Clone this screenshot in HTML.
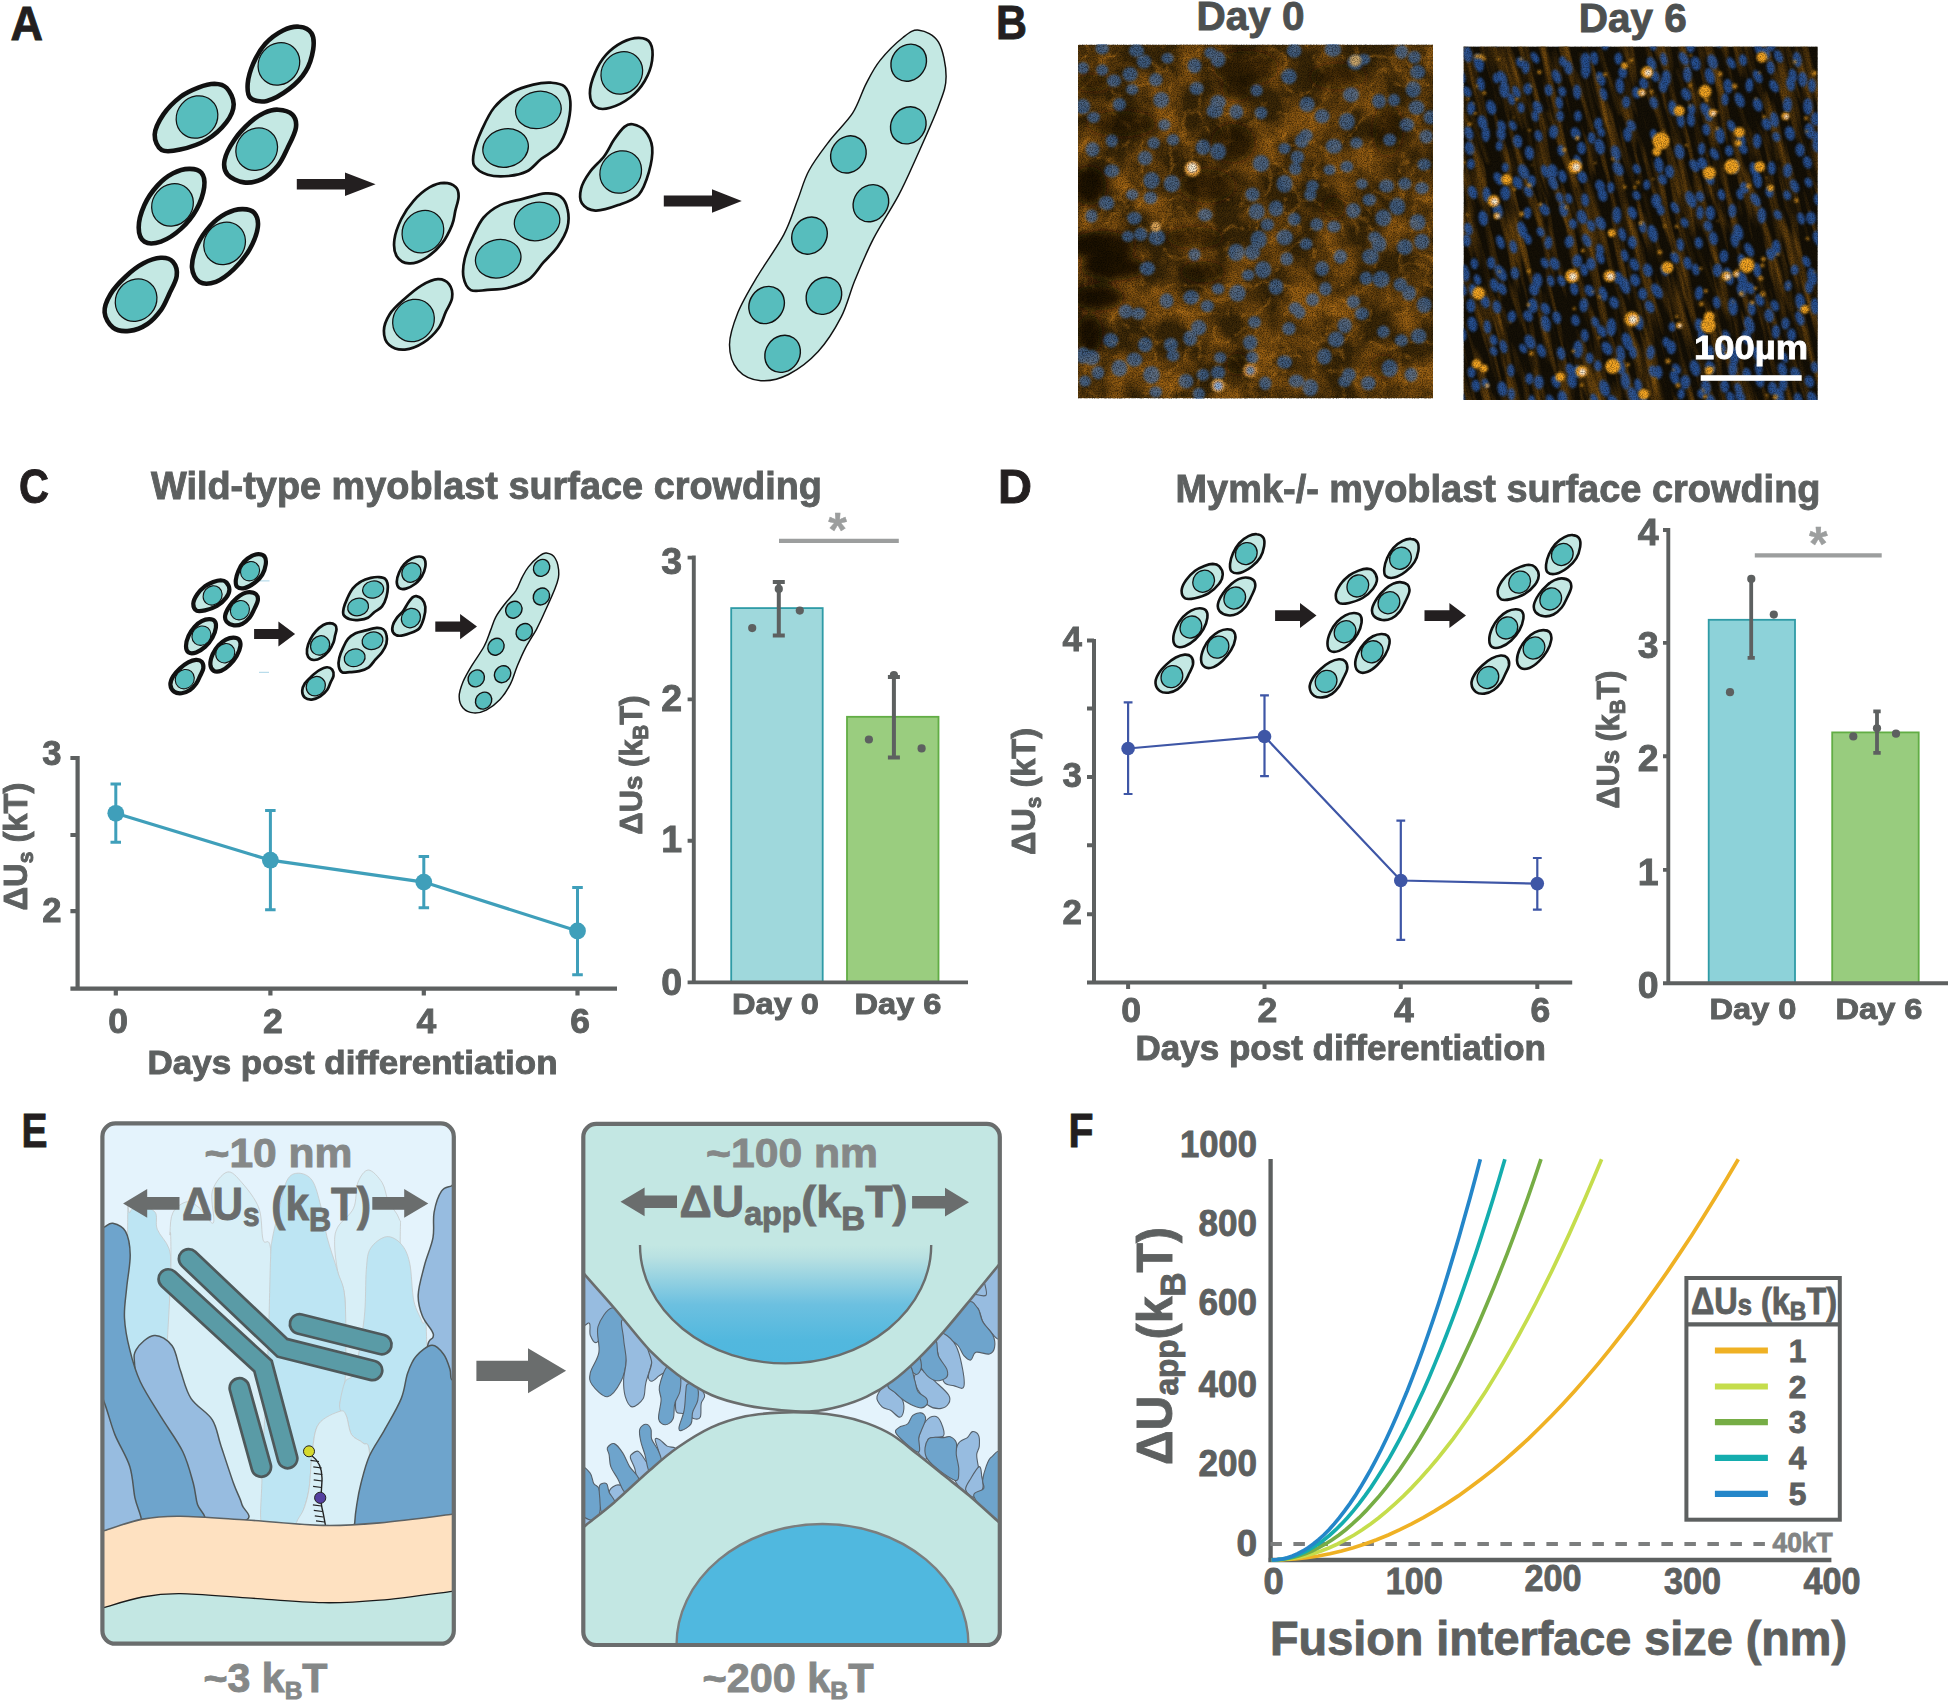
<!DOCTYPE html>
<html lang="en"><head><meta charset="utf-8"><title>Figure</title>
<style>html,body{margin:0;padding:0;background:#fff}body{width:1948px;height:1701px;overflow:hidden}svg{display:block}text{font-family:"Liberation Sans",sans-serif;font-weight:bold}</style></head><body>
<svg width="1948" height="1701" viewBox="0 0 1948 1701">
<defs>
<g id="cl1"><path d="M299.2 26.7C304 27.1 309.1 29.3 311.4 33.1C313.8 36.8 314.1 43 313.2 49.4C312.2 55.8 309.8 64.7 305.7 71.3C301.7 78 295.4 84.3 288.9 89.2C282.5 94.1 273.3 99.4 266.9 100.9C260.5 102.3 253.7 100.9 250.5 98C247.3 95.2 247.3 89.4 247.7 83.6C248.2 77.9 250.4 70.1 253.3 63.4C256.3 56.8 260.4 49.3 265.3 43.8C270.3 38.3 277.4 33.3 283 30.5C288.7 27.6 294.5 26.2 299.2 26.7Z" fill="#c4e8e3" stroke="#111" stroke-width="4.6" stroke-linejoin="round" vector-effect="non-scaling-stroke"/>
<path d="M214.5 83.7C219.2 83.8 223.5 84.6 226.7 88C229.9 91.4 233.8 98.5 233.7 104.2C233.7 110 230.9 116.4 226.3 122.3C221.7 128.3 213.9 135.5 206.2 140.1C198.5 144.6 187.6 147.9 180.2 149.6C172.8 151.2 166 152.4 161.7 150C157.5 147.5 154.5 140.6 154.7 134.6C155 128.7 159.1 120.7 163.4 114.4C167.7 108 174.8 101.2 180.6 96.7C186.5 92.3 192.7 89.8 198.3 87.6C203.9 85.4 209.7 83.7 214.5 83.7Z" fill="#c4e8e3" stroke="#111" stroke-width="4.6" stroke-linejoin="round" vector-effect="non-scaling-stroke"/>
<path d="M278.1 109.7C282.9 109.9 289.4 111.5 292.4 114.6C295.4 117.6 296.7 122.3 295.9 127.8C295.1 133.4 290.7 141.6 287.6 147.9C284.6 154.2 282.1 160.5 277.8 165.7C273.5 170.9 267.7 176.3 262 179.1C256.3 181.8 249.5 183.2 243.8 182.4C238 181.6 230.7 178.1 227.5 174.4C224.3 170.7 223.5 165.8 224.6 160.1C225.7 154.4 230 146.3 234.3 140C238.5 133.7 245.2 126.8 250.2 122.3C255.1 117.8 259.3 115.1 264 113C268.6 110.9 273.4 109.4 278.1 109.7Z" fill="#c4e8e3" stroke="#111" stroke-width="4.6" stroke-linejoin="round" vector-effect="non-scaling-stroke"/>
<path d="M189.2 168.9C193.9 168.8 198.9 169.8 201.4 172.8C203.9 175.8 205 181.1 204.2 187.1C203.4 193.2 200.5 202.2 196.7 209.1C192.8 216.1 186.9 223.5 180.9 228.9C175 234.3 167 239.4 161 241.6C154.9 243.7 148.3 244.2 144.6 241.8C140.9 239.5 138.7 233.6 138.7 227.5C138.6 221.4 141.2 212.2 144.3 205.2C147.4 198.2 152.6 190.9 157.4 185.6C162.2 180.3 167.7 176.1 173.1 173.3C178.4 170.5 184.5 169 189.2 168.9Z" fill="#c4e8e3" stroke="#111" stroke-width="4.6" stroke-linejoin="round" vector-effect="non-scaling-stroke"/>
<path d="M242.1 209.1C246.9 209 251.8 210 254.4 213C257 216.1 258.6 221.3 257.8 227.3C257 233.4 253.6 242.4 249.6 249.3C245.6 256.3 239.5 263.7 233.9 269.1C228.3 274.5 221.6 279.6 215.9 281.8C210.2 283.9 203.6 284.4 199.6 282C195.6 279.7 192.4 273.8 192 267.7C191.6 261.6 194.2 252.4 197.2 245.4C200.3 238.4 205.5 231.1 210.3 225.8C215.1 220.5 220.7 216.3 226 213.5C231.3 210.8 237.4 209.2 242.1 209.1Z" fill="#c4e8e3" stroke="#111" stroke-width="4.6" stroke-linejoin="round" vector-effect="non-scaling-stroke"/>
<path d="M160.6 257.8C165.6 257.5 170.2 258.7 172.9 261.7C175.6 264.8 177.4 270.6 176.7 276C176.1 281.4 171.7 288.5 169.1 294.2C166.5 299.8 164.7 304.9 161.1 309.9C157.5 314.8 152.7 320.5 147.4 324C142.1 327.6 135.1 330.3 129.3 330.9C123.6 331.5 117.1 330.8 113 327.7C108.9 324.6 105 318 104.6 312.4C104.1 306.8 106.9 300.2 110.5 294.2C114 288.2 120.3 281.6 125.8 276.5C131.3 271.3 137.6 266.4 143.5 263.3C149.3 260.2 155.7 258.1 160.6 257.8Z" fill="#c4e8e3" stroke="#111" stroke-width="4.6" stroke-linejoin="round" vector-effect="non-scaling-stroke"/>
<ellipse cx="278.9" cy="63.9" rx="22" ry="20" transform="rotate(-50 278.9 63.9)" fill="#57bdbd" stroke="#111" stroke-width="1.25" vector-effect="non-scaling-stroke"/>
<ellipse cx="197" cy="117" rx="22" ry="20" transform="rotate(-50 197 117)" fill="#57bdbd" stroke="#111" stroke-width="1.25" vector-effect="non-scaling-stroke"/>
<ellipse cx="256.7" cy="149.2" rx="22" ry="20" transform="rotate(-50 256.7 149.2)" fill="#57bdbd" stroke="#111" stroke-width="1.25" vector-effect="non-scaling-stroke"/>
<ellipse cx="172.5" cy="204.9" rx="22" ry="20" transform="rotate(-50 172.5 204.9)" fill="#57bdbd" stroke="#111" stroke-width="1.25" vector-effect="non-scaling-stroke"/>
<ellipse cx="224.6" cy="243.4" rx="22" ry="20" transform="rotate(-50 224.6 243.4)" fill="#57bdbd" stroke="#111" stroke-width="1.25" vector-effect="non-scaling-stroke"/>
<ellipse cx="136.1" cy="300.1" rx="22" ry="20" transform="rotate(-50 136.1 300.1)" fill="#57bdbd" stroke="#111" stroke-width="1.25" vector-effect="non-scaling-stroke"/></g>
<g id="cl1c"><path d="M299.2 26.7C304 27.1 309.1 29.3 311.4 33.1C313.8 36.8 314.1 43 313.2 49.4C312.2 55.8 309.8 64.7 305.7 71.3C301.7 78 295.4 84.3 288.9 89.2C282.5 94.1 273.3 99.4 266.9 100.9C260.5 102.3 253.7 100.9 250.5 98C247.3 95.2 247.3 89.4 247.7 83.6C248.2 77.9 250.4 70.1 253.3 63.4C256.3 56.8 260.4 49.3 265.3 43.8C270.3 38.3 277.4 33.3 283 30.5C288.7 27.6 294.5 26.2 299.2 26.7Z" fill="#c4e8e3" stroke="#111" stroke-width="4.2" stroke-linejoin="round" vector-effect="non-scaling-stroke"/>
<path d="M214.5 83.7C219.2 83.8 223.5 84.6 226.7 88C229.9 91.4 233.8 98.5 233.7 104.2C233.7 110 230.9 116.4 226.3 122.3C221.7 128.3 213.9 135.5 206.2 140.1C198.5 144.6 187.6 147.9 180.2 149.6C172.8 151.2 166 152.4 161.7 150C157.5 147.5 154.5 140.6 154.7 134.6C155 128.7 159.1 120.7 163.4 114.4C167.7 108 174.8 101.2 180.6 96.7C186.5 92.3 192.7 89.8 198.3 87.6C203.9 85.4 209.7 83.7 214.5 83.7Z" fill="#c4e8e3" stroke="#111" stroke-width="4.2" stroke-linejoin="round" vector-effect="non-scaling-stroke"/>
<path d="M278.1 109.7C282.9 109.9 289.4 111.5 292.4 114.6C295.4 117.6 296.7 122.3 295.9 127.8C295.1 133.4 290.7 141.6 287.6 147.9C284.6 154.2 282.1 160.5 277.8 165.7C273.5 170.9 267.7 176.3 262 179.1C256.3 181.8 249.5 183.2 243.8 182.4C238 181.6 230.7 178.1 227.5 174.4C224.3 170.7 223.5 165.8 224.6 160.1C225.7 154.4 230 146.3 234.3 140C238.5 133.7 245.2 126.8 250.2 122.3C255.1 117.8 259.3 115.1 264 113C268.6 110.9 273.4 109.4 278.1 109.7Z" fill="#c4e8e3" stroke="#111" stroke-width="4.2" stroke-linejoin="round" vector-effect="non-scaling-stroke"/>
<path d="M189.2 168.9C193.9 168.8 198.9 169.8 201.4 172.8C203.9 175.8 205 181.1 204.2 187.1C203.4 193.2 200.5 202.2 196.7 209.1C192.8 216.1 186.9 223.5 180.9 228.9C175 234.3 167 239.4 161 241.6C154.9 243.7 148.3 244.2 144.6 241.8C140.9 239.5 138.7 233.6 138.7 227.5C138.6 221.4 141.2 212.2 144.3 205.2C147.4 198.2 152.6 190.9 157.4 185.6C162.2 180.3 167.7 176.1 173.1 173.3C178.4 170.5 184.5 169 189.2 168.9Z" fill="#c4e8e3" stroke="#111" stroke-width="4.2" stroke-linejoin="round" vector-effect="non-scaling-stroke"/>
<path d="M242.1 209.1C246.9 209 251.8 210 254.4 213C257 216.1 258.6 221.3 257.8 227.3C257 233.4 253.6 242.4 249.6 249.3C245.6 256.3 239.5 263.7 233.9 269.1C228.3 274.5 221.6 279.6 215.9 281.8C210.2 283.9 203.6 284.4 199.6 282C195.6 279.7 192.4 273.8 192 267.7C191.6 261.6 194.2 252.4 197.2 245.4C200.3 238.4 205.5 231.1 210.3 225.8C215.1 220.5 220.7 216.3 226 213.5C231.3 210.8 237.4 209.2 242.1 209.1Z" fill="#c4e8e3" stroke="#111" stroke-width="4.2" stroke-linejoin="round" vector-effect="non-scaling-stroke"/>
<path d="M160.6 257.8C165.6 257.5 170.2 258.7 172.9 261.7C175.6 264.8 177.4 270.6 176.7 276C176.1 281.4 171.7 288.5 169.1 294.2C166.5 299.8 164.7 304.9 161.1 309.9C157.5 314.8 152.7 320.5 147.4 324C142.1 327.6 135.1 330.3 129.3 330.9C123.6 331.5 117.1 330.8 113 327.7C108.9 324.6 105 318 104.6 312.4C104.1 306.8 106.9 300.2 110.5 294.2C114 288.2 120.3 281.6 125.8 276.5C131.3 271.3 137.6 266.4 143.5 263.3C149.3 260.2 155.7 258.1 160.6 257.8Z" fill="#c4e8e3" stroke="#111" stroke-width="4.2" stroke-linejoin="round" vector-effect="non-scaling-stroke"/>
<ellipse cx="278.9" cy="63.9" rx="22" ry="20" transform="rotate(-50 278.9 63.9)" fill="#57bdbd" stroke="#111" stroke-width="1.1" vector-effect="non-scaling-stroke"/>
<ellipse cx="197" cy="117" rx="22" ry="20" transform="rotate(-50 197 117)" fill="#57bdbd" stroke="#111" stroke-width="1.1" vector-effect="non-scaling-stroke"/>
<ellipse cx="256.7" cy="149.2" rx="22" ry="20" transform="rotate(-50 256.7 149.2)" fill="#57bdbd" stroke="#111" stroke-width="1.1" vector-effect="non-scaling-stroke"/>
<ellipse cx="172.5" cy="204.9" rx="22" ry="20" transform="rotate(-50 172.5 204.9)" fill="#57bdbd" stroke="#111" stroke-width="1.1" vector-effect="non-scaling-stroke"/>
<ellipse cx="224.6" cy="243.4" rx="22" ry="20" transform="rotate(-50 224.6 243.4)" fill="#57bdbd" stroke="#111" stroke-width="1.1" vector-effect="non-scaling-stroke"/>
<ellipse cx="136.1" cy="300.1" rx="22" ry="20" transform="rotate(-50 136.1 300.1)" fill="#57bdbd" stroke="#111" stroke-width="1.1" vector-effect="non-scaling-stroke"/></g>
<g id="cl1d"><path d="M299.2 26.7C304 27.1 309.1 29.3 311.4 33.1C313.8 36.8 314.1 43 313.2 49.4C312.2 55.8 309.8 64.7 305.7 71.3C301.7 78 295.4 84.3 288.9 89.2C282.5 94.1 273.3 99.4 266.9 100.9C260.5 102.3 253.7 100.9 250.5 98C247.3 95.2 247.3 89.4 247.7 83.6C248.2 77.9 250.4 70.1 253.3 63.4C256.3 56.8 260.4 49.3 265.3 43.8C270.3 38.3 277.4 33.3 283 30.5C288.7 27.6 294.5 26.2 299.2 26.7Z" fill="#c4e8e3" stroke="#111" stroke-width="2.6" stroke-linejoin="round" vector-effect="non-scaling-stroke"/>
<path d="M214.5 83.7C219.2 83.8 223.5 84.6 226.7 88C229.9 91.4 233.8 98.5 233.7 104.2C233.7 110 230.9 116.4 226.3 122.3C221.7 128.3 213.9 135.5 206.2 140.1C198.5 144.6 187.6 147.9 180.2 149.6C172.8 151.2 166 152.4 161.7 150C157.5 147.5 154.5 140.6 154.7 134.6C155 128.7 159.1 120.7 163.4 114.4C167.7 108 174.8 101.2 180.6 96.7C186.5 92.3 192.7 89.8 198.3 87.6C203.9 85.4 209.7 83.7 214.5 83.7Z" fill="#c4e8e3" stroke="#111" stroke-width="2.6" stroke-linejoin="round" vector-effect="non-scaling-stroke"/>
<path d="M278.1 109.7C282.9 109.9 289.4 111.5 292.4 114.6C295.4 117.6 296.7 122.3 295.9 127.8C295.1 133.4 290.7 141.6 287.6 147.9C284.6 154.2 282.1 160.5 277.8 165.7C273.5 170.9 267.7 176.3 262 179.1C256.3 181.8 249.5 183.2 243.8 182.4C238 181.6 230.7 178.1 227.5 174.4C224.3 170.7 223.5 165.8 224.6 160.1C225.7 154.4 230 146.3 234.3 140C238.5 133.7 245.2 126.8 250.2 122.3C255.1 117.8 259.3 115.1 264 113C268.6 110.9 273.4 109.4 278.1 109.7Z" fill="#c4e8e3" stroke="#111" stroke-width="2.6" stroke-linejoin="round" vector-effect="non-scaling-stroke"/>
<path d="M189.2 168.9C193.9 168.8 198.9 169.8 201.4 172.8C203.9 175.8 205 181.1 204.2 187.1C203.4 193.2 200.5 202.2 196.7 209.1C192.8 216.1 186.9 223.5 180.9 228.9C175 234.3 167 239.4 161 241.6C154.9 243.7 148.3 244.2 144.6 241.8C140.9 239.5 138.7 233.6 138.7 227.5C138.6 221.4 141.2 212.2 144.3 205.2C147.4 198.2 152.6 190.9 157.4 185.6C162.2 180.3 167.7 176.1 173.1 173.3C178.4 170.5 184.5 169 189.2 168.9Z" fill="#c4e8e3" stroke="#111" stroke-width="2.6" stroke-linejoin="round" vector-effect="non-scaling-stroke"/>
<path d="M242.1 209.1C246.9 209 251.8 210 254.4 213C257 216.1 258.6 221.3 257.8 227.3C257 233.4 253.6 242.4 249.6 249.3C245.6 256.3 239.5 263.7 233.9 269.1C228.3 274.5 221.6 279.6 215.9 281.8C210.2 283.9 203.6 284.4 199.6 282C195.6 279.7 192.4 273.8 192 267.7C191.6 261.6 194.2 252.4 197.2 245.4C200.3 238.4 205.5 231.1 210.3 225.8C215.1 220.5 220.7 216.3 226 213.5C231.3 210.8 237.4 209.2 242.1 209.1Z" fill="#c4e8e3" stroke="#111" stroke-width="2.6" stroke-linejoin="round" vector-effect="non-scaling-stroke"/>
<path d="M160.6 257.8C165.6 257.5 170.2 258.7 172.9 261.7C175.6 264.8 177.4 270.6 176.7 276C176.1 281.4 171.7 288.5 169.1 294.2C166.5 299.8 164.7 304.9 161.1 309.9C157.5 314.8 152.7 320.5 147.4 324C142.1 327.6 135.1 330.3 129.3 330.9C123.6 331.5 117.1 330.8 113 327.7C108.9 324.6 105 318 104.6 312.4C104.1 306.8 106.9 300.2 110.5 294.2C114 288.2 120.3 281.6 125.8 276.5C131.3 271.3 137.6 266.4 143.5 263.3C149.3 260.2 155.7 258.1 160.6 257.8Z" fill="#c4e8e3" stroke="#111" stroke-width="2.6" stroke-linejoin="round" vector-effect="non-scaling-stroke"/>
<ellipse cx="278.9" cy="63.9" rx="22" ry="20" transform="rotate(-50 278.9 63.9)" fill="#57bdbd" stroke="#111" stroke-width="1.3" vector-effect="non-scaling-stroke"/>
<ellipse cx="197" cy="117" rx="22" ry="20" transform="rotate(-50 197 117)" fill="#57bdbd" stroke="#111" stroke-width="1.3" vector-effect="non-scaling-stroke"/>
<ellipse cx="256.7" cy="149.2" rx="22" ry="20" transform="rotate(-50 256.7 149.2)" fill="#57bdbd" stroke="#111" stroke-width="1.3" vector-effect="non-scaling-stroke"/>
<ellipse cx="172.5" cy="204.9" rx="22" ry="20" transform="rotate(-50 172.5 204.9)" fill="#57bdbd" stroke="#111" stroke-width="1.3" vector-effect="non-scaling-stroke"/>
<ellipse cx="224.6" cy="243.4" rx="22" ry="20" transform="rotate(-50 224.6 243.4)" fill="#57bdbd" stroke="#111" stroke-width="1.3" vector-effect="non-scaling-stroke"/>
<ellipse cx="136.1" cy="300.1" rx="22" ry="20" transform="rotate(-50 136.1 300.1)" fill="#57bdbd" stroke="#111" stroke-width="1.3" vector-effect="non-scaling-stroke"/></g>
<g id="cl2"><path d="M638.9 37.9C643.5 38 648 39.2 650.2 43C652.4 46.8 653 54.3 652.1 60.6C651.2 66.9 648.3 74.9 644.7 81C641.1 87.1 636.3 92.8 630.5 97.3C624.8 101.7 615.9 106.2 610.1 107.8C604.2 109.5 598.9 109.3 595.6 107C592.2 104.6 590 99.1 589.9 93.5C589.8 87.8 592.2 79.4 595 72.9C597.7 66.4 601.6 59.8 606.2 54.7C610.8 49.6 617 45.1 622.4 42.3C627.8 39.5 634.2 37.8 638.9 37.9Z" fill="#c4e8e3" stroke="#111" stroke-width="2.7" stroke-linejoin="round" vector-effect="non-scaling-stroke"/>
<path d="M551 82.7C556.2 83.1 561.3 83.4 564.5 86.4C567.8 89.5 569.8 94.4 570.3 101C570.8 107.6 569.4 118.3 567.4 125.9C565.3 133.5 562.3 141 557.9 146.5C553.6 152 546.6 154.6 541.4 158.8C536.3 162.9 532.6 168.4 527.1 171.3C521.6 174.2 515.1 175.4 508.5 176C501.9 176.6 493.4 176.5 487.7 174.7C481.9 172.9 476.4 169.4 474.1 165.4C471.9 161.4 473 156.7 474.2 150.8C475.5 144.9 478.4 137.3 481.7 130.1C485.1 122.8 489 113.8 494.2 107.5C499.4 101.1 506.2 95.8 512.7 92C519.2 88.1 526.9 86.1 533.3 84.6C539.7 83 545.8 82.4 551 82.7Z" fill="#c4e8e3" stroke="#111" stroke-width="2.7" stroke-linejoin="round" vector-effect="non-scaling-stroke"/>
<path d="M632.6 124.3C636.1 125 641.8 127.1 645 130.9C648.3 134.8 651.5 140.6 652.2 147.5C652.8 154.4 651.1 164.3 648.9 172.2C646.6 180.1 643.8 189.3 638.7 194.8C633.6 200.3 625.4 202.5 618.2 205.1C611 207.8 601.5 210.9 595.4 210.6C589.4 210.3 584.3 207 581.9 203.3C579.5 199.7 579.8 193.9 581.1 188.7C582.3 183.6 585.8 177.6 589.7 172.2C593.5 166.7 600.2 161.6 604.2 156.2C608.3 150.7 610.7 144.5 614.1 139.6C617.5 134.7 621.3 129.5 624.4 126.9C627.5 124.4 629.2 123.6 632.6 124.3Z" fill="#c4e8e3" stroke="#111" stroke-width="2.7" stroke-linejoin="round" vector-effect="non-scaling-stroke"/>
<path d="M444.2 182.9C448.5 182.9 453.2 184.8 455.6 187C458 189.2 458.7 192.4 458.6 196.4C458.6 200.3 456.4 206.1 455.3 210.9C454.2 215.7 454.3 219.7 452 225.1C449.8 230.5 446.4 237.9 442 243.4C437.6 248.9 431.2 254.7 425.7 258.1C420.2 261.4 414 263.8 409.1 263.4C404.3 263.1 399.2 260.2 396.7 256.2C394.3 252.2 393.6 245.8 394.4 239.6C395.2 233.4 398.1 225.5 401.3 219C404.5 212.5 408.8 206.1 413.6 200.8C418.3 195.5 424.7 190.2 429.8 187.2C434.9 184.3 439.9 183 444.2 182.9Z" fill="#c4e8e3" stroke="#111" stroke-width="2.7" stroke-linejoin="round" vector-effect="non-scaling-stroke"/>
<path d="M545.7 193.4C551.9 193 556.6 193.9 560.3 196.4C563.9 199 566.4 203.7 567.5 209C568.7 214.2 569 221.5 567.4 227.7C565.8 233.9 561.9 240.5 557.8 246.4C553.8 252.2 548.1 257.2 543.2 262.7C538.4 268.2 534.8 275.1 528.9 279.3C523.1 283.4 515.2 285.9 508.3 287.7C501.4 289.5 493.8 289.5 487.5 289.9C481.3 290.3 474.8 292.2 470.8 290.1C466.8 288 464.6 282.8 463.6 277.6C462.5 272.4 463.1 265.7 464.7 258.8C466.4 251.9 470.1 242.9 473.3 236C476.4 229.1 479.1 222.7 483.6 217.5C488.1 212.4 493.6 208.3 500.1 205.1C506.6 202 515.2 200.8 522.8 198.9C530.4 196.9 539.4 193.8 545.7 193.4Z" fill="#c4e8e3" stroke="#111" stroke-width="2.7" stroke-linejoin="round" vector-effect="non-scaling-stroke"/>
<path d="M437.8 279.2C442.4 279 446.8 281.2 449.2 284.3C451.6 287.4 452.7 293.1 452.1 297.7C451.6 302.4 448 307.1 445.7 312.1C443.4 317.2 442.2 323.2 438.5 328.3C434.8 333.4 429 339.2 423.4 342.7C417.8 346.3 410.5 349.2 404.9 349.6C399.2 350 392.8 348.3 389.3 345.1C385.8 342 383.8 335.8 383.9 330.7C383.9 325.5 386.5 319.3 389.7 314.2C392.9 309.1 397.9 304.8 403.2 300.1C408.4 295.3 415.5 289.1 421.3 285.6C427.1 282.2 433.2 279.4 437.8 279.2Z" fill="#c4e8e3" stroke="#111" stroke-width="2.7" stroke-linejoin="round" vector-effect="non-scaling-stroke"/>
<ellipse cx="621.8" cy="72.9" rx="22" ry="20" transform="rotate(-50 621.8 72.9)" fill="#57bdbd" stroke="#111" stroke-width="1.25" vector-effect="non-scaling-stroke"/>
<ellipse cx="538.4" cy="109.9" rx="23" ry="18.5" transform="rotate(-12 538.4 109.9)" fill="#57bdbd" stroke="#111" stroke-width="1.25" vector-effect="non-scaling-stroke"/>
<ellipse cx="505.6" cy="148" rx="23" ry="19" transform="rotate(-15 505.6 148)" fill="#57bdbd" stroke="#111" stroke-width="1.25" vector-effect="non-scaling-stroke"/>
<ellipse cx="620.7" cy="172" rx="22" ry="20" transform="rotate(-50 620.7 172)" fill="#57bdbd" stroke="#111" stroke-width="1.25" vector-effect="non-scaling-stroke"/>
<ellipse cx="422.9" cy="231.6" rx="22" ry="20" transform="rotate(-50 422.9 231.6)" fill="#57bdbd" stroke="#111" stroke-width="1.25" vector-effect="non-scaling-stroke"/>
<ellipse cx="537.1" cy="221.5" rx="23" ry="19" transform="rotate(-15 537.1 221.5)" fill="#57bdbd" stroke="#111" stroke-width="1.25" vector-effect="non-scaling-stroke"/>
<ellipse cx="498.2" cy="258.7" rx="23" ry="19" transform="rotate(-15 498.2 258.7)" fill="#57bdbd" stroke="#111" stroke-width="1.25" vector-effect="non-scaling-stroke"/>
<ellipse cx="413.5" cy="320.5" rx="22" ry="20" transform="rotate(-50 413.5 320.5)" fill="#57bdbd" stroke="#111" stroke-width="1.25" vector-effect="non-scaling-stroke"/></g>
<g id="tube"><path d="M919 30.2C924.9 30.9 934 34.4 938.5 42.1C943 49.8 946.1 65.8 946.1 76.5C946.1 87.2 943.4 92.9 938.5 106.3C933.6 119.6 923.4 141.8 916.7 156.7C910 171.6 905.7 181.9 898.4 195.7C891.1 209.4 880.4 225.1 873.2 239.2C865.9 253.4 860.2 267.5 854.8 280.5C849.5 293.5 847.2 305.3 841.1 317.2C835 329 827 342 818.2 351.5C809.4 361.1 797.9 369.6 788.4 374.5C778.8 379.3 769.3 381.4 760.9 380.7C752.5 379.9 743.2 375.9 737.9 369.9C732.7 363.9 729.5 354.2 729.5 344.7C729.5 335.1 733.5 323.7 737.9 312.6C742.4 301.5 748.6 291.2 756.3 278.2C763.9 265.2 776.9 247.6 783.8 234.6C790.7 221.7 793.3 211 797.5 200.3C801.7 189.6 803.6 180.4 809 170.5C814.3 160.5 822.4 150.2 829.6 140.7C836.9 131.1 846.4 122.7 852.6 113.2C858.7 103.6 861.7 92.1 866.3 83.4C870.9 74.6 873.9 68.1 880.1 60.4C886.2 52.8 896.5 42.6 903 37.5C909.5 32.5 913.1 29.4 919 30.2Z" fill="#c4e8e3" stroke="#111" stroke-width="1.45" vector-effect="non-scaling-stroke"/>
<ellipse cx="908.7" cy="62.7" rx="19.3" ry="17" transform="rotate(-55 908.7 62.7)" fill="#57bdbd" stroke="#111" stroke-width="1.4" vector-effect="non-scaling-stroke"/>
<ellipse cx="908.3" cy="125.3" rx="19.3" ry="17" transform="rotate(-55 908.3 125.3)" fill="#57bdbd" stroke="#111" stroke-width="1.4" vector-effect="non-scaling-stroke"/>
<ellipse cx="848.4" cy="154.4" rx="19.3" ry="17" transform="rotate(-55 848.4 154.4)" fill="#57bdbd" stroke="#111" stroke-width="1.4" vector-effect="non-scaling-stroke"/>
<ellipse cx="870.9" cy="203.2" rx="19.3" ry="17" transform="rotate(-55 870.9 203.2)" fill="#57bdbd" stroke="#111" stroke-width="1.4" vector-effect="non-scaling-stroke"/>
<ellipse cx="809.5" cy="235.6" rx="19.3" ry="17" transform="rotate(-55 809.5 235.6)" fill="#57bdbd" stroke="#111" stroke-width="1.4" vector-effect="non-scaling-stroke"/>
<ellipse cx="823.9" cy="295.8" rx="19.3" ry="17" transform="rotate(-55 823.9 295.8)" fill="#57bdbd" stroke="#111" stroke-width="1.4" vector-effect="non-scaling-stroke"/>
<ellipse cx="766.6" cy="305" rx="19.3" ry="17" transform="rotate(-55 766.6 305)" fill="#57bdbd" stroke="#111" stroke-width="1.4" vector-effect="non-scaling-stroke"/>
<ellipse cx="782.6" cy="353.8" rx="19.3" ry="17" transform="rotate(-55 782.6 353.8)" fill="#57bdbd" stroke="#111" stroke-width="1.4" vector-effect="non-scaling-stroke"/></g>

<clipPath id="clipB1"><rect x="1078" y="44.8" width="355" height="353.4"/></clipPath>
<clipPath id="clipB2"><rect x="1463.5" y="46.4" width="354.3" height="353.6"/></clipPath>
<filter id="blur1" x="-5%" y="-5%" width="110%" height="110%"><feGaussianBlur stdDeviation="1"/></filter>
<filter id="blur2" x="-5%" y="-5%" width="110%" height="110%"><feGaussianBlur stdDeviation="1.6"/></filter>
<filter id="blur4" x="-10%" y="-10%" width="120%" height="120%"><feGaussianBlur stdDeviation="4.5"/></filter>
<filter id="cloud1" x="0" y="0" width="100%" height="100%" color-interpolation-filters="sRGB"><feTurbulence type="fractalNoise" baseFrequency="0.028" numOctaves="4" seed="3"/>
<feColorMatrix type="matrix" values="0 0 0 0 0.60  0 0 0 0 0.375  0 0 0 0 0.075  2.4 0 0 0 -0.85"/></filter>
<filter id="web1" x="0" y="0" width="100%" height="100%" color-interpolation-filters="sRGB"><feTurbulence type="turbulence" baseFrequency="0.035" numOctaves="3" seed="5"/>
<feColorMatrix type="matrix" values="0 0 0 0 0.85  0 0 0 0 0.55  0 0 0 0 0.14  -5 0 0 0 1.0"/><feGaussianBlur stdDeviation="0.7"/></filter>
<filter id="cloud2" x="0" y="0" width="100%" height="100%" color-interpolation-filters="sRGB"><feTurbulence type="fractalNoise" baseFrequency="0.11 0.012" numOctaves="3" seed="8"/>
<feColorMatrix type="matrix" values="0 0 0 0 0.50  0 0 0 0 0.32  0 0 0 0 0.06  2.3 0 0 0 -1.02"/></filter>
<filter id="grain" x="0" y="0" width="100%" height="100%" color-interpolation-filters="sRGB"><feTurbulence type="fractalNoise" baseFrequency="0.8" numOctaves="2" seed="2"/>
<feColorMatrix type="matrix" values="0 0 0 0 0  0 0 0 0 0  0 0 0 0 0  2.4 0 0 0 -0.9"/></filter>

<clipPath id="clipE1"><rect x="102.4" y="1123.4" width="351.4" height="520.3" rx="13"/></clipPath>
<clipPath id="clipE2"><rect x="583.3" y="1123.9" width="416.5" height="521.1" rx="13"/></clipPath>
<clipPath id="clipGap"><path d="M575 1263C576.8 1265.1 579.1 1268.1 585.6 1275.6C592.1 1283.1 603.5 1295.5 614.2 1308C624.9 1320.5 639.5 1339.5 650 1350.6C660.5 1361.7 667.1 1367.1 677.3 1374.5C687.5 1381.9 700 1389.9 711.4 1395C722.8 1400.1 734.1 1402.7 745.5 1405.2C756.9 1407.7 768.5 1409 779.6 1410C790.7 1411 801.7 1412.1 812 1411.4C822.3 1410.7 832.1 1408.5 841.2 1406C850.3 1403.5 858.2 1400.8 866.7 1396.7C875.2 1392.6 883.8 1387.6 892.3 1381.3C900.8 1375 909.4 1367.3 917.9 1359.1C926.4 1350.9 935 1341.6 943.5 1331.9C952 1322.2 960.1 1312.2 969.1 1301.2C978.1 1290.2 991.2 1274.2 997.7 1266.2C1004.2 1258.2 1006.3 1255.6 1008 1253.5L1008 1530.5C1006.3 1528.9 1004.2 1526.9 997.7 1521.1C991.2 1515.3 978.1 1503.3 969.1 1495.6C960.1 1487.9 952 1481.9 943.5 1475.1C935 1468.3 926.4 1461.3 917.9 1454.6C909.4 1447.9 900.8 1440.2 892.3 1435C883.8 1429.8 875.2 1426.2 866.7 1423.1C858.2 1420 850.3 1418 841.2 1416.3C832.1 1414.6 822.3 1413.4 812 1412.8C801.7 1412.2 790.7 1412 779.6 1412.6C768.5 1413.2 756.9 1413.8 745.5 1416.3C734.1 1418.8 722.8 1422.2 711.4 1427.4C700 1432.7 687.5 1440.7 677.3 1447.8C667.1 1454.9 660.5 1460.9 650 1470C639.5 1479.1 624.9 1493.2 614.2 1502.4C603.5 1511.6 592.1 1520.1 585.6 1525.4C579.1 1530.7 576.8 1532.6 575 1534Z"/></clipPath>
<linearGradient id="gradN" x1="0" y1="1245" x2="0" y2="1364" gradientUnits="userSpaceOnUse"><stop offset="0" stop-color="#c3e7e3"/><stop offset="0.1" stop-color="#b9e1e2"/><stop offset="0.5" stop-color="#6cc0e0"/><stop offset="0.8" stop-color="#52b8de"/><stop offset="1" stop-color="#4fb7de"/></linearGradient>

</defs>
<rect width="1948" height="1701" fill="#fff"/>
<!-- Panel A -->
<text x="10.5" y="39.9" font-size="47.8" fill="#231f20" stroke="#231f20" stroke-width="0.9" textLength="32.5" lengthAdjust="spacingAndGlyphs">A</text>
<use href="#cl1"/>
<use href="#cl2"/>
<use href="#tube"/>
<path d="M296.8 179H345V172.6L375.6 184.3L345 196V189.6H296.8Z" fill="#231f20"/>
<path d="M663.8 195.6H712V189.2L741.8 201L712 212.8V206.4H663.8Z" fill="#231f20"/>
<!-- Panel B -->
<text x="996" y="39.3" font-size="47.8" fill="#231f20" stroke="#231f20" stroke-width="0.9" textLength="31" lengthAdjust="spacingAndGlyphs">B</text>
<text x="1196.5" y="29.9" font-size="40.8" fill="#4d5050" stroke="#4d5050" stroke-width="0.9" textLength="108" lengthAdjust="spacingAndGlyphs">Day 0</text>
<text x="1578.7" y="31.6" font-size="40.8" fill="#4d5050" stroke="#4d5050" stroke-width="0.9" textLength="108" lengthAdjust="spacingAndGlyphs">Day 6</text>
<g clip-path="url(#clipB1)">
<rect x="1078" y="44.8" width="355" height="353.4" fill="#3d2908"/>
<rect x="1078" y="44.8" width="355" height="353.4" filter="url(#cloud1)"/>
<rect x="1078" y="44.8" width="355" height="353.4" filter="url(#web1)" opacity="0.45"/>
<g filter="url(#blur4)" fill="#1a1103">
<ellipse cx="1246" cy="67.9" rx="32.2" ry="17.2" opacity="0.6"/>
<ellipse cx="1093.6" cy="82.9" rx="17.2" ry="8.6" opacity="0.6"/>
<ellipse cx="1338.2" cy="76.5" rx="27.9" ry="12.9" opacity="0.6"/>
<ellipse cx="1237.4" cy="89.4" rx="15" ry="10.7" opacity="0.6"/>
<ellipse cx="1121.5" cy="123.7" rx="34.3" ry="12.9" opacity="0.6"/>
<ellipse cx="1233.1" cy="143" rx="21.5" ry="19.3" opacity="0.6"/>
<ellipse cx="1207.3" cy="185.9" rx="27.9" ry="17.2" opacity="0.6"/>
<ellipse cx="1089.3" cy="185.9" rx="17.2" ry="19.3" opacity="0.9"/>
<ellipse cx="1102.2" cy="246" rx="32.2" ry="15" opacity="0.9"/>
<ellipse cx="1112.9" cy="267.5" rx="32.2" ry="12.9" opacity="0.9"/>
<ellipse cx="1194.5" cy="237.4" rx="27.9" ry="10.7" opacity="0.6"/>
<ellipse cx="1203" cy="271.8" rx="21.5" ry="10.7" opacity="0.6"/>
<ellipse cx="1097.9" cy="297.5" rx="25.8" ry="12.9" opacity="0.9"/>
<ellipse cx="1089.3" cy="334" rx="12.9" ry="19.3" opacity="0.9"/>
<ellipse cx="1387.6" cy="130.1" rx="15" ry="25.8" opacity="0.6"/>
<ellipse cx="1333.9" cy="207.4" rx="10.7" ry="10.7" opacity="0.6"/>
<ellipse cx="1383.3" cy="366.2" rx="12.9" ry="10.7" opacity="0.6"/>
<ellipse cx="1237.4" cy="364" rx="10.7" ry="10.7" opacity="0.6"/>
</g>
<g filter="url(#blur1)" fill="#4277bd" opacity="0.66">
<ellipse cx="1102.2" cy="48.6" rx="6.8" ry="6"/>
<ellipse cx="1136.5" cy="50.7" rx="7.6" ry="6.6"/>
<ellipse cx="1144" cy="61.5" rx="7.3" ry="6.9"/>
<ellipse cx="1082.9" cy="67.9" rx="6.1" ry="6"/>
<ellipse cx="1102.2" cy="70" rx="6.1" ry="5.8"/>
<ellipse cx="1167.6" cy="58.2" rx="6.2" ry="5.4"/>
<ellipse cx="1194.5" cy="65.8" rx="7" ry="7.4"/>
<ellipse cx="1210.6" cy="52.9" rx="6.3" ry="5.7"/>
<ellipse cx="1218.1" cy="59.3" rx="7.5" ry="8.2"/>
<ellipse cx="1294.2" cy="50.7" rx="7.4" ry="7"/>
<ellipse cx="1332.9" cy="49.7" rx="8.3" ry="7.2"/>
<ellipse cx="1355.4" cy="62.5" rx="8.1" ry="7.4"/>
<ellipse cx="1364" cy="59.3" rx="6.3" ry="5.6"/>
<ellipse cx="1401.5" cy="51.8" rx="6.7" ry="7.1"/>
<ellipse cx="1414.4" cy="57.2" rx="6.4" ry="6.4"/>
<ellipse cx="1417.6" cy="72.2" rx="7.5" ry="7.1"/>
<ellipse cx="1114" cy="80.8" rx="7.3" ry="6.3"/>
<ellipse cx="1132.2" cy="89.4" rx="6.1" ry="5.5"/>
<ellipse cx="1130.1" cy="74.3" rx="7.6" ry="7.3"/>
<ellipse cx="1155.8" cy="79.7" rx="6.8" ry="6.7"/>
<ellipse cx="1196.6" cy="88.3" rx="7.1" ry="6.6"/>
<ellipse cx="1161.2" cy="100.1" rx="7.9" ry="8.1"/>
<ellipse cx="1119.4" cy="104.4" rx="6.6" ry="6.5"/>
<ellipse cx="1082.9" cy="106.5" rx="7.3" ry="7.8"/>
<ellipse cx="1218.1" cy="102.2" rx="7.8" ry="7.1"/>
<ellipse cx="1214.8" cy="110.8" rx="8.4" ry="7.3"/>
<ellipse cx="1236.3" cy="111.9" rx="7" ry="7.3"/>
<ellipse cx="1261" cy="113" rx="6.4" ry="6.2"/>
<ellipse cx="1256.7" cy="90.4" rx="6.1" ry="6.2"/>
<ellipse cx="1288.9" cy="76.5" rx="7.8" ry="7.8"/>
<ellipse cx="1351.1" cy="94.7" rx="8.1" ry="7.5"/>
<ellipse cx="1307.1" cy="104.4" rx="7.7" ry="7.7"/>
<ellipse cx="1322.1" cy="116.2" rx="7.4" ry="7.1"/>
<ellipse cx="1346.8" cy="121.5" rx="8" ry="8.7"/>
<ellipse cx="1379" cy="101.2" rx="7.1" ry="7.3"/>
<ellipse cx="1394" cy="100.1" rx="6.1" ry="6.3"/>
<ellipse cx="1413.3" cy="89.4" rx="7.6" ry="8.3"/>
<ellipse cx="1416.6" cy="107.6" rx="8" ry="7.3"/>
<ellipse cx="1430.5" cy="117.3" rx="6.9" ry="7"/>
<ellipse cx="1164.4" cy="124.8" rx="6.1" ry="5.8"/>
<ellipse cx="1093.6" cy="117.3" rx="6.4" ry="5.6"/>
<ellipse cx="1111.8" cy="140.9" rx="6.1" ry="6.4"/>
<ellipse cx="1173" cy="139.8" rx="6.3" ry="5.8"/>
<ellipse cx="1092.5" cy="149.4" rx="6.9" ry="7.4"/>
<ellipse cx="1153.7" cy="143" rx="6.2" ry="6"/>
<ellipse cx="1203" cy="147.3" rx="7.3" ry="7.8"/>
<ellipse cx="1218.1" cy="151.6" rx="8" ry="8.5"/>
<ellipse cx="1306.1" cy="135.5" rx="6.7" ry="6.4"/>
<ellipse cx="1301.8" cy="140.9" rx="6.9" ry="7.3"/>
<ellipse cx="1333.9" cy="146.2" rx="8.3" ry="7.4"/>
<ellipse cx="1356.5" cy="143" rx="6.4" ry="5.8"/>
<ellipse cx="1389.7" cy="139.8" rx="6.6" ry="6.4"/>
<ellipse cx="1406.9" cy="124.8" rx="7.4" ry="6.8"/>
<ellipse cx="1284.6" cy="148.4" rx="6" ry="5.7"/>
<ellipse cx="1426.2" cy="136.6" rx="6.9" ry="6.8"/>
<ellipse cx="1261" cy="163.4" rx="8.3" ry="8.5"/>
<ellipse cx="1145.1" cy="158" rx="7.2" ry="7.3"/>
<ellipse cx="1111.8" cy="170.9" rx="7.6" ry="6.6"/>
<ellipse cx="1171.9" cy="183.8" rx="8.2" ry="8.5"/>
<ellipse cx="1151.5" cy="180.6" rx="8.1" ry="8.5"/>
<ellipse cx="1297.5" cy="157" rx="6.9" ry="6.6"/>
<ellipse cx="1295.3" cy="168.8" rx="6.2" ry="6.3"/>
<ellipse cx="1329.7" cy="169.8" rx="6.1" ry="5.3"/>
<ellipse cx="1346.8" cy="166.6" rx="6.5" ry="5.8"/>
<ellipse cx="1424.1" cy="164.5" rx="6.8" ry="5.9"/>
<ellipse cx="1361.8" cy="183.8" rx="6" ry="5.3"/>
<ellipse cx="1312.5" cy="185.9" rx="6.2" ry="5.9"/>
<ellipse cx="1310.3" cy="194.5" rx="6.1" ry="6.5"/>
<ellipse cx="1386.5" cy="185.9" rx="7.5" ry="6.6"/>
<ellipse cx="1404.8" cy="183.8" rx="6.6" ry="6.2"/>
<ellipse cx="1421.9" cy="188.1" rx="6.9" ry="6.1"/>
<ellipse cx="1284.6" cy="183.8" rx="8" ry="8.8"/>
<ellipse cx="1252.4" cy="194.5" rx="7.1" ry="6.9"/>
<ellipse cx="1132.2" cy="194.5" rx="6.2" ry="5.4"/>
<ellipse cx="1150.5" cy="197.7" rx="6.8" ry="6.3"/>
<ellipse cx="1106.5" cy="203.1" rx="8" ry="7.1"/>
<ellipse cx="1091.5" cy="216" rx="6.1" ry="6.6"/>
<ellipse cx="1134.4" cy="218.1" rx="7.3" ry="6.4"/>
<ellipse cx="1205.2" cy="214.9" rx="7.3" ry="6.3"/>
<ellipse cx="1276" cy="208.5" rx="7.3" ry="8"/>
<ellipse cx="1256.7" cy="211.7" rx="8.1" ry="8.3"/>
<ellipse cx="1267.4" cy="224.5" rx="6.6" ry="6.2"/>
<ellipse cx="1294.2" cy="219.2" rx="6.4" ry="6.7"/>
<ellipse cx="1353.3" cy="210.6" rx="7.3" ry="7.6"/>
<ellipse cx="1369.4" cy="199.9" rx="6.8" ry="6.2"/>
<ellipse cx="1397.3" cy="206.3" rx="7.9" ry="8.7"/>
<ellipse cx="1383.3" cy="218.1" rx="8" ry="8.5"/>
<ellipse cx="1417.6" cy="222.4" rx="8" ry="8.2"/>
<ellipse cx="1316.8" cy="224.5" rx="6.5" ry="6.4"/>
<ellipse cx="1333.9" cy="226.7" rx="6.9" ry="5.9"/>
<ellipse cx="1127.9" cy="236.4" rx="6.1" ry="5.6"/>
<ellipse cx="1140.8" cy="234.2" rx="6.6" ry="6.8"/>
<ellipse cx="1156.9" cy="237.4" rx="8.3" ry="8"/>
<ellipse cx="1258.8" cy="239.6" rx="8.2" ry="9"/>
<ellipse cx="1284.6" cy="237.4" rx="8.3" ry="7.8"/>
<ellipse cx="1306.1" cy="243.9" rx="6.5" ry="5.9"/>
<ellipse cx="1374.7" cy="237.4" rx="6.5" ry="5.8"/>
<ellipse cx="1379" cy="243.9" rx="7.5" ry="8.1"/>
<ellipse cx="1404.8" cy="247.1" rx="8" ry="7.8"/>
<ellipse cx="1421.9" cy="241.7" rx="7.6" ry="7.9"/>
<ellipse cx="1194.5" cy="254.6" rx="6.2" ry="6.3"/>
<ellipse cx="1236.3" cy="252.4" rx="8.2" ry="8.6"/>
<ellipse cx="1252.4" cy="252.4" rx="7.8" ry="7.6"/>
<ellipse cx="1286.7" cy="258.9" rx="6.4" ry="6.7"/>
<ellipse cx="1340.4" cy="256.7" rx="6.8" ry="7.1"/>
<ellipse cx="1370.4" cy="256.7" rx="8.3" ry="7.9"/>
<ellipse cx="1322.1" cy="268.5" rx="7" ry="7.6"/>
<ellipse cx="1147.3" cy="268.5" rx="7.7" ry="6.9"/>
<ellipse cx="1248.1" cy="275" rx="6.3" ry="5.6"/>
<ellipse cx="1263.1" cy="269.6" rx="8.2" ry="8.6"/>
<ellipse cx="1366.1" cy="278.2" rx="6.4" ry="6.7"/>
<ellipse cx="1381.2" cy="279.3" rx="8.4" ry="8.5"/>
<ellipse cx="1400.5" cy="284.6" rx="6.8" ry="6.8"/>
<ellipse cx="1218.1" cy="288.9" rx="6.3" ry="5.4"/>
<ellipse cx="1237.4" cy="293.2" rx="8.3" ry="8.4"/>
<ellipse cx="1276" cy="286.8" rx="7.3" ry="7.9"/>
<ellipse cx="1166.6" cy="300.7" rx="7" ry="7.5"/>
<ellipse cx="1191.2" cy="297.5" rx="8" ry="7.2"/>
<ellipse cx="1207.3" cy="306.1" rx="6.6" ry="6.1"/>
<ellipse cx="1312.5" cy="299.7" rx="6.6" ry="6.6"/>
<ellipse cx="1295.3" cy="308.2" rx="6.6" ry="6.3"/>
<ellipse cx="1325.4" cy="288.9" rx="6.3" ry="6.8"/>
<ellipse cx="1353.3" cy="301.8" rx="6.8" ry="6.6"/>
<ellipse cx="1424.1" cy="305" rx="7.4" ry="8"/>
<ellipse cx="1409.1" cy="293.2" rx="7" ry="7.6"/>
<ellipse cx="1125.8" cy="311.5" rx="7.2" ry="7.1"/>
<ellipse cx="1138.7" cy="313.6" rx="7.3" ry="6.2"/>
<ellipse cx="1361.8" cy="313.6" rx="7.1" ry="6.3"/>
<ellipse cx="1299.6" cy="312.5" rx="6" ry="6.3"/>
<ellipse cx="1254.5" cy="322.2" rx="6.4" ry="6.2"/>
<ellipse cx="1198.8" cy="327.6" rx="7.7" ry="7.7"/>
<ellipse cx="1288.9" cy="328.6" rx="6.8" ry="6.6"/>
<ellipse cx="1344.7" cy="325.4" rx="7.3" ry="7.7"/>
<ellipse cx="1383.3" cy="331.8" rx="6.3" ry="6.2"/>
<ellipse cx="1401.5" cy="340.4" rx="6.6" ry="6.1"/>
<ellipse cx="1418.7" cy="336.1" rx="7.9" ry="7.7"/>
<ellipse cx="1250.3" cy="342.6" rx="7.3" ry="7.6"/>
<ellipse cx="1336.1" cy="339.4" rx="8.2" ry="7.9"/>
<ellipse cx="1110.8" cy="340.4" rx="7.5" ry="7.3"/>
<ellipse cx="1145.1" cy="344.7" rx="7.2" ry="7.4"/>
<ellipse cx="1170.9" cy="344.7" rx="7.1" ry="7"/>
<ellipse cx="1190.2" cy="338.3" rx="7.1" ry="7.8"/>
<ellipse cx="1082.9" cy="355.5" rx="7.7" ry="8.2"/>
<ellipse cx="1091.5" cy="357.6" rx="8.3" ry="7.6"/>
<ellipse cx="1324.3" cy="356.5" rx="7.3" ry="8"/>
<ellipse cx="1134.4" cy="359.7" rx="8" ry="7.1"/>
<ellipse cx="1173" cy="355.5" rx="6.3" ry="6"/>
<ellipse cx="1220.2" cy="357.6" rx="6.2" ry="5.6"/>
<ellipse cx="1252.4" cy="357.6" rx="6.2" ry="6.3"/>
<ellipse cx="1119.4" cy="368.3" rx="7.9" ry="8.5"/>
<ellipse cx="1097.9" cy="372.6" rx="6.4" ry="6.6"/>
<ellipse cx="1284.6" cy="361.9" rx="7.6" ry="6.7"/>
<ellipse cx="1389.7" cy="368.3" rx="8.1" ry="8.9"/>
<ellipse cx="1411.2" cy="374.8" rx="6.5" ry="7.1"/>
<ellipse cx="1349" cy="374.8" rx="7" ry="6.8"/>
<ellipse cx="1151.5" cy="374.8" rx="8.4" ry="8.9"/>
<ellipse cx="1203" cy="374.8" rx="6.4" ry="6.1"/>
<ellipse cx="1218.1" cy="372.6" rx="7.2" ry="6.8"/>
<ellipse cx="1344.7" cy="381.2" rx="6.5" ry="6"/>
<ellipse cx="1296.4" cy="381.2" rx="7.7" ry="6.6"/>
<ellipse cx="1368.3" cy="383.3" rx="7.3" ry="7"/>
<ellipse cx="1085" cy="381.2" rx="6" ry="5.6"/>
<ellipse cx="1185.9" cy="381.2" rx="7.5" ry="7.3"/>
<ellipse cx="1265.3" cy="383.3" rx="6.2" ry="6.7"/>
<ellipse cx="1310.3" cy="387.6" rx="7.9" ry="8.6"/>
<ellipse cx="1155.8" cy="391.9" rx="6.3" ry="5.7"/>
<ellipse cx="1198.8" cy="394.1" rx="6.1" ry="6.4"/>
</g>
<g filter="url(#blur1)">
<circle cx="1192.3" cy="168.8" r="8" fill="#e9a13a"/>
<circle cx="1192.3" cy="167.7" r="4.5" fill="#fff3d6"/>
<circle cx="1250.3" cy="370.5" r="7.5" fill="#c98a35"/>
<circle cx="1250.3" cy="370.5" r="4" fill="#7d93a8"/>
<circle cx="1218.1" cy="385.5" r="7" fill="#d9a04a"/>
<circle cx="1218.1" cy="385.9" r="4" fill="#8fb0d8"/>
<circle cx="1155.8" cy="226.7" r="5" fill="#e0a85a"/>
<circle cx="1355.4" cy="60.4" r="6" fill="#c9a56a"/>
</g>
<rect x="1078" y="44.8" width="355" height="353.4" filter="url(#grain)" opacity="0.5"/>
</g>
<g clip-path="url(#clipB2)">
<rect x="1463.5" y="46.4" width="354.3" height="353.6" fill="#151006"/>
<g transform="rotate(-14 1640 223)"><rect x="1400" y="-20" width="480" height="490" filter="url(#cloud2)"/></g>
<g filter="url(#blur2)" stroke="#8a5c12" stroke-linecap="round" opacity="0.35">
<line x1="1601.9" y1="235.5" x2="1642.1" y2="372.1" stroke-width="2.6"/>
<line x1="1655.1" y1="95.4" x2="1680.3" y2="193.4" stroke-width="3.4"/>
<line x1="1460.6" y1="139.8" x2="1473.2" y2="197.5" stroke-width="3.1"/>
<line x1="1440" y1="393.3" x2="1475.8" y2="535.4" stroke-width="2.9"/>
<line x1="1485.6" y1="32" x2="1522.9" y2="127.8" stroke-width="1.7"/>
<line x1="1518.9" y1="37.6" x2="1546.6" y2="130" stroke-width="3.6"/>
<line x1="1628.2" y1="265.6" x2="1652.5" y2="362.6" stroke-width="2.5"/>
<line x1="1533.2" y1="399.1" x2="1564.1" y2="545.5" stroke-width="3.2"/>
<line x1="1547.8" y1="112.2" x2="1576.3" y2="185.8" stroke-width="3.3"/>
<line x1="1581.4" y1="342.7" x2="1597.5" y2="429.8" stroke-width="3.6"/>
<line x1="1423.7" y1="104.8" x2="1463.4" y2="240.1" stroke-width="3.9"/>
<line x1="1580.2" y1="53.7" x2="1605" y2="163.9" stroke-width="2"/>
<line x1="1457.9" y1="150.7" x2="1490.6" y2="293.4" stroke-width="1.5"/>
<line x1="1520.7" y1="64.2" x2="1532.7" y2="118.8" stroke-width="1.7"/>
<line x1="1644" y1="193.6" x2="1659.8" y2="260.8" stroke-width="1.6"/>
<line x1="1677.3" y1="69.9" x2="1708" y2="156.8" stroke-width="2"/>
<line x1="1806.3" y1="326.6" x2="1822.2" y2="405.4" stroke-width="1.8"/>
<line x1="1579" y1="345.6" x2="1619.5" y2="452.3" stroke-width="4"/>
<line x1="1507.6" y1="122.9" x2="1547" y2="243.9" stroke-width="2"/>
<line x1="1452.4" y1="60.1" x2="1487.8" y2="162.4" stroke-width="2.9"/>
<line x1="1570.1" y1="195.7" x2="1610.8" y2="335.8" stroke-width="2.8"/>
<line x1="1765.2" y1="94.7" x2="1777.8" y2="158.9" stroke-width="3.5"/>
<line x1="1521.9" y1="97.3" x2="1544.9" y2="219.1" stroke-width="1.8"/>
<line x1="1798.1" y1="356" x2="1830.3" y2="461.5" stroke-width="1.5"/>
<line x1="1438.8" y1="386.1" x2="1456.1" y2="457.8" stroke-width="1.9"/>
<line x1="1748.3" y1="249.2" x2="1775.3" y2="323.8" stroke-width="3.2"/>
<line x1="1450.6" y1="111.7" x2="1472.2" y2="215.4" stroke-width="2.9"/>
<line x1="1534" y1="369.1" x2="1560.1" y2="434.5" stroke-width="2"/>
<line x1="1599.2" y1="49" x2="1619.7" y2="113.5" stroke-width="2.8"/>
<line x1="1475.4" y1="161.7" x2="1500.1" y2="298.6" stroke-width="3"/>
<line x1="1696" y1="244.7" x2="1719.6" y2="304.3" stroke-width="1.3"/>
<line x1="1782.4" y1="288.3" x2="1836.6" y2="424.2" stroke-width="3"/>
<line x1="1613.6" y1="299.3" x2="1627.9" y2="380" stroke-width="1.4"/>
<line x1="1638.8" y1="301.7" x2="1670.7" y2="438.1" stroke-width="3.2"/>
<line x1="1736.3" y1="368.2" x2="1756.6" y2="451" stroke-width="3.7"/>
<line x1="1767" y1="182.2" x2="1793" y2="308.6" stroke-width="2.8"/>
<line x1="1669.9" y1="169.2" x2="1697.4" y2="274" stroke-width="1.4"/>
<line x1="1675.6" y1="397.5" x2="1707.3" y2="531.8" stroke-width="2.3"/>
<line x1="1713.3" y1="243.4" x2="1732.8" y2="335.5" stroke-width="1.4"/>
<line x1="1719.3" y1="37.5" x2="1750.1" y2="143.3" stroke-width="1.8"/>
</g>
<g filter="url(#blur1)" fill="#2b5bab" opacity="0.85">
<ellipse cx="1457.5" cy="43.8" rx="4.9" ry="7.1" transform="rotate(-31.6 1457.5 43.8)"/>
<ellipse cx="1476.1" cy="38.8" rx="3.8" ry="6.9" transform="rotate(-7.6 1476.1 38.8)"/>
<ellipse cx="1495.2" cy="40.3" rx="4.5" ry="6.4" transform="rotate(-16.1 1495.2 40.3)"/>
<ellipse cx="1557.5" cy="40.2" rx="3.7" ry="5.9" transform="rotate(-1 1557.5 40.2)"/>
<ellipse cx="1594.9" cy="39.7" rx="3.8" ry="5.9" transform="rotate(-21.8 1594.9 39.7)"/>
<ellipse cx="1605" cy="43.9" rx="4.2" ry="6.3" transform="rotate(-1 1605 43.9)"/>
<ellipse cx="1633.9" cy="36.8" rx="4.8" ry="6.4" transform="rotate(-5.8 1633.9 36.8)"/>
<ellipse cx="1653.2" cy="45.9" rx="3.5" ry="4.9" transform="rotate(-15.2 1653.2 45.9)"/>
<ellipse cx="1676" cy="39.2" rx="3.7" ry="4.9" transform="rotate(-8.7 1676 39.2)"/>
<ellipse cx="1690.1" cy="44.3" rx="4.7" ry="8.8" transform="rotate(-6.7 1690.1 44.3)"/>
<ellipse cx="1704.7" cy="38.5" rx="3.5" ry="5.6" transform="rotate(-5.6 1704.7 38.5)"/>
<ellipse cx="1718.8" cy="40.5" rx="4.5" ry="7.3" transform="rotate(-9.3 1718.8 40.5)"/>
<ellipse cx="1758" cy="47.3" rx="3.6" ry="6.8" transform="rotate(-5.3 1758 47.3)"/>
<ellipse cx="1770.4" cy="43.9" rx="4.9" ry="7.4" transform="rotate(-11 1770.4 43.9)"/>
<ellipse cx="1467.6" cy="54.4" rx="4.6" ry="8.2" transform="rotate(-8.3 1467.6 54.4)"/>
<ellipse cx="1478.8" cy="62.7" rx="5" ry="9.4" transform="rotate(-12.1 1478.8 62.7)"/>
<ellipse cx="1520.2" cy="62.2" rx="4" ry="5.4" transform="rotate(-15.7 1520.2 62.2)"/>
<ellipse cx="1535" cy="57.7" rx="3.5" ry="6.3" transform="rotate(-29.6 1535 57.7)"/>
<ellipse cx="1562.8" cy="61.4" rx="3.7" ry="5.2" transform="rotate(-12.9 1562.8 61.4)"/>
<ellipse cx="1585.3" cy="60.2" rx="4.9" ry="7.8" transform="rotate(3.1 1585.3 60.2)"/>
<ellipse cx="1594.4" cy="58.2" rx="3.9" ry="6.8" transform="rotate(-8.4 1594.4 58.2)"/>
<ellipse cx="1618.4" cy="58.6" rx="4" ry="6.1" transform="rotate(-0.7 1618.4 58.6)"/>
<ellipse cx="1651.5" cy="63.5" rx="4.3" ry="7" transform="rotate(-24.6 1651.5 63.5)"/>
<ellipse cx="1663.8" cy="59.2" rx="3.5" ry="6.7" transform="rotate(-12.9 1663.8 59.2)"/>
<ellipse cx="1683.9" cy="58.7" rx="4.2" ry="7.3" transform="rotate(-29.6 1683.9 58.7)"/>
<ellipse cx="1695.7" cy="63.4" rx="4.9" ry="7.1" transform="rotate(-14.5 1695.7 63.4)"/>
<ellipse cx="1712.5" cy="61.7" rx="4.9" ry="7.7" transform="rotate(-20.3 1712.5 61.7)"/>
<ellipse cx="1731.2" cy="63" rx="3.7" ry="6.5" transform="rotate(-31.2 1731.2 63)"/>
<ellipse cx="1743" cy="60.1" rx="4" ry="6" transform="rotate(-9.1 1743 60.1)"/>
<ellipse cx="1765.5" cy="53.4" rx="4.3" ry="6.2" transform="rotate(-24.7 1765.5 53.4)"/>
<ellipse cx="1778.5" cy="56.4" rx="4.1" ry="6.7" transform="rotate(-26.1 1778.5 56.4)"/>
<ellipse cx="1797.3" cy="59.6" rx="4.3" ry="7.8" transform="rotate(-9.4 1797.3 59.6)"/>
<ellipse cx="1460.4" cy="77.1" rx="4.9" ry="7.2" transform="rotate(-20.3 1460.4 77.1)"/>
<ellipse cx="1496.5" cy="78.1" rx="3.7" ry="5.3" transform="rotate(-5.1 1496.5 78.1)"/>
<ellipse cx="1502.2" cy="77.4" rx="4.1" ry="7.3" transform="rotate(-27.3 1502.2 77.4)"/>
<ellipse cx="1525.7" cy="67.6" rx="3.8" ry="6.5" transform="rotate(1.7 1525.7 67.6)"/>
<ellipse cx="1556.6" cy="76.5" rx="4.3" ry="7.3" transform="rotate(-25 1556.6 76.5)"/>
<ellipse cx="1568.3" cy="67.8" rx="4.3" ry="7" transform="rotate(-11 1568.3 67.8)"/>
<ellipse cx="1585.7" cy="69.8" rx="4.8" ry="9" transform="rotate(2.3 1585.7 69.8)"/>
<ellipse cx="1600.7" cy="78.8" rx="4.2" ry="7.4" transform="rotate(-19.9 1600.7 78.8)"/>
<ellipse cx="1622.7" cy="72.6" rx="4.4" ry="5.8" transform="rotate(-6.1 1622.7 72.6)"/>
<ellipse cx="1654.9" cy="76.3" rx="4.1" ry="5.8" transform="rotate(-25.9 1654.9 76.3)"/>
<ellipse cx="1666.2" cy="78.1" rx="4.7" ry="8.1" transform="rotate(-0.2 1666.2 78.1)"/>
<ellipse cx="1687.4" cy="74.6" rx="4.3" ry="8" transform="rotate(-2.2 1687.4 74.6)"/>
<ellipse cx="1709.9" cy="76.3" rx="4.7" ry="8.3" transform="rotate(-17 1709.9 76.3)"/>
<ellipse cx="1757.7" cy="76.6" rx="4.1" ry="7.1" transform="rotate(-29.4 1757.7 76.6)"/>
<ellipse cx="1770.6" cy="67.5" rx="4" ry="6.8" transform="rotate(-8.9 1770.6 67.5)"/>
<ellipse cx="1792.8" cy="75.4" rx="4" ry="6.8" transform="rotate(-10.9 1792.8 75.4)"/>
<ellipse cx="1802.7" cy="79.4" rx="4.5" ry="7.7" transform="rotate(-3.8 1802.7 79.4)"/>
<ellipse cx="1467.1" cy="91.8" rx="3.9" ry="6" transform="rotate(-30.1 1467.1 91.8)"/>
<ellipse cx="1480.8" cy="84.1" rx="3.9" ry="7.1" transform="rotate(-11.6 1480.8 84.1)"/>
<ellipse cx="1504.4" cy="89.7" rx="5" ry="8.4" transform="rotate(-2 1504.4 89.7)"/>
<ellipse cx="1516.4" cy="92" rx="3.6" ry="6.6" transform="rotate(-26.1 1516.4 92)"/>
<ellipse cx="1527.8" cy="88.8" rx="4.4" ry="5.9" transform="rotate(3 1527.8 88.8)"/>
<ellipse cx="1548.6" cy="90.1" rx="4" ry="6" transform="rotate(-7.8 1548.6 90.1)"/>
<ellipse cx="1562.2" cy="91.5" rx="3.9" ry="5.2" transform="rotate(-22.9 1562.2 91.5)"/>
<ellipse cx="1577.1" cy="92" rx="4.1" ry="7.5" transform="rotate(-4.3 1577.1 92)"/>
<ellipse cx="1603.6" cy="94.2" rx="3.6" ry="6.7" transform="rotate(-16.1 1603.6 94.2)"/>
<ellipse cx="1619.9" cy="85.8" rx="4.3" ry="8" transform="rotate(-5.3 1619.9 85.8)"/>
<ellipse cx="1636.5" cy="92.7" rx="4.4" ry="6" transform="rotate(-8.9 1636.5 92.7)"/>
<ellipse cx="1643.7" cy="83.5" rx="4.3" ry="5.9" transform="rotate(-15.6 1643.7 83.5)"/>
<ellipse cx="1663.2" cy="86" rx="4.4" ry="6.8" transform="rotate(-3.2 1663.2 86)"/>
<ellipse cx="1686.2" cy="94.3" rx="4.6" ry="6.6" transform="rotate(-27.8 1686.2 94.3)"/>
<ellipse cx="1728.1" cy="86.2" rx="4.5" ry="7.4" transform="rotate(-10.1 1728.1 86.2)"/>
<ellipse cx="1749.3" cy="85.2" rx="3.9" ry="7.3" transform="rotate(1.9 1749.3 85.2)"/>
<ellipse cx="1774" cy="86.2" rx="4.1" ry="6.9" transform="rotate(-28.2 1774 86.2)"/>
<ellipse cx="1790.6" cy="83.9" rx="4.5" ry="7.4" transform="rotate(-8.6 1790.6 83.9)"/>
<ellipse cx="1812" cy="85.4" rx="4" ry="7" transform="rotate(-1 1812 85.4)"/>
<ellipse cx="1452.9" cy="108.1" rx="4.4" ry="7.8" transform="rotate(-24.1 1452.9 108.1)"/>
<ellipse cx="1471.1" cy="108.1" rx="4.1" ry="6.9" transform="rotate(4.6 1471.1 108.1)"/>
<ellipse cx="1491.1" cy="107.4" rx="4.9" ry="7.6" transform="rotate(-18.3 1491.1 107.4)"/>
<ellipse cx="1511.5" cy="99.3" rx="3.6" ry="5.9" transform="rotate(-14.1 1511.5 99.3)"/>
<ellipse cx="1521.1" cy="107.7" rx="3.6" ry="5.2" transform="rotate(-7.5 1521.1 107.7)"/>
<ellipse cx="1537.6" cy="107.1" rx="4.5" ry="6.7" transform="rotate(-26.7 1537.6 107.1)"/>
<ellipse cx="1559.2" cy="102.8" rx="3.7" ry="6.3" transform="rotate(-10.9 1559.2 102.8)"/>
<ellipse cx="1626.1" cy="102.1" rx="4" ry="6.1" transform="rotate(2.6 1626.1 102.1)"/>
<ellipse cx="1653.8" cy="102.8" rx="4" ry="6.2" transform="rotate(-17.7 1653.8 102.8)"/>
<ellipse cx="1672.8" cy="108" rx="4.3" ry="7.8" transform="rotate(-11.2 1672.8 108)"/>
<ellipse cx="1691.6" cy="109" rx="3.9" ry="5.2" transform="rotate(-12.9 1691.6 109)"/>
<ellipse cx="1705.8" cy="110" rx="4.5" ry="8" transform="rotate(-29.6 1705.8 110)"/>
<ellipse cx="1725" cy="99.4" rx="3.6" ry="6.3" transform="rotate(1.3 1725 99.4)"/>
<ellipse cx="1739.6" cy="100.1" rx="4.6" ry="7.8" transform="rotate(-22.9 1739.6 100.1)"/>
<ellipse cx="1757.7" cy="104.7" rx="4.6" ry="7.1" transform="rotate(-19.5 1757.7 104.7)"/>
<ellipse cx="1787.4" cy="104.8" rx="4.6" ry="7.9" transform="rotate(1.9 1787.4 104.8)"/>
<ellipse cx="1807.9" cy="106.4" rx="4.8" ry="8.5" transform="rotate(-1.1 1807.9 106.4)"/>
<ellipse cx="1482.5" cy="122.4" rx="4.7" ry="7.3" transform="rotate(-16.4 1482.5 122.4)"/>
<ellipse cx="1501.6" cy="125.8" rx="4.1" ry="5.7" transform="rotate(-24.4 1501.6 125.8)"/>
<ellipse cx="1512.8" cy="125.5" rx="3.6" ry="5.3" transform="rotate(-27.8 1512.8 125.5)"/>
<ellipse cx="1535.1" cy="116.1" rx="3.6" ry="5.7" transform="rotate(-10.4 1535.1 116.1)"/>
<ellipse cx="1560.1" cy="116.1" rx="3.8" ry="5.5" transform="rotate(-5.5 1560.1 116.1)"/>
<ellipse cx="1577.9" cy="116.1" rx="3.9" ry="5.5" transform="rotate(-4 1577.9 116.1)"/>
<ellipse cx="1598.3" cy="123.7" rx="4.2" ry="6.1" transform="rotate(0.8 1598.3 123.7)"/>
<ellipse cx="1631.3" cy="125.4" rx="4.2" ry="6.1" transform="rotate(-30.2 1631.3 125.4)"/>
<ellipse cx="1680.6" cy="120.1" rx="3.9" ry="7.4" transform="rotate(-7.7 1680.6 120.1)"/>
<ellipse cx="1690.9" cy="119.6" rx="4.1" ry="7.2" transform="rotate(-5.6 1690.9 119.6)"/>
<ellipse cx="1709.1" cy="115.8" rx="4" ry="5.8" transform="rotate(0.2 1709.1 115.8)"/>
<ellipse cx="1731.4" cy="125.8" rx="3.9" ry="6.3" transform="rotate(-26.4 1731.4 125.8)"/>
<ellipse cx="1766.6" cy="124.1" rx="4.7" ry="6.4" transform="rotate(-22 1766.6 124.1)"/>
<ellipse cx="1774.4" cy="119.7" rx="4.2" ry="7.9" transform="rotate(-10.3 1774.4 119.7)"/>
<ellipse cx="1815.7" cy="118.9" rx="4.9" ry="6.6" transform="rotate(-1.4 1815.7 118.9)"/>
<ellipse cx="1458" cy="135.7" rx="3.7" ry="6.7" transform="rotate(-20.5 1458 135.7)"/>
<ellipse cx="1468.9" cy="133.1" rx="4.2" ry="7.3" transform="rotate(-18.7 1468.9 133.1)"/>
<ellipse cx="1485.8" cy="134.1" rx="4.2" ry="7.9" transform="rotate(-1.3 1485.8 134.1)"/>
<ellipse cx="1501.1" cy="133.9" rx="4.6" ry="6.6" transform="rotate(-11.1 1501.1 133.9)"/>
<ellipse cx="1517.6" cy="141.3" rx="4.7" ry="6.7" transform="rotate(-9.2 1517.6 141.3)"/>
<ellipse cx="1538.5" cy="135.9" rx="3.9" ry="5.9" transform="rotate(-17.5 1538.5 135.9)"/>
<ellipse cx="1553.6" cy="131.8" rx="4.6" ry="6.9" transform="rotate(3 1553.6 131.8)"/>
<ellipse cx="1575.7" cy="133.4" rx="4.7" ry="6.4" transform="rotate(-26.8 1575.7 133.4)"/>
<ellipse cx="1591.6" cy="137.9" rx="3.8" ry="5.8" transform="rotate(-1 1591.6 137.9)"/>
<ellipse cx="1601.1" cy="132.1" rx="3.7" ry="5.1" transform="rotate(-16.9 1601.1 132.1)"/>
<ellipse cx="1627.5" cy="134.5" rx="4.3" ry="7.2" transform="rotate(-3.6 1627.5 134.5)"/>
<ellipse cx="1653.5" cy="134.3" rx="3.5" ry="5.4" transform="rotate(-6.1 1653.5 134.3)"/>
<ellipse cx="1706.3" cy="129.6" rx="4" ry="6" transform="rotate(-7.9 1706.3 129.6)"/>
<ellipse cx="1720" cy="135.5" rx="4.7" ry="8.4" transform="rotate(-9.4 1720 135.5)"/>
<ellipse cx="1741.2" cy="140.2" rx="4.3" ry="6.5" transform="rotate(-13.5 1741.2 140.2)"/>
<ellipse cx="1757.1" cy="141.2" rx="4.3" ry="7.4" transform="rotate(-1.1 1757.1 141.2)"/>
<ellipse cx="1776.3" cy="136.9" rx="3.8" ry="5.1" transform="rotate(-22.9 1776.3 136.9)"/>
<ellipse cx="1789.9" cy="133.4" rx="4.9" ry="7.4" transform="rotate(-14.9 1789.9 133.4)"/>
<ellipse cx="1809.7" cy="131" rx="4.9" ry="7.9" transform="rotate(-11.3 1809.7 131)"/>
<ellipse cx="1817.7" cy="140.3" rx="5" ry="8.9" transform="rotate(-9.7 1817.7 140.3)"/>
<ellipse cx="1469.6" cy="148.4" rx="4.8" ry="7" transform="rotate(-10.8 1469.6 148.4)"/>
<ellipse cx="1499.3" cy="145.8" rx="3.5" ry="5" transform="rotate(4.5 1499.3 145.8)"/>
<ellipse cx="1529.4" cy="153" rx="4.6" ry="7" transform="rotate(-10.1 1529.4 153)"/>
<ellipse cx="1561.1" cy="150.5" rx="3.7" ry="5.7" transform="rotate(-10.9 1561.1 150.5)"/>
<ellipse cx="1581.5" cy="148.1" rx="4.4" ry="6.5" transform="rotate(-8.3 1581.5 148.1)"/>
<ellipse cx="1599.8" cy="146.6" rx="4.9" ry="8.2" transform="rotate(-14.6 1599.8 146.6)"/>
<ellipse cx="1615.7" cy="153.2" rx="4.6" ry="8.1" transform="rotate(-14 1615.7 153.2)"/>
<ellipse cx="1679.5" cy="151.7" rx="4.9" ry="7.8" transform="rotate(-12.6 1679.5 151.7)"/>
<ellipse cx="1701.6" cy="148.7" rx="3.6" ry="6.2" transform="rotate(1.3 1701.6 148.7)"/>
<ellipse cx="1714.4" cy="153.9" rx="4" ry="6.6" transform="rotate(-29.4 1714.4 153.9)"/>
<ellipse cx="1729.1" cy="150.9" rx="4.1" ry="5.5" transform="rotate(-6.3 1729.1 150.9)"/>
<ellipse cx="1743.1" cy="148.6" rx="4.1" ry="5.9" transform="rotate(-29.5 1743.1 148.6)"/>
<ellipse cx="1800.1" cy="150" rx="4.7" ry="6.7" transform="rotate(-4.4 1800.1 150)"/>
<ellipse cx="1817.1" cy="146.1" rx="4.7" ry="6.4" transform="rotate(-12.1 1817.1 146.1)"/>
<ellipse cx="1470.9" cy="164" rx="4" ry="5.3" transform="rotate(1.1 1470.9 164)"/>
<ellipse cx="1505.3" cy="167.4" rx="3.6" ry="4.7" transform="rotate(1.2 1505.3 167.4)"/>
<ellipse cx="1523.5" cy="171.6" rx="5" ry="7.9" transform="rotate(-24.4 1523.5 171.6)"/>
<ellipse cx="1545.1" cy="171.2" rx="3.8" ry="6.8" transform="rotate(-18.9 1545.1 171.2)"/>
<ellipse cx="1552.6" cy="171" rx="5" ry="7.1" transform="rotate(-8.6 1552.6 171)"/>
<ellipse cx="1577.6" cy="161" rx="3.7" ry="6.4" transform="rotate(-20.4 1577.6 161)"/>
<ellipse cx="1618.1" cy="168.8" rx="4.9" ry="7.7" transform="rotate(-29.1 1618.1 168.8)"/>
<ellipse cx="1636.7" cy="168.9" rx="3.8" ry="5.3" transform="rotate(-23.3 1636.7 168.9)"/>
<ellipse cx="1659" cy="164.9" rx="4.5" ry="8.2" transform="rotate(-10.2 1659 164.9)"/>
<ellipse cx="1669.6" cy="171.5" rx="4.5" ry="6.6" transform="rotate(-8.3 1669.6 171.5)"/>
<ellipse cx="1694.3" cy="165.7" rx="4.3" ry="6.9" transform="rotate(-30.3 1694.3 165.7)"/>
<ellipse cx="1702.4" cy="163.4" rx="4.7" ry="6.4" transform="rotate(-21.4 1702.4 163.4)"/>
<ellipse cx="1735.3" cy="167" rx="3.8" ry="6.9" transform="rotate(4.5 1735.3 167)"/>
<ellipse cx="1754" cy="169.4" rx="4.1" ry="7.6" transform="rotate(-13.5 1754 169.4)"/>
<ellipse cx="1771.7" cy="168.1" rx="4" ry="6.8" transform="rotate(-3 1771.7 168.1)"/>
<ellipse cx="1787.6" cy="170.5" rx="4.5" ry="7.3" transform="rotate(3.2 1787.6 170.5)"/>
<ellipse cx="1807.4" cy="162.4" rx="4.4" ry="6.4" transform="rotate(-15.7 1807.4 162.4)"/>
<ellipse cx="1498.6" cy="178.6" rx="4.4" ry="7" transform="rotate(-30.7 1498.6 178.6)"/>
<ellipse cx="1517.8" cy="182.8" rx="4.8" ry="6.8" transform="rotate(-26.4 1517.8 182.8)"/>
<ellipse cx="1531.7" cy="181.1" rx="4.2" ry="6.1" transform="rotate(-2.5 1531.7 181.1)"/>
<ellipse cx="1553.1" cy="182.7" rx="4.3" ry="7.7" transform="rotate(-23.2 1553.1 182.7)"/>
<ellipse cx="1562.5" cy="176.4" rx="4" ry="6.6" transform="rotate(-12.6 1562.5 176.4)"/>
<ellipse cx="1582.3" cy="177" rx="4.7" ry="6.6" transform="rotate(-22.6 1582.3 177)"/>
<ellipse cx="1600" cy="185.9" rx="4.7" ry="6.3" transform="rotate(-16.8 1600 185.9)"/>
<ellipse cx="1610.8" cy="187.5" rx="3.6" ry="5.7" transform="rotate(-3.8 1610.8 187.5)"/>
<ellipse cx="1646.7" cy="184.8" rx="3.6" ry="5.1" transform="rotate(0.9 1646.7 184.8)"/>
<ellipse cx="1662.5" cy="179.5" rx="4.1" ry="5.6" transform="rotate(-30.7 1662.5 179.5)"/>
<ellipse cx="1710" cy="178.9" rx="4.3" ry="6.3" transform="rotate(-14.9 1710 178.9)"/>
<ellipse cx="1744.3" cy="187.7" rx="4.4" ry="5.8" transform="rotate(-17.1 1744.3 187.7)"/>
<ellipse cx="1757.5" cy="180" rx="4.5" ry="8.3" transform="rotate(-10.1 1757.5 180)"/>
<ellipse cx="1794.5" cy="186" rx="4.1" ry="7.2" transform="rotate(-24 1794.5 186)"/>
<ellipse cx="1808.5" cy="182.5" rx="3.7" ry="5.3" transform="rotate(-24.1 1808.5 182.5)"/>
<ellipse cx="1455.2" cy="196.8" rx="5" ry="8.5" transform="rotate(-0.1 1455.2 196.8)"/>
<ellipse cx="1472.6" cy="192.3" rx="4.5" ry="6.9" transform="rotate(-21.8 1472.6 192.3)"/>
<ellipse cx="1486.7" cy="194.5" rx="4.1" ry="7.6" transform="rotate(-5.5 1486.7 194.5)"/>
<ellipse cx="1505.3" cy="193.2" rx="4.9" ry="7.4" transform="rotate(-3.7 1505.3 193.2)"/>
<ellipse cx="1528.4" cy="191.6" rx="4" ry="6.1" transform="rotate(-28.9 1528.4 191.6)"/>
<ellipse cx="1559.7" cy="197.6" rx="3.6" ry="5.5" transform="rotate(-23.2 1559.7 197.6)"/>
<ellipse cx="1568.8" cy="198.5" rx="3.5" ry="5.3" transform="rotate(-16.3 1568.8 198.5)"/>
<ellipse cx="1585.1" cy="199.9" rx="3.9" ry="6.8" transform="rotate(-7.4 1585.1 199.9)"/>
<ellipse cx="1602.5" cy="194.8" rx="4.6" ry="7.1" transform="rotate(-17.7 1602.5 194.8)"/>
<ellipse cx="1636.5" cy="195.5" rx="3.8" ry="5.1" transform="rotate(-31.1 1636.5 195.5)"/>
<ellipse cx="1656.3" cy="201.1" rx="5" ry="7.3" transform="rotate(-7.2 1656.3 201.1)"/>
<ellipse cx="1690.8" cy="199.4" rx="4.9" ry="9" transform="rotate(-23.3 1690.8 199.4)"/>
<ellipse cx="1700.1" cy="196.5" rx="4.1" ry="5.5" transform="rotate(-17.8 1700.1 196.5)"/>
<ellipse cx="1721.5" cy="194.8" rx="3.7" ry="5.8" transform="rotate(-14.4 1721.5 194.8)"/>
<ellipse cx="1740" cy="194.3" rx="3.6" ry="5.5" transform="rotate(-16.4 1740 194.3)"/>
<ellipse cx="1755.5" cy="199.8" rx="4.3" ry="7.4" transform="rotate(-31.1 1755.5 199.8)"/>
<ellipse cx="1769.4" cy="192.2" rx="4.1" ry="5.5" transform="rotate(-13.7 1769.4 192.2)"/>
<ellipse cx="1787.1" cy="195.3" rx="3.9" ry="5.1" transform="rotate(-19.2 1787.1 195.3)"/>
<ellipse cx="1817.6" cy="199.4" rx="3.8" ry="6" transform="rotate(-9.2 1817.6 199.4)"/>
<ellipse cx="1483.2" cy="218.2" rx="4.7" ry="7.8" transform="rotate(-9 1483.2 218.2)"/>
<ellipse cx="1497.7" cy="210.2" rx="4.7" ry="8.7" transform="rotate(-17.9 1497.7 210.2)"/>
<ellipse cx="1527.4" cy="213" rx="4" ry="6" transform="rotate(4.1 1527.4 213)"/>
<ellipse cx="1544.6" cy="209.6" rx="4.5" ry="6.5" transform="rotate(-32 1544.6 209.6)"/>
<ellipse cx="1563.5" cy="209.8" rx="4.2" ry="7.2" transform="rotate(-11.7 1563.5 209.8)"/>
<ellipse cx="1582" cy="216.9" rx="5" ry="7.4" transform="rotate(-19.2 1582 216.9)"/>
<ellipse cx="1616.8" cy="215.2" rx="4.5" ry="8.5" transform="rotate(-1.5 1616.8 215.2)"/>
<ellipse cx="1632.2" cy="212.8" rx="4.3" ry="6.6" transform="rotate(-21.4 1632.2 212.8)"/>
<ellipse cx="1660.6" cy="209.9" rx="4" ry="5.6" transform="rotate(-13 1660.6 209.9)"/>
<ellipse cx="1675" cy="207.7" rx="3.7" ry="6.3" transform="rotate(-27.8 1675 207.7)"/>
<ellipse cx="1700" cy="212.7" rx="3.7" ry="6.8" transform="rotate(0.2 1700 212.7)"/>
<ellipse cx="1710.3" cy="213" rx="4.7" ry="7.2" transform="rotate(-5.5 1710.3 213)"/>
<ellipse cx="1732.3" cy="210.8" rx="4" ry="7" transform="rotate(-0.8 1732.3 210.8)"/>
<ellipse cx="1761.8" cy="215.4" rx="4.4" ry="8" transform="rotate(-2.4 1761.8 215.4)"/>
<ellipse cx="1777.8" cy="214.9" rx="3.8" ry="5.4" transform="rotate(-31.5 1777.8 214.9)"/>
<ellipse cx="1801" cy="218.5" rx="3.7" ry="6.3" transform="rotate(-16.5 1801 218.5)"/>
<ellipse cx="1811" cy="218.1" rx="5" ry="6.6" transform="rotate(-5.6 1811 218.1)"/>
<ellipse cx="1452" cy="225.8" rx="4.6" ry="8.7" transform="rotate(-27.6 1452 225.8)"/>
<ellipse cx="1468.3" cy="228.9" rx="4.2" ry="6.4" transform="rotate(-20.6 1468.3 228.9)"/>
<ellipse cx="1522.2" cy="229.8" rx="4.6" ry="8.8" transform="rotate(-17.6 1522.2 229.8)"/>
<ellipse cx="1540.6" cy="232" rx="3.7" ry="5.2" transform="rotate(-28 1540.6 232)"/>
<ellipse cx="1572.9" cy="223.8" rx="4" ry="5.2" transform="rotate(-11.1 1572.9 223.8)"/>
<ellipse cx="1591" cy="225.7" rx="3.8" ry="6.1" transform="rotate(-18.5 1591 225.7)"/>
<ellipse cx="1600.6" cy="223.2" rx="4.8" ry="7.2" transform="rotate(-29.1 1600.6 223.2)"/>
<ellipse cx="1622.3" cy="234.4" rx="3.8" ry="6.9" transform="rotate(-14.1 1622.3 234.4)"/>
<ellipse cx="1642.7" cy="227.2" rx="3.6" ry="5.8" transform="rotate(-7.7 1642.7 227.2)"/>
<ellipse cx="1652.8" cy="233.7" rx="4.8" ry="9.1" transform="rotate(-15.6 1652.8 233.7)"/>
<ellipse cx="1684.6" cy="222.7" rx="3.8" ry="5.1" transform="rotate(-29.2 1684.6 222.7)"/>
<ellipse cx="1708" cy="226.1" rx="4.3" ry="5.6" transform="rotate(-24.2 1708 226.1)"/>
<ellipse cx="1738.3" cy="232.1" rx="4.7" ry="8.2" transform="rotate(-17.2 1738.3 232.1)"/>
<ellipse cx="1825.9" cy="227.2" rx="4.6" ry="6.6" transform="rotate(1.7 1825.9 227.2)"/>
<ellipse cx="1466.7" cy="240.6" rx="4.1" ry="6.2" transform="rotate(-7.7 1466.7 240.6)"/>
<ellipse cx="1500.4" cy="242.1" rx="3.9" ry="7.2" transform="rotate(-20.1 1500.4 242.1)"/>
<ellipse cx="1513.3" cy="246.8" rx="3.8" ry="6.7" transform="rotate(-11.8 1513.3 246.8)"/>
<ellipse cx="1527.9" cy="239.2" rx="3.7" ry="5.6" transform="rotate(-16.1 1527.9 239.2)"/>
<ellipse cx="1548.3" cy="242.7" rx="4" ry="6.5" transform="rotate(3.2 1548.3 242.7)"/>
<ellipse cx="1569.3" cy="241.8" rx="4.6" ry="6.3" transform="rotate(4.5 1569.3 241.8)"/>
<ellipse cx="1586.8" cy="240.5" rx="4.1" ry="7.1" transform="rotate(-25.4 1586.8 240.5)"/>
<ellipse cx="1599.9" cy="249.3" rx="4" ry="5.6" transform="rotate(-18.8 1599.9 249.3)"/>
<ellipse cx="1632.4" cy="242.4" rx="4.5" ry="6.4" transform="rotate(-9.2 1632.4 242.4)"/>
<ellipse cx="1680.3" cy="244.7" rx="3.7" ry="6.6" transform="rotate(-6.5 1680.3 244.7)"/>
<ellipse cx="1698.7" cy="242.9" rx="4.1" ry="5.9" transform="rotate(-9.8 1698.7 242.9)"/>
<ellipse cx="1713.4" cy="238.3" rx="4.4" ry="7" transform="rotate(-10 1713.4 238.3)"/>
<ellipse cx="1734.9" cy="239.7" rx="4.2" ry="8" transform="rotate(-4.7 1734.9 239.7)"/>
<ellipse cx="1749.1" cy="249.8" rx="4.1" ry="7.5" transform="rotate(-27.3 1749.1 249.8)"/>
<ellipse cx="1776.1" cy="248" rx="4.5" ry="8.3" transform="rotate(-1.3 1776.1 248)"/>
<ellipse cx="1818.2" cy="238.7" rx="4.8" ry="8.3" transform="rotate(-22.7 1818.2 238.7)"/>
<ellipse cx="1474.4" cy="263.8" rx="3.8" ry="5.6" transform="rotate(-8.2 1474.4 263.8)"/>
<ellipse cx="1491.2" cy="262.8" rx="4.2" ry="6.1" transform="rotate(-2.4 1491.2 262.8)"/>
<ellipse cx="1544.9" cy="263" rx="3.7" ry="5.7" transform="rotate(-28.3 1544.9 263)"/>
<ellipse cx="1554.6" cy="263.8" rx="4.8" ry="6.5" transform="rotate(-25.3 1554.6 263.8)"/>
<ellipse cx="1577.2" cy="260.8" rx="4.9" ry="6.5" transform="rotate(4.6 1577.2 260.8)"/>
<ellipse cx="1591.1" cy="263.9" rx="4.6" ry="6.5" transform="rotate(-7.3 1591.1 263.9)"/>
<ellipse cx="1600.2" cy="257.5" rx="4" ry="6.7" transform="rotate(-21.7 1600.2 257.5)"/>
<ellipse cx="1624.8" cy="255.6" rx="3.7" ry="6.3" transform="rotate(-14.7 1624.8 255.6)"/>
<ellipse cx="1634.4" cy="264.7" rx="4.4" ry="6.7" transform="rotate(-24.7 1634.4 264.7)"/>
<ellipse cx="1674.8" cy="257.7" rx="4" ry="6.1" transform="rotate(-26.6 1674.8 257.7)"/>
<ellipse cx="1687.6" cy="263.2" rx="4.1" ry="6.5" transform="rotate(-13.3 1687.6 263.2)"/>
<ellipse cx="1723.9" cy="256.2" rx="4.4" ry="6.4" transform="rotate(0.3 1723.9 256.2)"/>
<ellipse cx="1742.3" cy="261.5" rx="4.2" ry="7.8" transform="rotate(-17.7 1742.3 261.5)"/>
<ellipse cx="1770.4" cy="254.2" rx="4.1" ry="6.1" transform="rotate(-15.7 1770.4 254.2)"/>
<ellipse cx="1806.3" cy="261.5" rx="3.9" ry="6" transform="rotate(-27.1 1806.3 261.5)"/>
<ellipse cx="1464.8" cy="273" rx="4.7" ry="8.6" transform="rotate(-10.1 1464.8 273)"/>
<ellipse cx="1477.4" cy="279.7" rx="3.6" ry="5.5" transform="rotate(-18.1 1477.4 279.7)"/>
<ellipse cx="1500.8" cy="273" rx="4.8" ry="9.1" transform="rotate(-31.1 1500.8 273)"/>
<ellipse cx="1514.9" cy="273.2" rx="4.2" ry="6.3" transform="rotate(-7.2 1514.9 273.2)"/>
<ellipse cx="1537.4" cy="280.6" rx="5" ry="7.7" transform="rotate(-1.3 1537.4 280.6)"/>
<ellipse cx="1550.7" cy="280.9" rx="3.6" ry="5.7" transform="rotate(-17.2 1550.7 280.9)"/>
<ellipse cx="1561.4" cy="280.8" rx="3.8" ry="5.8" transform="rotate(-26.7 1561.4 280.8)"/>
<ellipse cx="1584.2" cy="269.9" rx="3.8" ry="6.3" transform="rotate(-8.9 1584.2 269.9)"/>
<ellipse cx="1618" cy="277.7" rx="4.7" ry="6.4" transform="rotate(-14.7 1618 277.7)"/>
<ellipse cx="1635.1" cy="280.2" rx="4.8" ry="6.4" transform="rotate(-19 1635.1 280.2)"/>
<ellipse cx="1647.7" cy="270.2" rx="4.7" ry="6.9" transform="rotate(-13.2 1647.7 270.2)"/>
<ellipse cx="1664.6" cy="270.5" rx="3.6" ry="5.8" transform="rotate(-21.1 1664.6 270.5)"/>
<ellipse cx="1695.7" cy="269.6" rx="3.8" ry="6" transform="rotate(-11.3 1695.7 269.6)"/>
<ellipse cx="1717.5" cy="270.2" rx="4.8" ry="6.7" transform="rotate(3.9 1717.5 270.2)"/>
<ellipse cx="1728.6" cy="276.2" rx="4.8" ry="9" transform="rotate(-16.7 1728.6 276.2)"/>
<ellipse cx="1742.1" cy="278.7" rx="4.6" ry="7.9" transform="rotate(-26.2 1742.1 278.7)"/>
<ellipse cx="1757.1" cy="270.2" rx="4" ry="7.4" transform="rotate(-8.2 1757.1 270.2)"/>
<ellipse cx="1794.7" cy="269.8" rx="3.9" ry="5.3" transform="rotate(2 1794.7 269.8)"/>
<ellipse cx="1812.1" cy="276.7" rx="4.8" ry="9" transform="rotate(-11 1812.1 276.7)"/>
<ellipse cx="1462.3" cy="289.1" rx="3.9" ry="6.9" transform="rotate(-22.4 1462.3 289.1)"/>
<ellipse cx="1473.2" cy="290.1" rx="4" ry="6.3" transform="rotate(-15.3 1473.2 290.1)"/>
<ellipse cx="1494.5" cy="285.1" rx="4.3" ry="7" transform="rotate(-17.2 1494.5 285.1)"/>
<ellipse cx="1502.2" cy="288.9" rx="4" ry="6.3" transform="rotate(-23.5 1502.2 288.9)"/>
<ellipse cx="1534.1" cy="289.3" rx="4.9" ry="6.5" transform="rotate(-10 1534.1 289.3)"/>
<ellipse cx="1574.2" cy="288.8" rx="4" ry="6.6" transform="rotate(-10.2 1574.2 288.8)"/>
<ellipse cx="1589.5" cy="290.6" rx="4.6" ry="6.2" transform="rotate(-28.6 1589.5 290.6)"/>
<ellipse cx="1603.2" cy="293.9" rx="4.1" ry="7.5" transform="rotate(-17.1 1603.2 293.9)"/>
<ellipse cx="1624.7" cy="285.4" rx="5" ry="9" transform="rotate(-19.9 1624.7 285.4)"/>
<ellipse cx="1642.8" cy="293.9" rx="4.5" ry="6" transform="rotate(-3.7 1642.8 293.9)"/>
<ellipse cx="1657" cy="291" rx="4.9" ry="8.2" transform="rotate(-31.2 1657 291)"/>
<ellipse cx="1699.1" cy="293.2" rx="4.1" ry="7" transform="rotate(4.4 1699.1 293.2)"/>
<ellipse cx="1741.4" cy="289.7" rx="4.6" ry="7.1" transform="rotate(-15.4 1741.4 289.7)"/>
<ellipse cx="1749.9" cy="288.2" rx="4.6" ry="6.2" transform="rotate(-27.7 1749.9 288.2)"/>
<ellipse cx="1788.1" cy="285.8" rx="3.7" ry="5.5" transform="rotate(3.3 1788.1 285.8)"/>
<ellipse cx="1809.1" cy="286.9" rx="4.1" ry="6.7" transform="rotate(-0.9 1809.1 286.9)"/>
<ellipse cx="1825" cy="290.1" rx="3.5" ry="5.5" transform="rotate(-18 1825 290.1)"/>
<ellipse cx="1470.9" cy="305.8" rx="4.5" ry="7" transform="rotate(-3.2 1470.9 305.8)"/>
<ellipse cx="1485.2" cy="301.9" rx="4.4" ry="6.2" transform="rotate(-19.2 1485.2 301.9)"/>
<ellipse cx="1496.9" cy="307" rx="4.3" ry="6.6" transform="rotate(-10.8 1496.9 307)"/>
<ellipse cx="1532.8" cy="305.7" rx="5" ry="7.4" transform="rotate(-6.2 1532.8 305.7)"/>
<ellipse cx="1545.4" cy="308.7" rx="4.4" ry="6.3" transform="rotate(-29.6 1545.4 308.7)"/>
<ellipse cx="1583.8" cy="305.1" rx="4.4" ry="7.2" transform="rotate(4.1 1583.8 305.1)"/>
<ellipse cx="1614.1" cy="302.7" rx="4.6" ry="6.3" transform="rotate(-20.7 1614.1 302.7)"/>
<ellipse cx="1649.6" cy="306.7" rx="4.3" ry="6.5" transform="rotate(-26.4 1649.6 306.7)"/>
<ellipse cx="1716.7" cy="302.5" rx="3.8" ry="6.2" transform="rotate(-9.4 1716.7 302.5)"/>
<ellipse cx="1732.9" cy="306.9" rx="4.8" ry="9" transform="rotate(-6.5 1732.9 306.9)"/>
<ellipse cx="1751.7" cy="308.5" rx="3.9" ry="7.1" transform="rotate(-5.1 1751.7 308.5)"/>
<ellipse cx="1759.7" cy="300.1" rx="4.3" ry="6.3" transform="rotate(-21.2 1759.7 300.1)"/>
<ellipse cx="1774.8" cy="305.7" rx="3.9" ry="5.8" transform="rotate(-21.7 1774.8 305.7)"/>
<ellipse cx="1800.2" cy="301.8" rx="4.8" ry="8.7" transform="rotate(-9.5 1800.2 301.8)"/>
<ellipse cx="1815.1" cy="306.3" rx="4.5" ry="8.3" transform="rotate(-3.3 1815.1 306.3)"/>
<ellipse cx="1452.2" cy="326.6" rx="4" ry="7.2" transform="rotate(-23.4 1452.2 326.6)"/>
<ellipse cx="1472.4" cy="324.2" rx="4.9" ry="7.9" transform="rotate(-11.1 1472.4 324.2)"/>
<ellipse cx="1487.3" cy="326.8" rx="3.7" ry="6.8" transform="rotate(-7.7 1487.3 326.8)"/>
<ellipse cx="1511.8" cy="316.6" rx="4.3" ry="6" transform="rotate(4.6 1511.8 316.6)"/>
<ellipse cx="1528" cy="316.1" rx="4.5" ry="6" transform="rotate(-30.9 1528 316.1)"/>
<ellipse cx="1545.8" cy="323.6" rx="4.8" ry="8.5" transform="rotate(-12.7 1545.8 323.6)"/>
<ellipse cx="1556.8" cy="317.6" rx="4.3" ry="6.5" transform="rotate(-13.5 1556.8 317.6)"/>
<ellipse cx="1575.5" cy="320.4" rx="4.2" ry="5.7" transform="rotate(-14 1575.5 320.4)"/>
<ellipse cx="1595.2" cy="322.1" rx="3.7" ry="5.5" transform="rotate(-19.6 1595.2 322.1)"/>
<ellipse cx="1611.3" cy="327.1" rx="4.9" ry="9.1" transform="rotate(-0.2 1611.3 327.1)"/>
<ellipse cx="1638.9" cy="322.5" rx="4.5" ry="7.6" transform="rotate(-9.3 1638.9 322.5)"/>
<ellipse cx="1672.2" cy="326.9" rx="3.5" ry="4.8" transform="rotate(0.2 1672.2 326.9)"/>
<ellipse cx="1699.4" cy="325.4" rx="4.5" ry="7.3" transform="rotate(-10.5 1699.4 325.4)"/>
<ellipse cx="1749.3" cy="324.9" rx="5" ry="8.9" transform="rotate(-16.9 1749.3 324.9)"/>
<ellipse cx="1769.2" cy="315.6" rx="4.7" ry="6.8" transform="rotate(-10.3 1769.2 315.6)"/>
<ellipse cx="1785.5" cy="323.5" rx="4.2" ry="6" transform="rotate(0.6 1785.5 323.5)"/>
<ellipse cx="1799.8" cy="318.4" rx="4.2" ry="7.5" transform="rotate(-19.7 1799.8 318.4)"/>
<ellipse cx="1822.4" cy="318.5" rx="4.3" ry="6.2" transform="rotate(0.4 1822.4 318.5)"/>
<ellipse cx="1462.5" cy="334.5" rx="4" ry="6.9" transform="rotate(-7.1 1462.5 334.5)"/>
<ellipse cx="1493.7" cy="340.1" rx="3.9" ry="5.5" transform="rotate(-16.7 1493.7 340.1)"/>
<ellipse cx="1530" cy="341.8" rx="5" ry="7.6" transform="rotate(-27 1530 341.8)"/>
<ellipse cx="1584.7" cy="335.5" rx="3.9" ry="6.5" transform="rotate(-4.6 1584.7 335.5)"/>
<ellipse cx="1601.6" cy="331.1" rx="4.2" ry="6.5" transform="rotate(-29.6 1601.6 331.1)"/>
<ellipse cx="1627.2" cy="341.4" rx="4.9" ry="9.2" transform="rotate(-19.3 1627.2 341.4)"/>
<ellipse cx="1666.3" cy="342.2" rx="3.8" ry="5.2" transform="rotate(-6.9 1666.3 342.2)"/>
<ellipse cx="1702.1" cy="336.3" rx="4.1" ry="5.6" transform="rotate(-21.9 1702.1 336.3)"/>
<ellipse cx="1726" cy="335.1" rx="3.6" ry="5.3" transform="rotate(-25.2 1726 335.1)"/>
<ellipse cx="1746.6" cy="337.4" rx="4.4" ry="7.6" transform="rotate(-12.5 1746.6 337.4)"/>
<ellipse cx="1775.9" cy="331.8" rx="4" ry="7" transform="rotate(2.2 1775.9 331.8)"/>
<ellipse cx="1791.7" cy="334.9" rx="4.4" ry="6.4" transform="rotate(-2.7 1791.7 334.9)"/>
<ellipse cx="1458.7" cy="356.6" rx="4.2" ry="5.9" transform="rotate(2.9 1458.7 356.6)"/>
<ellipse cx="1493.7" cy="351.2" rx="3.6" ry="5" transform="rotate(-25.6 1493.7 351.2)"/>
<ellipse cx="1503.5" cy="346.6" rx="3.8" ry="6.8" transform="rotate(-13.5 1503.5 346.6)"/>
<ellipse cx="1523.1" cy="348.6" rx="3.5" ry="5.2" transform="rotate(-30.5 1523.1 348.6)"/>
<ellipse cx="1541.4" cy="350.8" rx="4.2" ry="7" transform="rotate(-20.3 1541.4 350.8)"/>
<ellipse cx="1561.1" cy="353.4" rx="4.1" ry="6.7" transform="rotate(-15 1561.1 353.4)"/>
<ellipse cx="1578" cy="349.2" rx="4.9" ry="8.9" transform="rotate(0.6 1578 349.2)"/>
<ellipse cx="1589.6" cy="358.2" rx="3.9" ry="5.5" transform="rotate(-5.2 1589.6 358.2)"/>
<ellipse cx="1607" cy="348.3" rx="4.9" ry="7.2" transform="rotate(-28.4 1607 348.3)"/>
<ellipse cx="1620.7" cy="353.1" rx="4.2" ry="7.9" transform="rotate(-13 1620.7 353.1)"/>
<ellipse cx="1633" cy="352.4" rx="3.9" ry="6.4" transform="rotate(-8.6 1633 352.4)"/>
<ellipse cx="1650.6" cy="352.4" rx="4.2" ry="7.1" transform="rotate(3.9 1650.6 352.4)"/>
<ellipse cx="1671.3" cy="347.4" rx="4.7" ry="6.8" transform="rotate(-1.3 1671.3 347.4)"/>
<ellipse cx="1709.8" cy="352.4" rx="4.1" ry="6.8" transform="rotate(3 1709.8 352.4)"/>
<ellipse cx="1721.3" cy="349.9" rx="4.8" ry="7.6" transform="rotate(-19.3 1721.3 349.9)"/>
<ellipse cx="1734.6" cy="356.4" rx="4.7" ry="8.9" transform="rotate(1.9 1734.6 356.4)"/>
<ellipse cx="1758.1" cy="354.9" rx="4.7" ry="8.4" transform="rotate(-25.5 1758.1 354.9)"/>
<ellipse cx="1784.4" cy="357.4" rx="3.5" ry="5.7" transform="rotate(-19.3 1784.4 357.4)"/>
<ellipse cx="1825.4" cy="357.6" rx="4.5" ry="6" transform="rotate(-7.3 1825.4 357.6)"/>
<ellipse cx="1471.5" cy="372.4" rx="4" ry="5.6" transform="rotate(-6.3 1471.5 372.4)"/>
<ellipse cx="1510.8" cy="370.6" rx="3.6" ry="6.5" transform="rotate(-3.6 1510.8 370.6)"/>
<ellipse cx="1570.1" cy="369.6" rx="4.2" ry="6.5" transform="rotate(-18.9 1570.1 369.6)"/>
<ellipse cx="1577.2" cy="371.4" rx="3.8" ry="6.5" transform="rotate(-3.3 1577.2 371.4)"/>
<ellipse cx="1597.9" cy="365.7" rx="3.9" ry="5.5" transform="rotate(-8 1597.9 365.7)"/>
<ellipse cx="1619.6" cy="365.9" rx="4.9" ry="9" transform="rotate(-21.3 1619.6 365.9)"/>
<ellipse cx="1652.8" cy="371.2" rx="4" ry="5.9" transform="rotate(-12.7 1652.8 371.2)"/>
<ellipse cx="1658.2" cy="372.3" rx="4.3" ry="6.8" transform="rotate(-4.5 1658.2 372.3)"/>
<ellipse cx="1676.6" cy="368.9" rx="3.9" ry="5.8" transform="rotate(-29.4 1676.6 368.9)"/>
<ellipse cx="1695" cy="368.2" rx="4.9" ry="8.3" transform="rotate(-16.7 1695 368.2)"/>
<ellipse cx="1710.1" cy="367.6" rx="4.9" ry="6.8" transform="rotate(-16 1710.1 367.6)"/>
<ellipse cx="1732.9" cy="368.6" rx="4.5" ry="8.3" transform="rotate(1.4 1732.9 368.6)"/>
<ellipse cx="1746.7" cy="373.9" rx="4.3" ry="6.1" transform="rotate(-3.7 1746.7 373.9)"/>
<ellipse cx="1758.6" cy="368.5" rx="3.9" ry="6.8" transform="rotate(-5.1 1758.6 368.5)"/>
<ellipse cx="1782.5" cy="369.7" rx="4.6" ry="7.2" transform="rotate(-16 1782.5 369.7)"/>
<ellipse cx="1795.4" cy="373.4" rx="4.8" ry="6.4" transform="rotate(-29.4 1795.4 373.4)"/>
<ellipse cx="1814.6" cy="367.2" rx="3.7" ry="5.7" transform="rotate(-10.8 1814.6 367.2)"/>
<ellipse cx="1475.8" cy="385.6" rx="4.4" ry="5.9" transform="rotate(-5.7 1475.8 385.6)"/>
<ellipse cx="1485.2" cy="383.1" rx="3.5" ry="4.7" transform="rotate(-17.5 1485.2 383.1)"/>
<ellipse cx="1502.3" cy="388.8" rx="4.8" ry="7.6" transform="rotate(-10.3 1502.3 388.8)"/>
<ellipse cx="1529.3" cy="378.8" rx="4" ry="5.7" transform="rotate(0 1529.3 378.8)"/>
<ellipse cx="1538.9" cy="382.2" rx="4.8" ry="7" transform="rotate(-2.7 1538.9 382.2)"/>
<ellipse cx="1555.9" cy="381.8" rx="4.2" ry="6.5" transform="rotate(-20.3 1555.9 381.8)"/>
<ellipse cx="1571.9" cy="381" rx="4.7" ry="7.3" transform="rotate(-14.5 1571.9 381)"/>
<ellipse cx="1604.5" cy="388.2" rx="5" ry="8.8" transform="rotate(-17.1 1604.5 388.2)"/>
<ellipse cx="1625.4" cy="381" rx="4.6" ry="8.6" transform="rotate(-7.7 1625.4 381)"/>
<ellipse cx="1638.2" cy="385.2" rx="3.8" ry="6.8" transform="rotate(-12.1 1638.2 385.2)"/>
<ellipse cx="1674.5" cy="377.6" rx="4.1" ry="7.3" transform="rotate(-22.4 1674.5 377.6)"/>
<ellipse cx="1685.2" cy="382.2" rx="5" ry="7.1" transform="rotate(1.8 1685.2 382.2)"/>
<ellipse cx="1706" cy="387.3" rx="4.8" ry="7.3" transform="rotate(-10.2 1706 387.3)"/>
<ellipse cx="1724.6" cy="386.4" rx="4.4" ry="6.3" transform="rotate(-5.9 1724.6 386.4)"/>
<ellipse cx="1738.5" cy="389.2" rx="3.7" ry="6.6" transform="rotate(-20 1738.5 389.2)"/>
<ellipse cx="1759.9" cy="380.7" rx="4.4" ry="7" transform="rotate(-13.7 1759.9 380.7)"/>
<ellipse cx="1772.5" cy="388.1" rx="4.5" ry="6.6" transform="rotate(-2.2 1772.5 388.1)"/>
<ellipse cx="1783.2" cy="384.7" rx="4.2" ry="6.8" transform="rotate(4.7 1783.2 384.7)"/>
<ellipse cx="1809.4" cy="381.6" rx="4.6" ry="6.2" transform="rotate(-20.9 1809.4 381.6)"/>
<ellipse cx="1822.8" cy="387.3" rx="4.1" ry="6" transform="rotate(-18.7 1822.8 387.3)"/>
<ellipse cx="1460" cy="397.4" rx="4.5" ry="6.2" transform="rotate(-20.5 1460 397.4)"/>
<ellipse cx="1511.4" cy="394.3" rx="3.6" ry="6.4" transform="rotate(-4.7 1511.4 394.3)"/>
<ellipse cx="1531.6" cy="401.2" rx="3.5" ry="6.3" transform="rotate(-0.2 1531.6 401.2)"/>
<ellipse cx="1550.7" cy="401.3" rx="4" ry="7.3" transform="rotate(-23.9 1550.7 401.3)"/>
<ellipse cx="1562.5" cy="398.2" rx="4.7" ry="7.7" transform="rotate(-9.5 1562.5 398.2)"/>
<ellipse cx="1594.4" cy="400.3" rx="3.7" ry="7" transform="rotate(-19.4 1594.4 400.3)"/>
<ellipse cx="1613.4" cy="402.8" rx="4.9" ry="8.3" transform="rotate(-25.7 1613.4 402.8)"/>
<ellipse cx="1633.2" cy="395.5" rx="4.8" ry="8.8" transform="rotate(-23.6 1633.2 395.5)"/>
<ellipse cx="1644" cy="401.5" rx="3.6" ry="6.1" transform="rotate(-29.7 1644 401.5)"/>
<ellipse cx="1681.2" cy="394" rx="3.6" ry="5.4" transform="rotate(4.4 1681.2 394)"/>
<ellipse cx="1701.1" cy="393.7" rx="3.7" ry="4.8" transform="rotate(-6.2 1701.1 393.7)"/>
<ellipse cx="1710.5" cy="400.9" rx="4.5" ry="6.8" transform="rotate(-14.7 1710.5 400.9)"/>
<ellipse cx="1730.5" cy="397.2" rx="4" ry="5.9" transform="rotate(-21.2 1730.5 397.2)"/>
<ellipse cx="1740.4" cy="396.6" rx="4.4" ry="6.4" transform="rotate(-27.8 1740.4 396.6)"/>
<ellipse cx="1779.4" cy="396.6" rx="4.8" ry="8.5" transform="rotate(-9 1779.4 396.6)"/>
<ellipse cx="1798.1" cy="398.9" rx="4.1" ry="6.3" transform="rotate(-13.3 1798.1 398.9)"/>
<ellipse cx="1812.6" cy="399.3" rx="4.7" ry="8.6" transform="rotate(-23.7 1812.6 399.3)"/>
</g>
<g filter="url(#blur1)">
<circle cx="1647.1" cy="72.2" r="6" fill="#f5a623"/>
<circle cx="1648.1" cy="72.7" r="2.7" fill="#fff6dc"/>
<circle cx="1624.5" cy="65.8" r="3.2" fill="#f5a623"/>
<circle cx="1761.9" cy="57.2" r="5.4" fill="#f5a623"/>
<circle cx="1705" cy="91.5" r="6.4" fill="#f5a623"/>
<circle cx="1641.7" cy="92.6" r="3.9" fill="#f5a623"/>
<circle cx="1642.7" cy="93.1" r="1.7" fill="#fff6dc"/>
<circle cx="1679.2" cy="110.8" r="5.4" fill="#f5a623"/>
<circle cx="1712.5" cy="113" r="3.9" fill="#f5a623"/>
<circle cx="1713.5" cy="113.5" r="1.7" fill="#fff6dc"/>
<circle cx="1785.5" cy="116.2" r="3.9" fill="#f5a623"/>
<circle cx="1786.5" cy="116.7" r="1.7" fill="#fff6dc"/>
<circle cx="1739.3" cy="132.3" r="5.4" fill="#f5a623"/>
<circle cx="1661" cy="140.9" r="8.6" fill="#f5a623"/>
<circle cx="1575.2" cy="166.6" r="6.9" fill="#f5a623"/>
<circle cx="1576.2" cy="167.1" r="3.1" fill="#fff6dc"/>
<circle cx="1731.8" cy="166.6" r="7.5" fill="#f5a623"/>
<circle cx="1759.7" cy="166.6" r="5.4" fill="#f5a623"/>
<circle cx="1709.3" cy="173" r="6.4" fill="#f5a623"/>
<circle cx="1770.5" cy="188.1" r="3.2" fill="#f5a623"/>
<circle cx="1493.6" cy="200.9" r="6" fill="#f5a623"/>
<circle cx="1494.6" cy="201.4" r="2.7" fill="#fff6dc"/>
<circle cx="1496.8" cy="216" r="3.2" fill="#f5a623"/>
<circle cx="1497.8" cy="216.5" r="1.4" fill="#fff6dc"/>
<circle cx="1572" cy="276.1" r="6.9" fill="#f5a623"/>
<circle cx="1573" cy="276.6" r="3.1" fill="#fff6dc"/>
<circle cx="1609.5" cy="276.1" r="6" fill="#f5a623"/>
<circle cx="1610.5" cy="276.6" r="2.7" fill="#fff6dc"/>
<circle cx="1667.4" cy="267.5" r="6" fill="#f5a623"/>
<circle cx="1726.5" cy="276.1" r="4.7" fill="#f5a623"/>
<circle cx="1727.5" cy="276.6" r="2.1" fill="#fff6dc"/>
<circle cx="1736.1" cy="273.9" r="3.2" fill="#f5a623"/>
<circle cx="1737.1" cy="274.4" r="1.4" fill="#fff6dc"/>
<circle cx="1746.8" cy="265.3" r="7.5" fill="#f5a623"/>
<circle cx="1478.6" cy="293.2" r="6.4" fill="#f5a623"/>
<circle cx="1632" cy="319" r="7.5" fill="#f5a623"/>
<circle cx="1633" cy="319.5" r="3.4" fill="#fff6dc"/>
<circle cx="1708.2" cy="325.4" r="7.5" fill="#f5a623"/>
<circle cx="1709.3" cy="316.8" r="5.4" fill="#f5a623"/>
<circle cx="1679.2" cy="325.4" r="3.2" fill="#f5a623"/>
<circle cx="1680.2" cy="325.9" r="1.4" fill="#fff6dc"/>
<circle cx="1804.8" cy="309.3" r="4.3" fill="#f5a623"/>
<circle cx="1476.5" cy="364" r="4.7" fill="#f5a623"/>
<circle cx="1484" cy="368.3" r="3.9" fill="#f5a623"/>
<circle cx="1560.2" cy="376.9" r="4.7" fill="#f5a623"/>
<circle cx="1581.6" cy="371.5" r="6" fill="#f5a623"/>
<circle cx="1582.6" cy="372" r="2.7" fill="#fff6dc"/>
<circle cx="1612.7" cy="366.2" r="7.5" fill="#f5a623"/>
<circle cx="1487.2" cy="385.5" r="2.1" fill="#f5a623"/>
<circle cx="1488.2" cy="386" r="1" fill="#fff6dc"/>
<circle cx="1643.8" cy="394.1" r="5.4" fill="#f5a623"/>
<circle cx="1709.3" cy="370.5" r="4.3" fill="#f5a623"/>
<circle cx="1656.7" cy="151.6" r="4.3" fill="#f5a623"/>
<circle cx="1738.3" cy="143" r="3.2" fill="#f5a623"/>
<circle cx="1506.5" cy="179.5" r="5.4" fill="#f5a623"/>
<circle cx="1611.7" cy="233.1" r="3.9" fill="#f5a623"/>
<circle cx="1471.4" cy="152.8" r="0.9" fill="#e79a1f" opacity="0.8"/>
<circle cx="1745.7" cy="265.8" r="1.3" fill="#e79a1f" opacity="0.8"/>
<circle cx="1531.3" cy="353.5" r="2.3" fill="#e79a1f" opacity="0.8"/>
<circle cx="1705.7" cy="291" r="2.1" fill="#e79a1f" opacity="0.8"/>
<circle cx="1624.6" cy="186.9" r="1.8" fill="#e79a1f" opacity="0.8"/>
<circle cx="1775.4" cy="396.9" r="2.5" fill="#e79a1f" opacity="0.8"/>
<circle cx="1759.5" cy="72.7" r="1.2" fill="#e79a1f" opacity="0.8"/>
<circle cx="1807.5" cy="238.6" r="1.7" fill="#e79a1f" opacity="0.8"/>
<circle cx="1573.3" cy="351.2" r="1.7" fill="#e79a1f" opacity="0.8"/>
<circle cx="1814.4" cy="73.1" r="2.6" fill="#e79a1f" opacity="0.8"/>
<circle cx="1468.2" cy="98.8" r="1.5" fill="#e79a1f" opacity="0.8"/>
<circle cx="1690.1" cy="85.5" r="1.8" fill="#e79a1f" opacity="0.8"/>
<circle cx="1796.3" cy="200.4" r="2.2" fill="#e79a1f" opacity="0.8"/>
<circle cx="1673.2" cy="252.3" r="1.1" fill="#e79a1f" opacity="0.8"/>
<circle cx="1627.9" cy="364.8" r="2" fill="#e79a1f" opacity="0.8"/>
<circle cx="1540.3" cy="204.4" r="1.8" fill="#e79a1f" opacity="0.8"/>
<circle cx="1582.8" cy="250.7" r="1.9" fill="#e79a1f" opacity="0.8"/>
<circle cx="1469.8" cy="124.2" r="2" fill="#e79a1f" opacity="0.8"/>
<circle cx="1539.4" cy="72.1" r="2.2" fill="#e79a1f" opacity="0.8"/>
<circle cx="1581.8" cy="385.1" r="1.8" fill="#e79a1f" opacity="0.8"/>
<circle cx="1499.4" cy="271.6" r="1.3" fill="#e79a1f" opacity="0.8"/>
<circle cx="1752.1" cy="302.5" r="2.2" fill="#e79a1f" opacity="0.8"/>
<circle cx="1483.8" cy="58.5" r="2.2" fill="#e79a1f" opacity="0.8"/>
<circle cx="1513.3" cy="117.7" r="0.9" fill="#e79a1f" opacity="0.8"/>
<circle cx="1521.4" cy="213.9" r="2.5" fill="#e79a1f" opacity="0.8"/>
<circle cx="1577.3" cy="138.1" r="2.3" fill="#e79a1f" opacity="0.8"/>
<circle cx="1528.8" cy="271" r="1.9" fill="#e79a1f" opacity="0.8"/>
<circle cx="1794.9" cy="61.9" r="1.8" fill="#e79a1f" opacity="0.8"/>
<circle cx="1599.1" cy="337.6" r="1.3" fill="#e79a1f" opacity="0.8"/>
<circle cx="1716.8" cy="111.9" r="1.7" fill="#e79a1f" opacity="0.8"/>
<circle cx="1806.6" cy="131.2" r="1.3" fill="#e79a1f" opacity="0.8"/>
<circle cx="1788.6" cy="284.9" r="0.9" fill="#e79a1f" opacity="0.8"/>
<circle cx="1529.6" cy="130.3" r="1.3" fill="#e79a1f" opacity="0.8"/>
<circle cx="1762.7" cy="294.1" r="2.6" fill="#e79a1f" opacity="0.8"/>
<circle cx="1700.8" cy="268.4" r="1.5" fill="#e79a1f" opacity="0.8"/>
<circle cx="1717.7" cy="220.9" r="0.9" fill="#e79a1f" opacity="0.8"/>
<circle cx="1637.8" cy="182.2" r="1.8" fill="#e79a1f" opacity="0.8"/>
<circle cx="1480.8" cy="56.3" r="2.6" fill="#e79a1f" opacity="0.8"/>
<circle cx="1595" cy="163.1" r="1.1" fill="#e79a1f" opacity="0.8"/>
<circle cx="1673.4" cy="369.8" r="1.1" fill="#e79a1f" opacity="0.8"/>
<circle cx="1640.7" cy="223.1" r="2.2" fill="#e79a1f" opacity="0.8"/>
<circle cx="1663.7" cy="130.9" r="1.1" fill="#e79a1f" opacity="0.8"/>
<circle cx="1720.2" cy="74" r="2.4" fill="#e79a1f" opacity="0.8"/>
<circle cx="1475.4" cy="113.4" r="1.6" fill="#e79a1f" opacity="0.8"/>
<circle cx="1762.5" cy="265.5" r="2.1" fill="#e79a1f" opacity="0.8"/>
<circle cx="1733.1" cy="301.8" r="0.9" fill="#e79a1f" opacity="0.8"/>
<circle cx="1755.9" cy="98.6" r="1.1" fill="#e79a1f" opacity="0.8"/>
<circle cx="1476.8" cy="56.4" r="2.4" fill="#e79a1f" opacity="0.8"/>
<circle cx="1598.5" cy="77" r="0.9" fill="#e79a1f" opacity="0.8"/>
<circle cx="1763.4" cy="259.1" r="2.4" fill="#e79a1f" opacity="0.8"/>
<circle cx="1476.7" cy="86.2" r="1.3" fill="#e79a1f" opacity="0.8"/>
<circle cx="1531.2" cy="86.1" r="1.2" fill="#e79a1f" opacity="0.8"/>
<circle cx="1690.4" cy="105.8" r="1.1" fill="#e79a1f" opacity="0.8"/>
<circle cx="1653.2" cy="179.2" r="1.1" fill="#e79a1f" opacity="0.8"/>
<circle cx="1664.8" cy="226" r="1.5" fill="#e79a1f" opacity="0.8"/>
<circle cx="1631.5" cy="60.5" r="1.9" fill="#e79a1f" opacity="0.8"/>
<circle cx="1532" cy="165.1" r="0.8" fill="#e79a1f" opacity="0.8"/>
<circle cx="1778" cy="254.2" r="1.5" fill="#e79a1f" opacity="0.8"/>
<circle cx="1655.5" cy="378.7" r="1" fill="#e79a1f" opacity="0.8"/>
<circle cx="1599.3" cy="296.8" r="1.5" fill="#e79a1f" opacity="0.8"/>
<circle cx="1713.9" cy="367.5" r="0.9" fill="#e79a1f" opacity="0.8"/>
<circle cx="1564.3" cy="149.9" r="2.2" fill="#e79a1f" opacity="0.8"/>
<circle cx="1741.4" cy="293.7" r="2.5" fill="#e79a1f" opacity="0.8"/>
<circle cx="1529.3" cy="185.5" r="2.3" fill="#e79a1f" opacity="0.8"/>
<circle cx="1734.7" cy="86.2" r="2.6" fill="#e79a1f" opacity="0.8"/>
<circle cx="1725.9" cy="352.6" r="1.5" fill="#e79a1f" opacity="0.8"/>
<circle cx="1678" cy="385.4" r="2.4" fill="#e79a1f" opacity="0.8"/>
<circle cx="1668" cy="361.1" r="2.6" fill="#e79a1f" opacity="0.8"/>
<circle cx="1760.8" cy="278.3" r="2.5" fill="#e79a1f" opacity="0.8"/>
<circle cx="1514.4" cy="189.1" r="1.8" fill="#e79a1f" opacity="0.8"/>
<circle cx="1510.1" cy="322.5" r="0.9" fill="#e79a1f" opacity="0.8"/>
<circle cx="1686.3" cy="145.3" r="1.4" fill="#e79a1f" opacity="0.8"/>
<circle cx="1678.5" cy="114.1" r="1.6" fill="#e79a1f" opacity="0.8"/>
<circle cx="1767.2" cy="395.4" r="1.3" fill="#e79a1f" opacity="0.8"/>
<circle cx="1593" cy="291.7" r="1.1" fill="#e79a1f" opacity="0.8"/>
<circle cx="1764.3" cy="116.7" r="1.8" fill="#e79a1f" opacity="0.8"/>
<circle cx="1583.8" cy="46.8" r="0.8" fill="#e79a1f" opacity="0.8"/>
<circle cx="1464.2" cy="162.5" r="1.3" fill="#e79a1f" opacity="0.8"/>
<circle cx="1814.7" cy="271.9" r="0.9" fill="#e79a1f" opacity="0.8"/>
<circle cx="1717.2" cy="128.6" r="1.7" fill="#e79a1f" opacity="0.8"/>
<circle cx="1719.5" cy="349.3" r="2.5" fill="#e79a1f" opacity="0.8"/>
<circle cx="1612.6" cy="158.7" r="1.5" fill="#e79a1f" opacity="0.8"/>
<circle cx="1574.3" cy="308.6" r="1.6" fill="#e79a1f" opacity="0.8"/>
<circle cx="1706.4" cy="100.1" r="2.2" fill="#e79a1f" opacity="0.8"/>
<circle cx="1806" cy="118.2" r="1.9" fill="#e79a1f" opacity="0.8"/>
<circle cx="1520.9" cy="58.9" r="1.5" fill="#e79a1f" opacity="0.8"/>
<circle cx="1528.4" cy="304.8" r="1.8" fill="#e79a1f" opacity="0.8"/>
<circle cx="1702.5" cy="388.7" r="0.9" fill="#e79a1f" opacity="0.8"/>
<circle cx="1498.3" cy="59" r="1.6" fill="#e79a1f" opacity="0.8"/>
<circle cx="1755.6" cy="288.2" r="1.8" fill="#e79a1f" opacity="0.8"/>
<circle cx="1766.8" cy="178" r="1" fill="#e79a1f" opacity="0.8"/>
<circle cx="1690.8" cy="55.5" r="1.2" fill="#e79a1f" opacity="0.8"/>
<circle cx="1474.1" cy="103.5" r="0.9" fill="#e79a1f" opacity="0.8"/>
<circle cx="1651.8" cy="91.7" r="1.9" fill="#e79a1f" opacity="0.8"/>
<circle cx="1755.5" cy="168.2" r="1" fill="#e79a1f" opacity="0.8"/>
<circle cx="1701.3" cy="304" r="2.4" fill="#e79a1f" opacity="0.8"/>
<circle cx="1659.8" cy="252.2" r="2.4" fill="#e79a1f" opacity="0.8"/>
<circle cx="1703.4" cy="391.1" r="1.3" fill="#e79a1f" opacity="0.8"/>
<circle cx="1737.9" cy="270.2" r="1.6" fill="#e79a1f" opacity="0.8"/>
<circle cx="1467.3" cy="214.9" r="1.3" fill="#e79a1f" opacity="0.8"/>
<circle cx="1676.6" cy="226.5" r="1.7" fill="#e79a1f" opacity="0.8"/>
<circle cx="1484.3" cy="92.9" r="1.9" fill="#e79a1f" opacity="0.8"/>
<circle cx="1705.1" cy="396.7" r="2.2" fill="#e79a1f" opacity="0.8"/>
<circle cx="1566.3" cy="207.5" r="1.7" fill="#e79a1f" opacity="0.8"/>
<circle cx="1748.4" cy="185.9" r="2.5" fill="#e79a1f" opacity="0.8"/>
<circle cx="1635" cy="187.1" r="1.7" fill="#e79a1f" opacity="0.8"/>
<circle cx="1590.1" cy="399.9" r="0.9" fill="#e79a1f" opacity="0.8"/>
<circle cx="1605.1" cy="74.5" r="2" fill="#e79a1f" opacity="0.8"/>
<circle cx="1516.9" cy="99.1" r="1.6" fill="#e79a1f" opacity="0.8"/>
<circle cx="1676.8" cy="316.4" r="1.6" fill="#e79a1f" opacity="0.8"/>
</g>
<rect x="1463.5" y="46.4" width="354.3" height="353.6" filter="url(#grain)" opacity="0.4"/>
</g>
<rect x="1700.7" y="375.2" width="101" height="5.6" fill="#fff"/>
<text x="1694" y="358.7" font-size="33" fill="#fff" stroke="#fff" stroke-width="0.8" textLength="114" lengthAdjust="spacingAndGlyphs">100µm</text>
<!-- Panel C -->
<text x="19" y="502.8" font-size="47.8" fill="#231f20" stroke="#231f20" stroke-width="0.9" textLength="30" lengthAdjust="spacingAndGlyphs">C</text>
<text x="151" y="498.7" font-size="38.5" fill="#5d6060" stroke="#5d6060" stroke-width="0.9" textLength="671" lengthAdjust="spacingAndGlyphs">Wild-type myoblast surface crowding</text>
<path d="M77.6 756V988.7M70.4 988.7H617M70.4 758H77.6M70.4 911.2H77.6M70.4 835H77.6M115.8 988.7V995.5M270.4 988.7V995.5M423.8 988.7V995.5M577.5 988.7V995.5" stroke="#5d6060" stroke-width="4.2" fill="none"/>
<text x="61.5" y="765.4" font-size="34.6" fill="#5d6060" stroke="#5d6060" stroke-width="0.9" text-anchor="end">3</text>
<text x="61.5" y="921.8" font-size="34.6" fill="#5d6060" stroke="#5d6060" stroke-width="0.9" text-anchor="end">2</text>
<text x="118.2" y="1032.8" font-size="35.5" fill="#5d6060" stroke="#5d6060" stroke-width="0.9" text-anchor="middle">0</text>
<text x="272.9" y="1032.8" font-size="35.5" fill="#5d6060" stroke="#5d6060" stroke-width="0.9" text-anchor="middle">2</text>
<text x="426.3" y="1032.8" font-size="35.5" fill="#5d6060" stroke="#5d6060" stroke-width="0.9" text-anchor="middle">4</text>
<text x="580" y="1032.8" font-size="35.5" fill="#5d6060" stroke="#5d6060" stroke-width="0.9" text-anchor="middle">6</text>
<text x="147.5" y="1074.2" font-size="33.2" fill="#5d6060" stroke="#5d6060" stroke-width="0.9" textLength="410" lengthAdjust="spacingAndGlyphs">Days post differentiation</text>
<text x="27" y="910.5" font-size="33.7" fill="#5d6060" stroke="#5d6060" stroke-width="0.9" textLength="128" lengthAdjust="spacingAndGlyphs" transform="rotate(-90 27 910.5)">ΔU<tspan dy="5.5" font-size="21.4">s</tspan><tspan dy="-5.5"> (kT)</tspan></text>
<polyline points="115.8,813.3 270.4,860.2 423.8,882.1 577.5,931" fill="none" stroke="#3f9fba" stroke-width="3.2"/>
<path d="M115.8 784V842.2M110.5 784H121M110.5 842.2H121" stroke="#3f9fba" stroke-width="3" fill="none"/>
<circle cx="115.8" cy="813.3" r="8.4" fill="#3f9fba"/>
<path d="M270.4 810.5V909.8M265.1 810.5H275.6M265.1 909.8H275.6" stroke="#3f9fba" stroke-width="3" fill="none"/>
<circle cx="270.4" cy="860.2" r="8.4" fill="#3f9fba"/>
<path d="M423.8 856.4V907.7M418.6 856.4H429.1M418.6 907.7H429.1" stroke="#3f9fba" stroke-width="3" fill="none"/>
<circle cx="423.8" cy="882.1" r="8.4" fill="#3f9fba"/>
<path d="M577.5 887.5V974.8M572.2 887.5H582.8M572.2 974.8H582.8" stroke="#3f9fba" stroke-width="3" fill="none"/>
<circle cx="577.5" cy="931" r="8.4" fill="#3f9fba"/>
<path d="M259.5 580.9H269.5M259 672.3H269" stroke="#a8d4e6" stroke-width="1"/>
<rect x="731.2" y="608.1" width="91.5" height="374.3" fill="#9fd8dc" stroke="#2f9ba6" stroke-width="1.8"/>
<rect x="847" y="716.8" width="91.5" height="265.6" fill="#9acd7f" stroke="#62ad45" stroke-width="1.8"/>
<path d="M693.8 555.6V982.4M687.6 982.4H968M687.6 557.6H693.8M687.6 699.4H693.8M687.6 840.8H693.8" stroke="#5d6060" stroke-width="3.9" fill="none"/>
<text x="682" y="574" font-size="37.5" fill="#5d6060" stroke="#5d6060" stroke-width="0.9" text-anchor="end">3</text>
<text x="682" y="711.1" font-size="37.5" fill="#5d6060" stroke="#5d6060" stroke-width="0.9" text-anchor="end">2</text>
<text x="682" y="851.5" font-size="37.5" fill="#5d6060" stroke="#5d6060" stroke-width="0.9" text-anchor="end">1</text>
<text x="682" y="994.8" font-size="37.5" fill="#5d6060" stroke="#5d6060" stroke-width="0.9" text-anchor="end">0</text>
<path d="M778.8 581.9V635.5M772.8 581.9H784.8M772.8 635.5H784.8" stroke="#5d6060" stroke-width="4" fill="none"/>
<path d="M893.9 677V757.4M887.9 677H899.9M887.9 757.4H899.9" stroke="#5d6060" stroke-width="4" fill="none"/>
<circle cx="752.2" cy="628.1" r="4.1" fill="#5d6060"/>
<circle cx="778.8" cy="588.9" r="4.1" fill="#5d6060"/>
<circle cx="799.8" cy="610.6" r="4.1" fill="#5d6060"/>
<circle cx="868.9" cy="739.5" r="4.1" fill="#5d6060"/>
<circle cx="893.9" cy="675.1" r="4.1" fill="#5d6060"/>
<circle cx="921.6" cy="748.4" r="4.1" fill="#5d6060"/>
<path d="M779 540.8H898.8" stroke="#9c9e9e" stroke-width="4.2"/>
<text x="837.5" y="546.2" font-size="47.9" fill="#9c9e9e" stroke="#9c9e9e" stroke-width="0.4" text-anchor="middle">*</text>
<text x="732" y="1014.2" font-size="30" fill="#5d6060" stroke="#5d6060" stroke-width="0.9" textLength="87" lengthAdjust="spacingAndGlyphs">Day 0</text>
<text x="854.5" y="1014.2" font-size="30" fill="#5d6060" stroke="#5d6060" stroke-width="0.9" textLength="87" lengthAdjust="spacingAndGlyphs">Day 6</text>
<text x="641.6" y="834.5" font-size="31.7" fill="#5d6060" stroke="#5d6060" stroke-width="0.9" textLength="139" lengthAdjust="spacingAndGlyphs" transform="rotate(-90 641.6 834.5)">ΔU<tspan dy="0" font-size="26.5">s</tspan><tspan dy="0"> (k</tspan><tspan dy="6" font-size="21.4">B</tspan><tspan dy="-6">T)</tspan></text>
<use href="#cl1c" transform="translate(122.6 542) scale(0.457 0.457)"/>
<use href="#cl2" transform="translate(126 539.1) scale(0.459 0.459)"/>
<use href="#tube" transform="translate(123.6 539.3) scale(0.46 0.456)"/>
<path d="M254.1 628.9H278.4V621.4L295.1 633.9L278.4 646.4V638.9H254.1Z" fill="#231f20"/>
<path d="M435.3 621.4H460.1V614L477 626.6L460.1 639.2V631.8H435.3Z" fill="#231f20"/>
<!-- Panel D -->
<text x="998" y="502.5" font-size="47.8" fill="#231f20" stroke="#231f20" stroke-width="0.9" textLength="34" lengthAdjust="spacingAndGlyphs">D</text>
<text x="1175.5" y="501.6" font-size="38.5" fill="#5d6060" stroke="#5d6060" stroke-width="0.9" textLength="645" lengthAdjust="spacingAndGlyphs">Mymk-/- myoblast surface crowding</text>
<path d="M1094 639V982.4M1087 982.4H1572.2M1087 640.6H1094M1087 776.9H1094M1087 914.2H1094M1087 708.6H1094M1087 845.2H1094M1128.1 982.4V989M1264.5 982.4V989M1400.8 982.4V989M1537.3 982.4V989" stroke="#5d6060" stroke-width="4" fill="none"/>
<text x="1082" y="650.6" font-size="34.9" fill="#5d6060" stroke="#5d6060" stroke-width="0.9" text-anchor="end">4</text>
<text x="1082" y="786.9" font-size="34.9" fill="#5d6060" stroke="#5d6060" stroke-width="0.9" text-anchor="end">3</text>
<text x="1082" y="924.2" font-size="34.9" fill="#5d6060" stroke="#5d6060" stroke-width="0.9" text-anchor="end">2</text>
<text x="1131.1" y="1021.6" font-size="35.6" fill="#5d6060" stroke="#5d6060" stroke-width="0.9" text-anchor="middle">0</text>
<text x="1267.5" y="1021.6" font-size="35.6" fill="#5d6060" stroke="#5d6060" stroke-width="0.9" text-anchor="middle">2</text>
<text x="1403.8" y="1021.6" font-size="35.6" fill="#5d6060" stroke="#5d6060" stroke-width="0.9" text-anchor="middle">4</text>
<text x="1540.3" y="1021.6" font-size="35.6" fill="#5d6060" stroke="#5d6060" stroke-width="0.9" text-anchor="middle">6</text>
<text x="1135.5" y="1060.1" font-size="34.2" fill="#5d6060" stroke="#5d6060" stroke-width="0.9" textLength="410.5" lengthAdjust="spacingAndGlyphs">Days post differentiation</text>
<text x="1035" y="855" font-size="33.7" fill="#5d6060" stroke="#5d6060" stroke-width="0.9" textLength="127" lengthAdjust="spacingAndGlyphs" transform="rotate(-90 1035 855)">ΔU<tspan dy="5.5" font-size="21.4">s</tspan><tspan dy="-5.5"> (kT)</tspan></text>
<polyline points="1128.1,748.5 1264.5,736.5 1400.8,880.5 1537.3,883.6" fill="none" stroke="#3e56a6" stroke-width="2.2"/>
<path d="M1128.1 702.4V794M1123.7 702.4H1132.5M1123.7 794H1132.5" stroke="#3e56a6" stroke-width="2.2" fill="none"/>
<circle cx="1128.1" cy="748.5" r="6.8" fill="#3e56a6"/>
<path d="M1264.5 695.4V776.1M1260.1 695.4H1268.9M1260.1 776.1H1268.9" stroke="#3e56a6" stroke-width="2.2" fill="none"/>
<circle cx="1264.5" cy="736.5" r="6.8" fill="#3e56a6"/>
<path d="M1400.8 820.7V939.9M1396.4 820.7H1405.2M1396.4 939.9H1405.2" stroke="#3e56a6" stroke-width="2.2" fill="none"/>
<circle cx="1400.8" cy="880.5" r="6.8" fill="#3e56a6"/>
<path d="M1537.3 858V909.6M1532.9 858H1541.7M1532.9 909.6H1541.7" stroke="#3e56a6" stroke-width="2.2" fill="none"/>
<circle cx="1537.3" cy="883.6" r="6.8" fill="#3e56a6"/>
<rect x="1708.7" y="619.8" width="86.3" height="363.4" fill="#8dd2d9" stroke="#2f9ba6" stroke-width="1.8"/>
<rect x="1832.2" y="732.4" width="86.5" height="250.8" fill="#98cc7e" stroke="#62ad45" stroke-width="1.8"/>
<path d="M1668.3 528V983.2M1663 983.2H1948M1663 530H1668.3M1663 642.9H1668.3M1663 756.2H1668.3M1663 869.9H1668.3" stroke="#5d6060" stroke-width="3.9" fill="none"/>
<text x="1658.5" y="545" font-size="37.5" fill="#5d6060" stroke="#5d6060" stroke-width="0.9" text-anchor="end">4</text>
<text x="1658.5" y="657.9" font-size="37.5" fill="#5d6060" stroke="#5d6060" stroke-width="0.9" text-anchor="end">3</text>
<text x="1658.5" y="771.2" font-size="37.5" fill="#5d6060" stroke="#5d6060" stroke-width="0.9" text-anchor="end">2</text>
<text x="1658.5" y="884.9" font-size="37.5" fill="#5d6060" stroke="#5d6060" stroke-width="0.9" text-anchor="end">1</text>
<text x="1658.5" y="998.2" font-size="37.5" fill="#5d6060" stroke="#5d6060" stroke-width="0.9" text-anchor="end">0</text>
<path d="M1751.2 578.9V657.8M1747.6 657.8H1754.8M1877 711.4V752.8M1873.3 711.4H1880.7M1873.3 752.8H1880.7" stroke="#5d6060" stroke-width="3.8" fill="none"/>
<circle cx="1751.3" cy="578.9" r="4.1" fill="#5d6060"/>
<circle cx="1773.8" cy="614.6" r="4.1" fill="#5d6060"/>
<circle cx="1730" cy="692.2" r="4.1" fill="#5d6060"/>
<circle cx="1853.3" cy="736.4" r="4.1" fill="#5d6060"/>
<circle cx="1877" cy="728.3" r="4.1" fill="#5d6060"/>
<circle cx="1896" cy="733.7" r="4.1" fill="#5d6060"/>
<path d="M1754.8 555.4H1881.7" stroke="#9c9e9e" stroke-width="4.2"/>
<text x="1818.2" y="560.4" font-size="47.9" fill="#9c9e9e" stroke="#9c9e9e" stroke-width="0.4" text-anchor="middle">*</text>
<text x="1709.5" y="1018.9" font-size="30.3" fill="#5d6060" stroke="#5d6060" stroke-width="0.9" textLength="87" lengthAdjust="spacingAndGlyphs">Day 0</text>
<text x="1835.5" y="1018.9" font-size="30.3" fill="#5d6060" stroke="#5d6060" stroke-width="0.9" textLength="87" lengthAdjust="spacingAndGlyphs">Day 6</text>
<text x="1619.4" y="808.5" font-size="31.7" fill="#5d6060" stroke="#5d6060" stroke-width="0.9" textLength="138" lengthAdjust="spacingAndGlyphs" transform="rotate(-90 1619.4 808.5)">ΔU<tspan dy="0" font-size="26.5">s</tspan><tspan dy="0"> (k</tspan><tspan dy="6" font-size="21.4">B</tspan><tspan dy="-6">T)</tspan></text>
<use href="#cl1d" transform="translate(1101 520.3) scale(0.521)"/>
<use href="#cl1d" transform="translate(1255.2 525) scale(0.521)"/>
<use href="#cl1d" transform="translate(1417 521.2) scale(0.521)"/>
<path d="M1275.1 610.2H1300V603.1L1316.5 615.6L1300 628.1V621H1275.1Z" fill="#231f20"/>
<path d="M1424.5 610.2H1449.4V603.1L1466 615.6L1449.4 628.1V621H1424.5Z" fill="#231f20"/>
<!-- Panel E -->
<g clip-path="url(#clipE1)">
<rect x="100" y="1120" width="357" height="528" fill="#e4f3fc"/>
<path d="M127.6 1519.3C111.4 1471.7 127.3 1284.7 127.6 1233.5C128 1182.3 127.6 1216.9 129.8 1212.3C131.9 1207.8 136.1 1206 140.3 1206C144.6 1206 152.3 1208.5 155.2 1212.3C158 1216.2 155 1223.3 157.3 1229.3C159.6 1235.3 166.6 1241.3 168.9 1248.3C171.2 1255.4 170.9 1261.7 171 1271.6C171.2 1281.5 168.7 1295.6 170 1307.6C171.2 1319.6 174.6 1333 178.4 1343.6C182.3 1354.2 189.4 1363 193.3 1371.1C197.1 1379.2 200.1 1383.4 201.7 1392.3C203.3 1401.1 198.9 1402.9 202.8 1424C206.7 1445.2 237.5 1503.4 225 1519.3C212.5 1535.2 143.9 1566.9 127.6 1519.3Z" fill="#bde5f3" stroke="#c6c9c9" stroke-width="0.8"/>
<path d="M213.4 1222.9C215.5 1220.1 210 1199.6 212.3 1191.2C214.6 1182.7 222.2 1173.5 227.1 1172.1C232.1 1170.7 236.7 1176.7 241.9 1182.7C247.2 1188.7 255.4 1198.6 258.9 1208.1C262.4 1217.6 261.2 1233.2 263.1 1239.9C265.1 1246.6 268.8 1235.3 270.5 1248.3C272.3 1261.4 273.7 1273 273.7 1318.2C273.7 1363.3 287.6 1485.8 270.5 1519.3C253.4 1552.8 187.6 1562.3 171 1519.3C154.4 1476.2 171.2 1308.7 171 1261C170.9 1213.4 169.6 1241.6 170 1233.5C170.3 1225.4 170.3 1217.6 173.1 1212.3C176 1207 182.5 1202.5 186.9 1201.8C191.3 1201 195.2 1204.6 199.6 1208.1C204 1211.6 211.3 1225.7 213.4 1222.9Z" fill="#d8eff7" stroke="#c6c9c9" stroke-width="0.8"/>
<path d="M368.4 1170C364.4 1170 360.3 1176.4 357.8 1182.7C355.4 1189.1 357 1200.7 353.6 1208.1C350.3 1215.5 340.9 1221.2 337.7 1227.2C334.6 1233.2 334.6 1236.7 334.6 1244.1C334.6 1251.5 336 1262.1 337.7 1271.6C339.5 1281.1 343.9 1282.9 345.1 1301.2C346.4 1319.6 336.5 1368.3 345.1 1381.7C353.8 1395.1 387.8 1405.3 397 1381.7C406.2 1358 399.8 1267 400.2 1239.9C400.5 1212.7 401.1 1225 399.1 1218.7C397.2 1212.3 391.4 1207.8 388.5 1201.8C385.7 1195.8 385.5 1188 382.2 1182.7C378.8 1177.4 372.5 1170 368.4 1170Z" fill="#d8eff7" stroke="#c6c9c9" stroke-width="0.8"/>
<path d="M298.6 1173.2C294.4 1173.2 290.2 1174.1 286.9 1180.6C283.5 1187.1 281 1202.4 278.5 1212.3C276 1222.2 273.4 1232 272.1 1239.9C270.8 1247.9 271.2 1241.7 270.5 1260C269.8 1278.3 269.4 1313.7 268 1350C266.6 1386.3 262.7 1448 262 1478C261.3 1508 258.2 1521.3 264 1530C269.8 1538.7 289.9 1533.5 296.5 1530C303.1 1526.5 301.8 1515.8 303.9 1508.7C306 1501.6 307.8 1497 309.2 1487.5C310.6 1478 310.7 1462.1 312.3 1451.5C313.9 1440.9 314.1 1430.7 318.7 1424C323.3 1417.3 336.4 1414.8 339.9 1411.3C343.4 1407.8 339 1407.8 339.9 1402.9C340.8 1398 344.2 1398.7 345.1 1381.7C346 1364.8 346.3 1319.6 345.1 1301.2C343.9 1282.8 340.7 1282.2 337.7 1271.6C334.7 1261 330 1248.6 327.2 1237.7C324.4 1226.8 323.3 1215.5 320.8 1206C318.3 1196.5 316 1186.1 312.3 1180.6C308.6 1175.1 302.8 1173.2 298.6 1173.2Z" fill="#bde5f3" stroke="#c6c9c9" stroke-width="0.8"/>
<path d="M386.4 1236.7C381.3 1237.4 373.9 1242.9 370.6 1248.3C367.2 1253.8 367.4 1257.8 366.3 1269.5C365.3 1281.1 366.1 1301.2 364.2 1318.2C362.3 1335.1 357.8 1360.5 354.7 1371.1C351.5 1381.7 347.6 1376.4 345.1 1381.7C342.7 1387 340.6 1397.9 339.9 1402.9C339.2 1407.8 339.9 1409.2 340.9 1411.3C342 1413.4 344.4 1411.7 346.2 1415.6C348 1419.4 348.7 1430 351.5 1434.6C354.3 1439.2 360.1 1439.9 363.1 1443.1C366.1 1446.2 368.4 1439.2 369.5 1453.7C370.6 1468.1 360 1517.2 369.5 1529.9C379 1542.6 417.1 1561.6 426.6 1529.9C436.2 1498.1 427.4 1373.9 426.6 1339.3C425.9 1304.8 424.5 1328.8 422.4 1322.4C420.3 1316.1 416.1 1311.1 413.9 1301.2C411.8 1291.4 411.8 1272.7 409.7 1263.1C407.6 1253.6 405.1 1248.5 401.2 1244.1C397.4 1239.7 391.5 1236 386.4 1236.7Z" fill="#bde5f3" stroke="#c6c9c9" stroke-width="0.8"/>
<path d="M339.9 1411.3C335.3 1412.7 323.3 1417.3 318.7 1424C314.1 1430.7 313.9 1441 312.3 1451.5C310.7 1462.1 310.6 1478 309.2 1487.5C307.8 1497.1 306 1502.9 303.9 1508.7C301.8 1514.5 297.7 1518.2 296.5 1522.5C295.2 1526.7 283.9 1532.2 296.5 1534.1C309 1536 359.4 1547.5 371.6 1534.1C383.8 1520.7 370.9 1468.8 369.5 1453.7C368.1 1438.5 366.1 1446.2 363.1 1443.1C360.1 1439.9 354.3 1439.2 351.5 1434.6C348.7 1430 348.1 1419.4 346.2 1415.6C344.3 1411.7 344.4 1409.9 339.9 1411.3Z" fill="#d8eff7" stroke="#c6c9c9" stroke-width="0.8"/>
<path d="M135 1371.1C134.3 1355.2 132.9 1355.9 136.1 1349.9C139.3 1344 148.1 1336.2 154.1 1335.5C160.1 1334.8 167.7 1339.8 172.1 1345.7C176.5 1351.6 177.4 1362.3 180.6 1371.1C183.7 1379.9 185.8 1390.5 191.1 1398.6C196.4 1406.7 207.4 1412 212.3 1419.8C217.2 1427.6 217.2 1434.6 220.8 1445.2C224.3 1455.8 230 1473.4 233.5 1483.3C237 1493.2 240.4 1498.1 241.9 1504.5C243.5 1510.8 256.4 1517.2 243 1521.4C229.6 1525.6 178.6 1542.6 161.5 1529.9C144.4 1517.2 144.7 1471.7 140.3 1445.2C135.9 1418.7 135.8 1387 135 1371.1Z" fill="#97bce0" stroke="#4f5759" stroke-width="1.5"/>
<path d="M460.5 1182.7C459 1150.1 454.8 1184.5 451.6 1185.9C448.5 1187.3 444.4 1186.8 441.5 1191.2C438.5 1195.6 435.5 1204.6 434.1 1212.3C432.6 1220.1 434.6 1228.9 433 1237.7C431.4 1246.6 427 1255.7 424.5 1265.3C422.1 1274.8 418.5 1286.4 418.2 1294.9C417.8 1303.4 420.1 1310.1 422.4 1316.1C424.7 1322.1 430.2 1327.4 431.9 1330.9C433.7 1334.4 433.7 1334.8 433 1337.2C432.3 1339.7 428.6 1338.3 427.7 1345.7C426.8 1353.1 422.2 1375.7 427.7 1381.7C433.2 1387.7 455 1414.8 460.5 1381.7C466 1348.5 462 1215.3 460.5 1182.7Z" fill="#97bce0" stroke="#4f5759" stroke-width="1.5"/>
<path d="M93.8 1233.5C95.5 1182.3 101.2 1228.8 104.4 1227.2C107.5 1225.5 109.3 1222.6 112.8 1223.3C116.3 1224.1 122.6 1226.2 125.5 1231.4C128.4 1236.6 130 1245.1 130.2 1254.7C130.4 1264.2 127.5 1278 126.6 1288.5C125.6 1299.1 123.9 1307.9 124.5 1318.2C125 1328.4 127.1 1339.3 129.8 1349.9C132.4 1360.5 135 1370.4 140.3 1381.7C145.6 1393 154.4 1406 161.5 1417.7C168.6 1429.3 177.4 1440.6 182.7 1451.5C188 1462.5 190.8 1474.5 193.3 1483.3C195.7 1492.1 195.6 1498.8 197.5 1504.5C199.4 1510.1 203.7 1512.2 204.9 1517.2C206.1 1522.1 223.4 1531.3 204.9 1534.1C186.4 1536.9 112.3 1584.2 93.8 1534.1C75.2 1484 92 1284.7 93.8 1233.5Z" fill="#6ea4cc" stroke="#4f5759" stroke-width="1.5"/>
<path d="M93.8 1381.7C95.5 1359.1 100.8 1394 104.4 1402.9C107.9 1411.7 110.7 1424 114.9 1434.6C119.2 1445.2 126.4 1455.8 129.8 1466.4C133.1 1476.9 133.1 1489.3 135 1498.1C137 1506.9 140.3 1512.6 141.4 1519.3C142.5 1526 149.3 1535.2 141.4 1538.3C133.5 1541.5 101.7 1564.4 93.8 1538.3C85.8 1512.2 92 1404.3 93.8 1381.7Z" fill="#97bce0" stroke="#4f5759" stroke-width="1.5"/>
<path d="M431.9 1345.3C427.4 1345.6 420.1 1351.6 416.1 1356.3C412 1360.9 410.1 1366.2 407.6 1373.2C405.1 1380.3 405.1 1389.1 401.2 1398.6C397.4 1408.1 389.6 1420.8 384.3 1430.4C379 1439.9 373.4 1447 369.5 1455.8C365.6 1464.6 363.1 1475.2 361 1483.3C358.9 1491.4 357.8 1497.8 356.8 1504.5C355.7 1511.1 355 1517.4 354.7 1523.1C354.3 1528.7 337 1535.8 354.7 1538.3C372.3 1540.9 442.9 1564.4 460.5 1538.3C478.2 1512.2 462 1408.1 460.5 1381.7C459 1355.2 453.4 1381.7 451.6 1379.6C449.9 1377.5 451.3 1373.2 449.9 1369C448.6 1364.8 446.6 1358.1 443.6 1354.2C440.6 1350.2 436.5 1344.9 431.9 1345.3Z" fill="#6ea4cc" stroke="#4f5759" stroke-width="1.5"/>
<path d="M188.6 1258.8L282.3 1347.8L372.5 1370.4" fill="none" stroke="#4e595b" stroke-width="22.2" stroke-linecap="round" stroke-linejoin="miter"/>
<path d="M168.3 1279L263 1366L287.6 1458.5" fill="none" stroke="#4e595b" stroke-width="22.2" stroke-linecap="round" stroke-linejoin="miter"/>
<path d="M299.6 1324L381.8 1344.5" fill="none" stroke="#4e595b" stroke-width="22.2" stroke-linecap="round" stroke-linejoin="miter"/>
<path d="M239.4 1388L261.3 1467" fill="none" stroke="#4e595b" stroke-width="22.2" stroke-linecap="round" stroke-linejoin="miter"/>
<path d="M188.6 1258.8L282.3 1347.8L372.5 1370.4" fill="none" stroke="#5a9ba6" stroke-width="16.8" stroke-linecap="round" stroke-linejoin="miter"/>
<path d="M168.3 1279L263 1366L287.6 1458.5" fill="none" stroke="#5a9ba6" stroke-width="16.8" stroke-linecap="round" stroke-linejoin="miter"/>
<path d="M299.6 1324L381.8 1344.5" fill="none" stroke="#5a9ba6" stroke-width="16.8" stroke-linecap="round" stroke-linejoin="miter"/>
<path d="M239.4 1388L261.3 1467" fill="none" stroke="#5a9ba6" stroke-width="16.8" stroke-linecap="round" stroke-linejoin="miter"/>
<path d="M311 1455C318 1460 322.5 1467 322 1480S320 1500 322 1508S324 1518 325.6 1526" fill="none" stroke="#222" stroke-width="1.4"/>
<path d="M319 1461.5l-8.5 -1.2M321.8 1468l-8.5 -1.2M322.3 1474.5l-8.5 -1.2M322.2 1481l-8.5 -1.2M321.6 1487.5l-8.5 -1.2M321.4 1506l-8.5 -1.2M322.3 1511.5l-8.5 -1.2M323.3 1517l-8.5 -1.2M324.5 1522l-8.5 -1.2" stroke="#222" stroke-width="1.2" fill="none"/>
<circle cx="309" cy="1451.3" r="5.5" fill="#d4d92f" stroke="#222" stroke-width="1"/>
<circle cx="320.2" cy="1497.8" r="5.6" fill="#5540a0" stroke="#222" stroke-width="1"/>
<path d="M96 1533C97.4 1532.6 96.8 1532.8 104.5 1530.5C112.2 1528.2 129.8 1521.5 142.5 1519.1C155.2 1516.7 163.1 1516 180.5 1516.2C197.9 1516.4 223.3 1518.5 247 1520C270.7 1521.5 300.8 1524.9 322.9 1525.4C345 1525.9 358.4 1524.8 379.9 1522.9C401.4 1521.1 438.6 1516 452 1514.3C465.4 1512.6 458.7 1513.2 460 1513L460 1660L96 1660Z" fill="#fee1c1"/>
<path d="M96 1533C97.4 1532.6 96.8 1532.8 104.5 1530.5C112.2 1528.2 129.8 1521.5 142.5 1519.1C155.2 1516.7 163.1 1516 180.5 1516.2C197.9 1516.4 223.3 1518.5 247 1520C270.7 1521.5 300.8 1524.9 322.9 1525.4C345 1525.9 358.4 1524.8 379.9 1522.9C401.4 1521.1 438.6 1516 452 1514.3C465.4 1512.6 458.7 1513.2 460 1513" fill="none" stroke="#5d6264" stroke-width="1.6"/>
<path d="M96 1610C97.4 1609.6 96.8 1609.6 104.5 1607.4C112.2 1605.2 129.8 1599.3 142.5 1597C155.2 1594.7 163.1 1593.5 180.5 1593.7C197.9 1593.9 223.3 1596.4 247 1597.9C270.7 1599.4 300.8 1602.3 322.9 1602.7C345 1603.1 358.4 1602.1 379.9 1600.2C401.4 1598.3 438.6 1593 452 1591.3C465.4 1589.6 458.7 1590.2 460 1590L460 1660L96 1660Z" fill="#c3e7e3"/>
<path d="M96 1610C97.4 1609.6 96.8 1609.6 104.5 1607.4C112.2 1605.2 129.8 1599.3 142.5 1597C155.2 1594.7 163.1 1593.5 180.5 1593.7C197.9 1593.9 223.3 1596.4 247 1597.9C270.7 1599.4 300.8 1602.3 322.9 1602.7C345 1603.1 358.4 1602.1 379.9 1600.2C401.4 1598.3 438.6 1593 452 1591.3C465.4 1589.6 458.7 1590.2 460 1590" fill="none" stroke="#1a1a1a" stroke-width="1.3"/>
</g>
<text x="204.5" y="1166.6" font-size="40.1" fill="#858888" stroke="#858888" stroke-width="0.9" textLength="148" lengthAdjust="spacingAndGlyphs">~10 nm</text>
<text x="182" y="1219.5" font-size="45.8" fill="#6a6d6d" stroke="#6a6d6d" stroke-width="0.9" textLength="189" lengthAdjust="spacingAndGlyphs">ΔU<tspan dy="6.5" font-size="32.3">s</tspan><tspan dy="-6.5"> (k</tspan><tspan dy="11.5" font-size="33.2">B</tspan><tspan dy="-11.5">T)</tspan></text>
<path d="M179.5 1197.1H147.2V1189L123.1 1203.4L147.2 1217.8V1209.7H179.5Z" fill="#6a6d6d"/>
<path d="M372.3 1197.1H404.2V1189L428.3 1203.4L404.2 1217.8V1209.7H372.3Z" fill="#6a6d6d"/>
<rect x="102.4" y="1123.4" width="351.4" height="520.3" rx="13" fill="none" stroke="#6a6d6d" stroke-width="4.2"/>
<text x="203.5" y="1691.7" font-size="40.7" fill="#858888" stroke="#858888" stroke-width="0.9" textLength="124" lengthAdjust="spacingAndGlyphs">~3 k<tspan dy="7.6" font-size="24.3">B</tspan><tspan dy="-7.6">T</tspan></text>
<g clip-path="url(#clipE2)">
<rect x="580" y="1120" width="424" height="530" fill="#c3e7e3"/>
<path d="M575 1263C576.8 1265.1 579.1 1268.1 585.6 1275.6C592.1 1283.1 603.5 1295.5 614.2 1308C624.9 1320.5 639.5 1339.5 650 1350.6C660.5 1361.7 667.1 1367.1 677.3 1374.5C687.5 1381.9 700 1389.9 711.4 1395C722.8 1400.1 734.1 1402.7 745.5 1405.2C756.9 1407.7 768.5 1409 779.6 1410C790.7 1411 801.7 1412.1 812 1411.4C822.3 1410.7 832.1 1408.5 841.2 1406C850.3 1403.5 858.2 1400.8 866.7 1396.7C875.2 1392.6 883.8 1387.6 892.3 1381.3C900.8 1375 909.4 1367.3 917.9 1359.1C926.4 1350.9 935 1341.6 943.5 1331.9C952 1322.2 960.1 1312.2 969.1 1301.2C978.1 1290.2 991.2 1274.2 997.7 1266.2C1004.2 1258.2 1006.3 1255.6 1008 1253.5L1008 1530.5C1006.3 1528.9 1004.2 1526.9 997.7 1521.1C991.2 1515.3 978.1 1503.3 969.1 1495.6C960.1 1487.9 952 1481.9 943.5 1475.1C935 1468.3 926.4 1461.3 917.9 1454.6C909.4 1447.9 900.8 1440.2 892.3 1435C883.8 1429.8 875.2 1426.2 866.7 1423.1C858.2 1420 850.3 1418 841.2 1416.3C832.1 1414.6 822.3 1413.4 812 1412.8C801.7 1412.2 790.7 1412 779.6 1412.6C768.5 1413.2 756.9 1413.8 745.5 1416.3C734.1 1418.8 722.8 1422.2 711.4 1427.4C700 1432.7 687.5 1440.7 677.3 1447.8C667.1 1454.9 660.5 1460.9 650 1470C639.5 1479.1 624.9 1493.2 614.2 1502.4C603.5 1511.6 592.1 1520.1 585.6 1525.4C579.1 1530.7 576.8 1532.6 575 1534Z" fill="#e4f3fc"/>
<g clip-path="url(#clipGap)" stroke="#56606a" stroke-width="1.1">
<path d="M581.8 1270.5C587.8 1267.9 613.1 1297.7 617.6 1306.3C622.2 1314.8 612.5 1315.7 609.1 1321.6C605.7 1327.6 600.3 1339.8 597.2 1342.1C594 1344.4 591.6 1338.4 590.3 1335.3C589.1 1332.1 590.9 1325.6 589.5 1323.3C588.1 1321.1 583.1 1330.4 581.8 1321.6C580.5 1312.8 575.9 1273 581.8 1270.5Z" fill="#97bce0"/>
<path d="M611.7 1308C616.4 1306.8 623.7 1311.1 626.2 1319.9C628.6 1328.7 627 1350.6 626.2 1360.8C625.3 1371.1 624.2 1375.3 621 1381.3C617.9 1387.3 612.2 1396.1 607.4 1396.7C602.6 1397.2 594.9 1388.7 592.1 1384.7C589.2 1380.7 589.2 1378.2 590.3 1372.8C591.5 1367.4 597.6 1360 598.9 1352.3C600.2 1344.6 595.9 1334.1 598 1326.7C600.2 1319.3 607 1309.1 611.7 1308Z" fill="#6ea4cc"/>
<path d="M623.6 1319.9C628.3 1321.6 647 1341.8 651.7 1348.9C656.4 1356 652.7 1356.9 651.7 1362.6C650.7 1368.2 647.2 1377 645.8 1383C644.3 1389 645.5 1394.4 643.2 1398.4C640.9 1402.3 635.1 1407.2 632.1 1406.9C629.1 1406.6 626.7 1401.2 625.3 1396.7C623.9 1392.1 623.5 1385.6 623.6 1379.6C623.7 1373.6 626.2 1367.7 626.2 1360.8C626.2 1354 624 1345.5 623.6 1338.7C623.2 1331.9 618.9 1318.2 623.6 1319.9Z" fill="#97bce0"/>
<path d="M648.3 1347.2C651.2 1347.8 667.1 1361.1 668.8 1366C670.5 1370.8 661.4 1373.6 658.6 1376.2C655.7 1378.8 653.4 1381.3 651.7 1381.3C650 1381.3 648.3 1379.3 648.3 1376.2C648.3 1373.1 651.7 1367.4 651.7 1362.6C651.7 1357.7 645.5 1346.6 648.3 1347.2Z" fill="#97bce0"/>
<path d="M677.3 1374.5C680.7 1371.9 691.5 1381.3 696.1 1384.7C700.6 1388.1 703.8 1391.8 704.6 1395C705.5 1398.1 701.9 1399.8 701.2 1403.5C700.5 1407.2 701.5 1414.6 700.3 1417.1C699.2 1419.7 697.1 1419.4 694.4 1418.8C691.7 1418.3 687.1 1414.8 684.1 1413.7C681.2 1412.6 677.9 1414.3 676.5 1412C675 1409.7 675.5 1406.3 675.6 1400.1C675.8 1393.8 673.9 1377 677.3 1374.5Z" fill="#97bce0"/>
<path d="M667.9 1366C671.4 1364.1 677.9 1371.1 679.9 1375.3C681.9 1379.6 680.7 1386.9 679.9 1391.5C679 1396.2 675.9 1398.9 674.8 1403.5C673.6 1408 674.6 1415.3 673.1 1418.8C671.5 1422.4 667.8 1424.8 665.4 1424.8C663 1424.8 659.3 1422.9 658.6 1418.8C657.9 1414.7 661 1405.5 661.1 1400.1C661.3 1394.7 658.3 1392.1 659.4 1386.4C660.6 1380.7 664.5 1367.8 667.9 1366Z" fill="#6ea4cc"/>
<path d="M687.6 1383.9C689.4 1383 695.2 1383.7 696.9 1386.4C698.6 1389.1 698.5 1395.8 697.8 1400.1C697.1 1404.3 693.8 1408 692.7 1412C691.5 1416 692.8 1420.9 691 1423.9C689.1 1427 683.6 1429.9 681.6 1430.4C679.6 1431 678.6 1430.7 679 1427.4C679.5 1424 683 1416.3 684.1 1410.3C685.3 1404.3 685.3 1395.9 685.8 1391.5C686.4 1387.1 685.7 1384.7 687.6 1383.9Z" fill="#6ea4cc"/>
<path d="M581.8 1510.9C584.4 1509.1 597.2 1515.5 597.2 1518.6C597.2 1521.7 584.4 1531 581.8 1529.7C579.3 1528.4 579.3 1512.8 581.8 1510.9Z" fill="#97bce0"/>
<path d="M609.1 1492.2C609.5 1488.7 613.7 1486.3 615.9 1485.3C618.2 1484.3 620.5 1485.1 622.7 1486.2C625 1487.3 631.1 1488.9 629.6 1492.2C628 1495.4 616.8 1505.8 613.4 1505.8C610 1505.8 608.7 1495.6 609.1 1492.2Z" fill="#97bce0"/>
<path d="M581.8 1470C583.2 1463.4 588.4 1471.1 590.3 1473.4C592.3 1475.7 592.3 1481.1 593.8 1483.6C595.2 1486.2 597.7 1485.1 598.9 1488.7C600 1492.4 601 1500.7 600.6 1505.8C600.2 1510.9 599.4 1518.3 596.3 1519.4C593.2 1520.6 584.2 1520.9 581.8 1512.6C579.4 1504.4 580.4 1476.5 581.8 1470Z" fill="#6ea4cc"/>
<path d="M599.7 1485.3C600.9 1483.1 605 1482.5 606.5 1483.6C608.1 1484.8 607.7 1488.7 609.1 1492.2C610.5 1495.6 616.2 1500.5 615.1 1504.1C613.9 1507.6 604.8 1514.6 602.3 1513.5C599.7 1512.3 600.2 1502 599.7 1497.3C599.3 1492.6 598.6 1487.6 599.7 1485.3Z" fill="#6ea4cc"/>
<path d="M631.3 1454.6C632.6 1453.5 635.8 1450.4 638.1 1451.2C640.4 1452.1 642.8 1456.2 644.9 1459.8C647 1463.3 651.9 1468.8 650.9 1472.5C649.9 1476.2 641.6 1482.6 638.9 1481.9C636.2 1481.2 636.1 1472.3 634.7 1468.3C633.3 1464.3 631 1460.3 630.4 1458C629.9 1455.8 630 1455.8 631.3 1454.6Z" fill="#97bce0"/>
<path d="M607.4 1447.8C608.3 1446 611.7 1442.7 614.2 1443.6C616.8 1444.4 620.2 1449.1 622.7 1452.9C625.3 1456.8 626.9 1462 629.6 1466.6C632.3 1471.1 639.5 1475.8 638.9 1480.2C638.4 1484.6 629.7 1493.3 626.2 1493C622.6 1492.7 620.2 1482.9 617.6 1478.5C615.1 1474.1 612.2 1470.6 610.8 1466.6C609.4 1462.6 609.7 1457.8 609.1 1454.6C608.5 1451.5 606.5 1449.7 607.4 1447.8Z" fill="#6ea4cc"/>
<path d="M655.2 1439.3C655.4 1437.4 658.3 1439 660.3 1440.1C662.3 1441.3 664.5 1444.5 667.1 1446.1C669.6 1447.7 676.8 1446.5 675.6 1449.5C674.5 1452.5 663.1 1463.7 660.3 1464C657.4 1464.3 659.4 1455.3 658.6 1451.2C657.7 1447.1 654.9 1441.1 655.2 1439.3Z" fill="#97bce0"/>
<path d="M639.8 1429.1C640.7 1426.3 643.9 1424.3 645.8 1424.3C647.6 1424.3 649.9 1426.6 650.9 1429.1C651.9 1431.6 650.5 1435.6 651.7 1439.3C653 1443 657 1447.2 658.6 1451.2C660.1 1455.2 662.5 1459.6 661.1 1463.2C659.7 1466.7 652.7 1474 650 1472.5C647.3 1471.1 646.5 1459.9 644.9 1454.6C643.4 1449.4 641.5 1445.3 640.7 1441C639.8 1436.7 638.9 1431.8 639.8 1429.1Z" fill="#6ea4cc"/>
<path d="M1001.5 1261.9C995.5 1256.5 969.6 1295.2 965.6 1302.9C961.7 1310.5 974.7 1304.9 977.6 1308C980.4 1311.1 981 1318.2 982.7 1321.6C984.4 1325 984.7 1326.2 987.8 1328.4C990.9 1330.7 999.2 1346.4 1001.5 1335.3C1003.7 1324.2 1007.4 1267.3 1001.5 1261.9Z" fill="#97bce0"/>
<path d="M984.4 1282.4C984.7 1284.5 987.7 1293.2 986.1 1295.2C984.5 1297.2 976.9 1294.5 975 1294.3" fill="none"/>
<path d="M966.5 1302.9C972.8 1298.7 974.9 1304.9 977.6 1308C980.3 1311.1 980.1 1317.1 982.7 1321.6C985.3 1326.2 990.9 1331 992.9 1335.3C994.9 1339.5 995.2 1344.1 994.6 1347.2C994.1 1350.3 992.6 1353.2 989.5 1354C986.4 1354.9 979 1351.3 975.9 1352.3C972.8 1353.3 972.8 1359.4 970.8 1360C968.8 1360.6 966.1 1358.1 963.9 1355.7C961.8 1353.3 960.5 1348.3 958 1345.5C955.4 1342.7 951.6 1340.8 948.6 1338.7C945.6 1336.5 937.1 1338.7 940.1 1332.7C943.1 1326.7 960.2 1307 966.5 1302.9Z" fill="#6ea4cc"/>
<path d="M940.9 1332.7C943.9 1332.7 950.4 1337.7 953.7 1342.1C957 1346.5 958.8 1351.8 960.5 1359.1C962.2 1366.5 965.1 1382 963.9 1386.4C962.8 1390.8 957.1 1386.4 953.7 1385.6C950.3 1384.7 946 1386.3 943.5 1381.3C940.9 1376.3 939.6 1362.3 938.4 1355.7C937.1 1349.2 935.4 1345.9 935.8 1342.1C936.2 1338.3 937.9 1332.7 940.9 1332.7Z" fill="#97bce0"/>
<path d="M921.3 1369.4C924.7 1370.2 930.4 1377 935 1381.3C939.5 1385.6 946.3 1391.3 948.6 1395C950.9 1398.6 950 1401.2 948.6 1403.5C947.2 1405.8 943.5 1408.3 940.1 1408.6C936.7 1408.9 931.3 1407.5 928.1 1405.2C925 1402.9 923.3 1398.1 921.3 1395C919.3 1391.8 917.3 1389.6 916.2 1386.4C915.1 1383.3 913.6 1379 914.5 1376.2C915.3 1373.4 917.9 1368.5 921.3 1369.4Z" fill="#97bce0"/>
<path d="M935 1340.4C938.2 1340 936.4 1350.9 938.4 1355.7C940.4 1360.6 945.6 1365.7 946.9 1369.4C948.2 1373.1 948 1376.1 946 1377.9C944 1379.7 938.5 1381.3 935 1380.5C931.4 1379.6 927.4 1376.5 924.7 1372.8C922 1369.1 917 1363.7 918.8 1358.3C920.5 1352.9 931.7 1340.8 935 1340.4Z" fill="#6ea4cc"/>
<path d="M918.8 1357.4C920.9 1357.7 921.7 1364.8 921.3 1367.7C920.9 1370.5 918.3 1374.8 916.2 1374.5C914.1 1374.2 908.1 1368.8 908.5 1366C908.9 1363.1 916.6 1357.2 918.8 1357.4Z" fill="#6ea4cc"/>
<path d="M887.2 1383.9C890.3 1383.3 893.2 1390.5 895.7 1393.2C898.3 1395.9 901.3 1396.9 902.6 1400.1C903.8 1403.2 904 1409.2 903.4 1412C902.8 1414.8 901.3 1417.4 899.1 1417.1C897 1416.8 893.5 1412 890.6 1410.3C887.8 1408.6 884.4 1409.2 882.1 1406.9C879.8 1404.6 876.1 1400.5 877 1396.7C877.8 1392.8 884.1 1384.4 887.2 1383.9Z" fill="#97bce0"/>
<path d="M908.5 1366C912.9 1365.3 912.9 1375.3 914.5 1379.6C916.1 1383.9 915.9 1388.4 917.9 1391.5C919.9 1394.7 925 1396.1 926.4 1398.4C927.8 1400.6 927.6 1403.6 926.4 1405.2C925.3 1406.7 923 1408.3 919.6 1407.7C916.2 1407.2 909.9 1404.2 906 1401.8C902 1399.4 898.7 1396.2 895.7 1393.2C892.7 1390.3 885.9 1388.4 888.1 1383.9C890.2 1379.3 904.1 1366.7 908.5 1366Z" fill="#6ea4cc"/>
<path d="M919.6 1434.2C921 1429.1 923.9 1423.5 926.4 1420.5C929 1417.5 932.5 1416 935 1416.3C937.4 1416.6 939.5 1419 940.9 1422.2C942.3 1425.5 945.6 1433 943.5 1435.9C941.3 1438.7 931 1435.5 928.1 1439.3C925.3 1443.1 928.1 1456.9 926.4 1458.9C924.7 1460.9 919 1455.3 917.9 1451.2C916.8 1447.1 918.2 1439.3 919.6 1434.2Z" fill="#97bce0"/>
<path d="M896.6 1434.2C893.5 1430.1 897.3 1429.1 899.1 1427.4C901 1425.6 905.4 1425.9 907.7 1423.9C909.9 1422 910.5 1417.3 912.8 1415.4C915.1 1413.6 919.2 1412.3 921.3 1412.9C923.4 1413.4 925.6 1415.8 925.6 1418.8C925.6 1421.8 922.4 1427.6 921.3 1430.8C920.2 1433.9 919.3 1434 918.8 1437.6C918.2 1441.1 921.6 1452.6 917.9 1452.1C914.2 1451.5 899.7 1438.3 896.6 1434.2Z" fill="#6ea4cc"/>
<path d="M957.1 1446.1C959.3 1439.1 964.8 1440 967.4 1437.6C969.9 1435.2 970.6 1432 972.5 1431.6C974.3 1431.2 977.3 1432.6 978.4 1435C979.6 1437.4 979.6 1442.8 979.3 1446.1C979 1449.4 976.9 1451.2 976.7 1454.6C976.6 1458 977.6 1462.9 978.4 1466.6C979.3 1470.3 981.1 1473.1 981.8 1476.8C982.6 1480.5 984 1485.3 982.7 1488.7C981.4 1492.2 978.9 1498.8 974.2 1497.3C969.5 1495.7 957.4 1487.9 954.6 1479.4C951.7 1470.8 955 1453.1 957.1 1446.1Z" fill="#97bce0"/>
<path d="M928.1 1439.3C930.8 1435.7 939.8 1438 943.5 1437.6C947.2 1437.2 948.2 1435.9 950.3 1436.7C952.4 1437.6 955.3 1439.7 956.3 1442.7C957.3 1445.7 955.8 1450.1 956.3 1454.6C956.7 1459.2 959.1 1465.7 958.8 1470C958.5 1474.2 959.8 1482.1 954.6 1480.2C949.3 1478.4 931.7 1465.7 927.3 1458.9C922.9 1452.1 925.4 1442.8 928.1 1439.3Z" fill="#6ea4cc"/>
<path d="M965.6 1489.6C965.1 1486.5 968.5 1482.3 970.8 1478.5C973 1474.7 977.4 1466.9 979.3 1466.6C981.1 1466.3 981.3 1473.1 981.8 1476.8C982.4 1480.5 984 1485.3 982.7 1488.7C981.4 1492.2 977 1497.1 974.2 1497.3C971.3 1497.4 966.2 1492.7 965.6 1489.6Z" fill="#97bce0"/>
<path d="M1001.5 1456.3C999.8 1445.1 993.8 1455.5 991.2 1457.2C988.7 1458.9 987.5 1462.7 986.1 1466.6C984.7 1470.4 983.1 1476.5 982.7 1480.2C982.3 1483.9 985 1485.9 983.6 1488.7C982.1 1491.6 971.2 1491.3 974.2 1497.3C977.2 1503.2 996.9 1531.4 1001.5 1524.6C1006 1517.7 1003.2 1467.6 1001.5 1456.3Z" fill="#6ea4cc"/>
</g>
<path d="M640 1245A145.6 118.4 0 0 0 931.2 1245Z" fill="url(#gradN)"/>
<path d="M640 1245A145.6 118.4 0 0 0 931.2 1245" fill="none" stroke="#6a6d6d" stroke-width="2.4"/>
<ellipse cx="822.5" cy="1645" rx="146" ry="121" fill="#50b8df" stroke="#7b7e7e" stroke-width="2.4"/>
<path d="M575 1263C576.8 1265.1 579.1 1268.1 585.6 1275.6C592.1 1283.1 603.5 1295.5 614.2 1308C624.9 1320.5 639.5 1339.5 650 1350.6C660.5 1361.7 667.1 1367.1 677.3 1374.5C687.5 1381.9 700 1389.9 711.4 1395C722.8 1400.1 734.1 1402.7 745.5 1405.2C756.9 1407.7 768.5 1409 779.6 1410C790.7 1411 801.7 1412.1 812 1411.4C822.3 1410.7 832.1 1408.5 841.2 1406C850.3 1403.5 858.2 1400.8 866.7 1396.7C875.2 1392.6 883.8 1387.6 892.3 1381.3C900.8 1375 909.4 1367.3 917.9 1359.1C926.4 1350.9 935 1341.6 943.5 1331.9C952 1322.2 960.1 1312.2 969.1 1301.2C978.1 1290.2 991.2 1274.2 997.7 1266.2C1004.2 1258.2 1006.3 1255.6 1008 1253.5" fill="none" stroke="#6a6d6d" stroke-width="2.6"/>
<path d="M575 1534C576.8 1532.6 579.1 1530.7 585.6 1525.4C592.1 1520.1 603.5 1511.6 614.2 1502.4C624.9 1493.2 639.5 1479.1 650 1470C660.5 1460.9 667.1 1454.9 677.3 1447.8C687.5 1440.7 700 1432.7 711.4 1427.4C722.8 1422.2 734.1 1418.8 745.5 1416.3C756.9 1413.8 768.5 1413.2 779.6 1412.6C790.7 1412 801.7 1412.2 812 1412.8C822.3 1413.4 832.1 1414.6 841.2 1416.3C850.3 1418 858.2 1420 866.7 1423.1C875.2 1426.2 883.8 1429.8 892.3 1435C900.8 1440.2 909.4 1447.9 917.9 1454.6C926.4 1461.3 935 1468.3 943.5 1475.1C952 1481.9 960.1 1487.9 969.1 1495.6C978.1 1503.3 991.2 1515.3 997.7 1521.1C1004.2 1526.9 1006.3 1528.9 1008 1530.5" fill="none" stroke="#6a6d6d" stroke-width="2.6"/>
</g>
<text x="706" y="1167.1" font-size="40.6" fill="#858888" stroke="#858888" stroke-width="0.9" textLength="172" lengthAdjust="spacingAndGlyphs">~100 nm</text>
<text x="679.5" y="1217.4" font-size="45" fill="#6a6d6d" stroke="#6a6d6d" stroke-width="0.9" textLength="228" lengthAdjust="spacingAndGlyphs">ΔU<tspan dy="7.2" font-size="32.3">app</tspan><tspan dy="-7.2">(k</tspan><tspan dy="12.3" font-size="33.2">B</tspan><tspan dy="-12.3">T)</tspan></text>
<path d="M677 1195.6H644.6V1187.4L620.5 1201.8L644.6 1216.2V1208H677Z" fill="#6a6d6d"/>
<path d="M912.1 1196H945V1187.8L969 1202.2L945 1216.6V1208.4H912.1Z" fill="#6a6d6d"/>
<rect x="583.3" y="1123.9" width="416.5" height="521.1" rx="13" fill="none" stroke="#6a6d6d" stroke-width="4.2"/>
<text x="702.5" y="1691.7" font-size="40.7" fill="#858888" stroke="#858888" stroke-width="0.9" textLength="171" lengthAdjust="spacingAndGlyphs">~200 k<tspan dy="7.6" font-size="24.3">B</tspan><tspan dy="-7.6">T</tspan></text>
<path d="M476.4 1360.7H528V1348.3L566.1 1370.8L528 1393.3V1380.9H476.4Z" fill="#6a6d6d"/>
<text x="21.5" y="1147.2" font-size="47.8" fill="#231f20" stroke="#231f20" stroke-width="0.9" textLength="26" lengthAdjust="spacingAndGlyphs">E</text>
<!-- Panel F -->
<text x="1068.5" y="1147" font-size="47.8" fill="#231f20" stroke="#231f20" stroke-width="0.9" textLength="25" lengthAdjust="spacingAndGlyphs">F</text>
<path d="M1270.6 1159V1560M1268.3 1560H1831.4" stroke="#5d6060" stroke-width="4.3" fill="none"/>
<path d="M1270.4 1544H1765" stroke="#7c7e7e" stroke-width="4" stroke-dasharray="11.5 11.5" fill="none"/>
<polyline points="1271.6,1560 1283.3,1559.7 1294.9,1559 1306.6,1557.7 1318.3,1556 1329.9,1553.7 1341.6,1551 1353.3,1547.7 1364.9,1544 1376.6,1539.7 1388.3,1535 1399.9,1529.7 1411.6,1523.9 1423.3,1517.7 1434.9,1510.9 1446.6,1503.6 1458.3,1495.9 1469.9,1487.6 1481.6,1478.8 1493.3,1469.6 1504.9,1459.8 1516.6,1449.5 1528.3,1438.8 1539.9,1427.5 1551.6,1415.7 1563.3,1403.4 1574.9,1390.7 1586.6,1377.4 1598.3,1363.6 1609.9,1349.3 1621.6,1334.5 1633.3,1319.3 1644.9,1303.5 1656.6,1287.2 1668.3,1270.4 1679.9,1253.1 1691.6,1235.4 1703.3,1217.1 1714.9,1198.3 1726.6,1179 1738.3,1159.2" fill="none" stroke="#efb124" stroke-width="3.7"/>
<polyline points="1271.6,1560 1279.8,1559.7 1288.1,1559 1296.3,1557.7 1304.6,1556 1312.8,1553.7 1321.1,1551 1329.3,1547.7 1337.6,1544 1345.8,1539.7 1354.1,1535 1362.3,1529.7 1370.6,1523.9 1378.8,1517.7 1387.1,1510.9 1395.3,1503.6 1403.6,1495.9 1411.8,1487.6 1420.1,1478.8 1428.3,1469.6 1436.6,1459.8 1444.8,1449.5 1453.1,1438.8 1461.3,1427.5 1469.6,1415.7 1477.8,1403.4 1486.1,1390.7 1494.3,1377.4 1502.6,1363.6 1510.8,1349.3 1519.1,1334.5 1527.3,1319.3 1535.6,1303.5 1543.8,1287.2 1552.1,1270.4 1560.3,1253.1 1568.6,1235.4 1576.8,1217.1 1585.1,1198.3 1593.3,1179 1601.6,1159.2" fill="none" stroke="#c5dd4c" stroke-width="3.7"/>
<polyline points="1271.6,1560 1278.3,1559.7 1285.1,1559 1291.8,1557.7 1298.5,1556 1305.3,1553.7 1312,1551 1318.8,1547.7 1325.5,1544 1332.2,1539.7 1339,1535 1345.7,1529.7 1352.4,1523.9 1359.2,1517.7 1365.9,1510.9 1372.6,1503.6 1379.4,1495.9 1386.1,1487.6 1392.8,1478.8 1399.6,1469.6 1406.3,1459.8 1413.1,1449.5 1419.8,1438.8 1426.5,1427.5 1433.3,1415.7 1440,1403.4 1446.7,1390.7 1453.5,1377.4 1460.2,1363.6 1466.9,1349.3 1473.7,1334.5 1480.4,1319.3 1487.1,1303.5 1493.9,1287.2 1500.6,1270.4 1507.4,1253.1 1514.1,1235.4 1520.8,1217.1 1527.6,1198.3 1534.3,1179 1541,1159.2" fill="none" stroke="#76ad45" stroke-width="3.7"/>
<polyline points="1271.6,1560 1277.4,1559.7 1283.3,1559 1289.1,1557.7 1294.9,1556 1300.8,1553.7 1306.6,1551 1312.4,1547.7 1318.3,1544 1324.1,1539.7 1329.9,1535 1335.8,1529.7 1341.6,1523.9 1347.4,1517.7 1353.3,1510.9 1359.1,1503.6 1364.9,1495.9 1370.8,1487.6 1376.6,1478.8 1382.4,1469.6 1388.3,1459.8 1394.1,1449.5 1399.9,1438.8 1405.8,1427.5 1411.6,1415.7 1417.4,1403.4 1423.3,1390.7 1429.1,1377.4 1434.9,1363.6 1440.8,1349.3 1446.6,1334.5 1452.4,1319.3 1458.3,1303.5 1464.1,1287.2 1469.9,1270.4 1475.8,1253.1 1481.6,1235.4 1487.4,1217.1 1493.3,1198.3 1499.1,1179 1504.9,1159.2" fill="none" stroke="#14adae" stroke-width="3.7"/>
<polyline points="1271.6,1560 1276.8,1559.7 1282,1559 1287.3,1557.7 1292.5,1556 1297.7,1553.7 1302.9,1551 1308.1,1547.7 1313.3,1544 1318.6,1539.7 1323.8,1535 1329,1529.7 1334.2,1523.9 1339.4,1517.7 1344.6,1510.9 1349.9,1503.6 1355.1,1495.9 1360.3,1487.6 1365.5,1478.8 1370.7,1469.6 1375.9,1459.8 1381.2,1449.5 1386.4,1438.8 1391.6,1427.5 1396.8,1415.7 1402,1403.4 1407.3,1390.7 1412.5,1377.4 1417.7,1363.6 1422.9,1349.3 1428.1,1334.5 1433.3,1319.3 1438.6,1303.5 1443.8,1287.2 1449,1270.4 1454.2,1253.1 1459.4,1235.4 1464.6,1217.1 1469.9,1198.3 1475.1,1179 1480.3,1159.2" fill="none" stroke="#2486c9" stroke-width="3.7"/>
<text x="1257" y="1157" font-size="37.1" fill="#5d6060" stroke="#5d6060" stroke-width="0.9" text-anchor="end" textLength="77" lengthAdjust="spacingAndGlyphs">1000</text>
<text x="1257" y="1236" font-size="37.1" fill="#5d6060" stroke="#5d6060" stroke-width="0.9" text-anchor="end" textLength="58.5" lengthAdjust="spacingAndGlyphs">800</text>
<text x="1257" y="1315.1" font-size="37.1" fill="#5d6060" stroke="#5d6060" stroke-width="0.9" text-anchor="end" textLength="58.5" lengthAdjust="spacingAndGlyphs">600</text>
<text x="1257" y="1396.5" font-size="37.1" fill="#5d6060" stroke="#5d6060" stroke-width="0.9" text-anchor="end" textLength="58.5" lengthAdjust="spacingAndGlyphs">400</text>
<text x="1257" y="1476.1" font-size="37.1" fill="#5d6060" stroke="#5d6060" stroke-width="0.9" text-anchor="end" textLength="58.5" lengthAdjust="spacingAndGlyphs">200</text>
<text x="1257" y="1555.9" font-size="37.1" fill="#5d6060" stroke="#5d6060" stroke-width="0.9" text-anchor="end">0</text>
<text x="1273.5" y="1594" font-size="36.3" fill="#5d6060" stroke="#5d6060" stroke-width="0.9" text-anchor="middle">0</text>
<text x="1414.2" y="1594" font-size="36.3" fill="#5d6060" stroke="#5d6060" stroke-width="0.9" text-anchor="middle" textLength="57" lengthAdjust="spacingAndGlyphs">100</text>
<text x="1553" y="1591.2" font-size="36.3" fill="#5d6060" stroke="#5d6060" stroke-width="0.9" text-anchor="middle" textLength="57" lengthAdjust="spacingAndGlyphs">200</text>
<text x="1692.5" y="1594" font-size="36.3" fill="#5d6060" stroke="#5d6060" stroke-width="0.9" text-anchor="middle" textLength="57" lengthAdjust="spacingAndGlyphs">300</text>
<text x="1832" y="1594" font-size="36.3" fill="#5d6060" stroke="#5d6060" stroke-width="0.9" text-anchor="middle" textLength="57" lengthAdjust="spacingAndGlyphs">400</text>
<text x="1772.5" y="1552.1" font-size="28.5" fill="#828484" stroke="#828484" stroke-width="0.9" textLength="60" lengthAdjust="spacingAndGlyphs">40kT</text>
<text x="1270" y="1654.7" font-size="49" fill="#5d6060" stroke="#5d6060" stroke-width="0.9" textLength="577" lengthAdjust="spacingAndGlyphs">Fusion interface size (nm)</text>
<text x="1171.9" y="1465" font-size="50.3" fill="#5d6060" stroke="#5d6060" stroke-width="0.9" textLength="238" lengthAdjust="spacingAndGlyphs" transform="rotate(-90 1171.9 1465)">ΔU<tspan dy="6.6" font-size="33">app</tspan><tspan dy="-6.6">(k</tspan><tspan dy="13" font-size="34.8">B</tspan><tspan dy="-13">T)</tspan></text>
<rect x="1686.4" y="1278" width="153.4" height="241.7" fill="#fff" stroke="#5d6060" stroke-width="4"/>
<path d="M1686.4 1324.4H1839.8" stroke="#5d6060" stroke-width="4.4"/>
<text x="1691" y="1313.5" font-size="37.4" fill="#5d6060" stroke="#5d6060" stroke-width="0.9" textLength="146" lengthAdjust="spacingAndGlyphs">ΔU<tspan dy="1" font-size="29.4">s</tspan><tspan dy="-1"> (k</tspan><tspan dy="6.5" font-size="26.5">B</tspan><tspan dy="-6.5">T)</tspan></text>
<path d="M1714.9 1350.5H1767.9" stroke="#efb124" stroke-width="6.2"/>
<text x="1797.5" y="1361.7" font-size="31.7" fill="#5d6060" stroke="#5d6060" stroke-width="0.9" text-anchor="middle">1</text>
<path d="M1714.9 1386.5H1767.9" stroke="#c5dd4c" stroke-width="6.2"/>
<text x="1797.5" y="1397.7" font-size="31.7" fill="#5d6060" stroke="#5d6060" stroke-width="0.9" text-anchor="middle">2</text>
<path d="M1714.9 1422.2H1767.9" stroke="#76ad45" stroke-width="6.2"/>
<text x="1797.5" y="1433.4" font-size="31.7" fill="#5d6060" stroke="#5d6060" stroke-width="0.9" text-anchor="middle">3</text>
<path d="M1714.9 1457.8H1767.9" stroke="#14adae" stroke-width="6.2"/>
<text x="1797.5" y="1469" font-size="31.7" fill="#5d6060" stroke="#5d6060" stroke-width="0.9" text-anchor="middle">4</text>
<path d="M1714.9 1493.8H1767.9" stroke="#2486c9" stroke-width="6.2"/>
<text x="1797.5" y="1505" font-size="31.7" fill="#5d6060" stroke="#5d6060" stroke-width="0.9" text-anchor="middle">5</text>
</svg></body></html>
